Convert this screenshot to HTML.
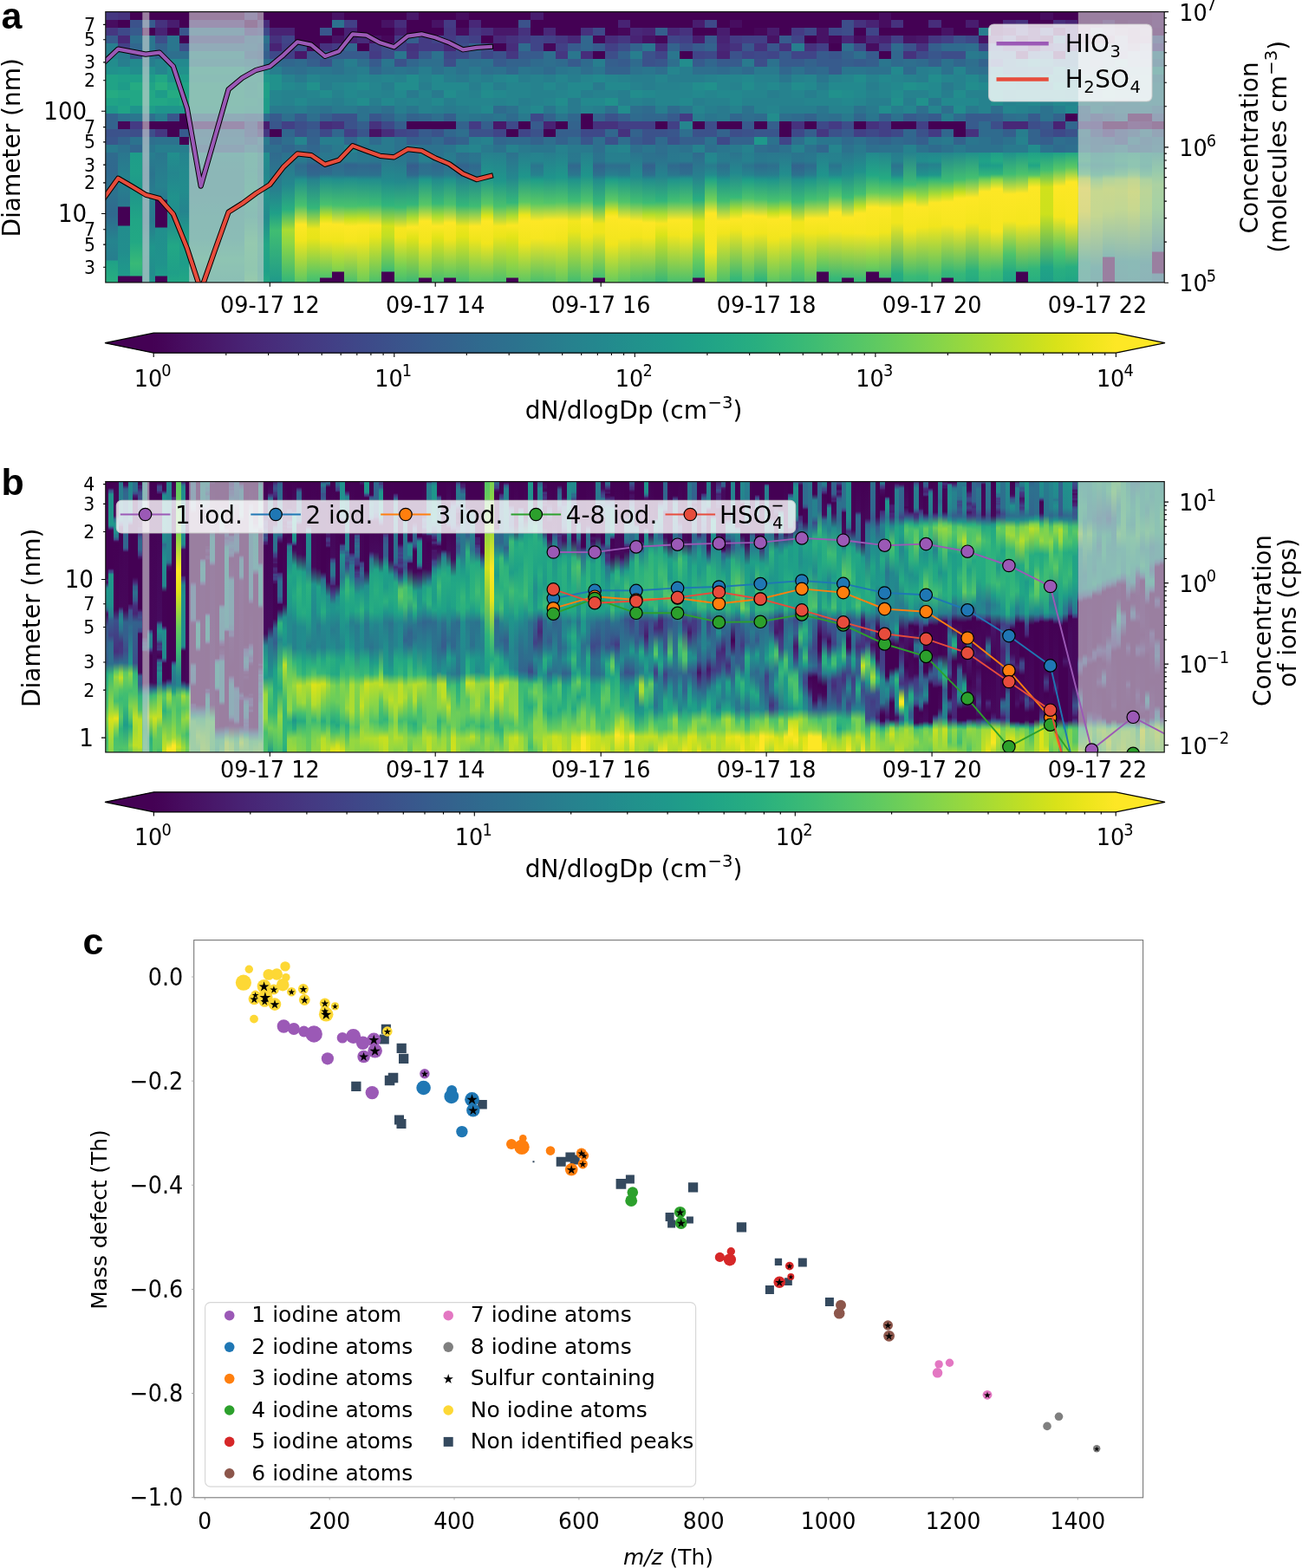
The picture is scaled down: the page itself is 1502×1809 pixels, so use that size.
<!DOCTYPE html><html><head><meta charset="utf-8"><title>figure</title>
<style>html,body{margin:0;padding:0;background:#fff}#fig{position:relative;width:1502px;height:1809px;overflow:hidden;background:#fff}svg{display:block;position:absolute;left:0;top:0}text{font-family:'DejaVu Sans','Liberation Sans',sans-serif;fill:#000}.hm{position:absolute;overflow:hidden}.hm i{position:absolute;top:0;display:block}</style></head><body><div id="fig">
<div class="hm" style="left:121.8px;top:13.6px;width:1221.4px;height:312.3px">
<i style="left:0.0px;width:14.9px;height:313px;background:linear-gradient(#453781 0.1px 9.1px,#470d60 9.1px 18.1px,#453781 18.1px 27.1px,#375b8d 27.1px 36.1px,#277e8e 36.1px 45.0px,#26828e 45.1px 54.0px,#228d8d 54.0px 63.0px,#21918c 63.0px 72.0px,#20a386 72.0px 81.0px,#20a386 81.0px 90.0px,#25ab82 90.0px 99.0px,#20a386 99.0px 108.0px,#1f988b 108.0px 117.0px,#33638d 117.0px 126.0px,#33638d 126.0px 135.0px,#3b528b 134.9px 143.9px,#39568c 143.9px 152.9px,#297a8e 152.9px 161.9px,#2f6b8e 162px,#30698e 184px,#2c728e 208px,#30698e 233px,#25848e 264px,#277e8e 286px,#1fa187 287px,#29af7f 313px)"></i>
<i style="left:14.3px;width:14.4px;height:313px;background:linear-gradient(#46327e 0.1px 9.1px,#440154 9.1px 18.1px,#3e4989 18.1px 27.1px,#482878 27.1px 36.1px,#424086 36.1px 45.0px,#297a8e 45.1px 54.0px,#277e8e 54.0px 63.0px,#1f948c 63.0px 72.0px,#1fa088 72.0px 81.0px,#1e9c89 81.0px 90.0px,#22a785 90.0px 99.0px,#1fa088 99.0px 108.0px,#20a386 108.0px 117.0px,#2c728e 117.0px 126.0px,#46075a 126.0px 135.0px,#3b528b 134.9px 143.9px,#33638d 143.9px 152.9px,#2c728e 152.9px 161.9px,#2a768e 162px,#26828e 190px,#2a768e 219px,#297a8e 224px,#440154 225px,#440154 246px,#228c8d 247px,#218e8d 277px,#1f9a8a 303px,#1f9a8a 304px,#440154 305px,#440154 313px)"></i>
<i style="left:28.1px;width:14.8px;height:313px;background:linear-gradient(#440154 0.1px 9.1px,#3b528b 9.1px 18.1px,#375b8d 18.1px 27.1px,#2e6f8e 27.1px 36.1px,#31678e 36.1px 45.0px,#3b528b 45.1px 54.0px,#23898e 54.0px 63.0px,#228d8d 63.0px 72.0px,#1fa088 72.0px 81.0px,#25ab82 81.0px 90.0px,#22a785 90.0px 99.0px,#22a785 99.0px 108.0px,#1f948c 108.0px 117.0px,#2a768e 117.0px 126.0px,#443b84 126.0px 135.0px,#3d4e8a 134.9px 143.9px,#2c728e 143.9px 152.9px,#31678e 152.9px 161.9px,#1e9d89 162px,#1f9f88 184px,#1f968b 209px,#21a585 240px,#22a884 265px,#38b977 290px,#2cb17e 304px,#440154 305px,#440154 313px)"></i>
<i style="left:42.3px;width:15.6px;height:313px;background:linear-gradient(#440154 0.1px 9.1px,#375b8d 9.1px 18.1px,#440154 18.1px 27.1px,#2a768e 27.1px 36.1px,#2a768e 36.1px 45.0px,#2a768e 45.1px 54.0px,#277e8e 54.0px 63.0px,#21918c 63.0px 72.0px,#1e9c89 72.0px 81.0px,#20a386 81.0px 90.0px,#22a785 90.0px 99.0px,#22a785 99.0px 108.0px,#1e9c89 108.0px 117.0px,#2e6f8e 117.0px 126.0px,#440154 126.0px 135.0px,#3d4e8a 134.9px 143.9px,#2e6f8e 143.9px 152.9px,#2a768e 152.9px 161.9px,#277e8e 162px,#2b748e 187px,#27808e 215px,#297a8e 241px,#1f958b 271px,#228d8d 302px,#1f958b 313px)"></i>
<i style="left:57.3px;width:15.0px;height:313px;background:linear-gradient(#440154 0.1px 9.1px,#46327e 9.1px 18.1px,#482374 18.1px 27.1px,#3d4e8a 27.1px 36.1px,#33638d 36.1px 45.0px,#31678e 45.1px 54.0px,#25858e 54.0px 63.0px,#25858e 63.0px 72.0px,#22a785 72.0px 81.0px,#28ae80 81.0px 90.0px,#1e9c89 90.0px 99.0px,#22a785 99.0px 108.0px,#1f948c 108.0px 117.0px,#277e8e 117.0px 126.0px,#440154 126.0px 135.0px,#453781 134.9px 143.9px,#2c728e 143.9px 152.9px,#277e8e 152.9px 161.9px,#2a778e 162px,#26828e 201px,#2a788e 216px,#440154 217px,#440154 248px,#218f8d 249px,#20938c 291px,#1e9c89 304px,#440154 305px,#440154 313px)"></i>
<i style="left:71.7px;width:14.5px;height:313px;background:linear-gradient(#440154 0.1px 9.1px,#481d6f 9.1px 18.1px,#440154 18.1px 27.1px,#2a768e 27.1px 36.1px,#2a768e 36.1px 45.0px,#2e6f8e 45.1px 54.0px,#23898e 54.0px 63.0px,#1f948c 63.0px 72.0px,#1f948c 72.0px 81.0px,#20a386 81.0px 90.0px,#25ab82 90.0px 99.0px,#20a386 99.0px 108.0px,#1f948c 108.0px 117.0px,#39568c 117.0px 126.0px,#440154 126.0px 135.0px,#440154 134.9px 143.9px,#2c728e 143.9px 152.9px,#277e8e 152.9px 161.9px,#218f8d 162px,#24868e 186px,#20928c 214px,#228b8d 239px,#22a785 270px,#1f9f88 301px,#22a884 313px)"></i>
<i style="left:85.6px;width:11.4px;height:313px;background:linear-gradient(#440154 0.1px 9.1px,#440154 9.1px 18.1px,#39568c 18.1px 27.1px,#440154 27.1px 36.1px,#3d4e8a 36.1px 45.0px,#2e6f8e 45.1px 54.0px,#23898e 54.0px 63.0px,#21918c 63.0px 72.0px,#1e9c89 72.0px 81.0px,#20a386 81.0px 90.0px,#20a386 90.0px 99.0px,#25ab82 99.0px 108.0px,#1f988b 108.0px 117.0px,#440154 117.0px 126.0px,#440154 126.0px 135.0px,#375b8d 134.9px 143.9px,#440154 143.9px 152.9px,#277e8e 152.9px 161.9px,#25838e 162px,#238a8d 185px,#228c8d 207px,#25848e 230px,#1f9f88 260px,#1e9d89 292px,#22a884 313px)"></i>
<i style="left:96.4px;width:64.8px;height:313px;background:linear-gradient(#440154 0.1px 9.1px,#472d7b 9.1px 18.1px,#2c728e 18.1px 27.1px,#3d4e8a 27.1px 36.1px,#2e6f8e 36.1px 45.0px,#228d8d 45.1px 54.0px,#25858e 54.0px 63.0px,#1fa088 63.0px 72.0px,#1e9c89 72.0px 81.0px,#20a386 81.0px 90.0px,#20a386 90.0px 99.0px,#20a386 99.0px 108.0px,#1fa088 108.0px 117.0px,#2c728e 117.0px 126.0px,#482374 126.0px 135.0px,#2c728e 134.9px 143.9px,#2a768e 143.9px 152.9px,#31678e 152.9px 161.9px,#1f948c 162px,#228c8d 186px,#228c8d 208px,#1f968b 235px,#1f988b 259px,#27ad81 285px,#1fa088 313px)"></i>
<i style="left:160.6px;width:15.0px;height:313px;background:linear-gradient(#46327e 0.1px 9.1px,#440154 9.1px 18.1px,#424086 18.1px 27.1px,#2f6b8e 27.1px 36.1px,#2c728e 36.1px 45.0px,#31678e 45.1px 54.0px,#277e8e 54.0px 63.0px,#21918c 63.0px 72.0px,#1e9c89 72.0px 81.0px,#1f988b 81.0px 90.0px,#1e9c89 90.0px 99.0px,#1fa088 99.0px 108.0px,#1e9c89 108.0px 117.0px,#31678e 117.0px 126.0px,#3b528b 126.0px 135.0px,#39568c 134.9px 143.9px,#31678e 143.9px 152.9px,#277e8e 152.9px 161.9px,#1fa088 162px,#1e9c89 184px,#21a685 210px,#1f9e89 235px,#37b878 266px,#2fb47c 297px,#40bd72 313px)"></i>
<i style="left:175.0px;width:15.0px;height:313px;background:linear-gradient(#440154 0.1px 9.1px,#472d7b 9.1px 18.1px,#3e4989 18.1px 27.1px,#2c728e 27.1px 36.1px,#31678e 36.1px 45.0px,#355f8d 45.1px 54.0px,#2c728e 54.0px 63.0px,#228d8d 63.0px 72.0px,#1f988b 72.0px 81.0px,#1fa088 81.0px 90.0px,#1fa088 90.0px 99.0px,#1e9c89 99.0px 108.0px,#1e9c89 108.0px 117.0px,#2f6b8e 117.0px 126.0px,#481d6f 126.0px 135.0px,#453781 134.9px 143.9px,#297a8e 143.9px 152.9px,#2c728e 152.9px 161.9px,#218f8d 162px,#24878e 185px,#20928c 212px,#228b8d 237px,#22a785 268px,#1fa088 299px,#24aa83 313px)"></i>
<i style="left:189.4px;width:14.9px;height:313px;background:linear-gradient(#440154 0.1px 9.1px,#440154 9.1px 18.1px,#482374 18.1px 27.1px,#46327e 27.1px 36.1px,#482374 36.1px 45.0px,#3e4989 45.1px 54.0px,#2f6b8e 54.0px 63.0px,#277e8e 63.0px 72.0px,#21918c 72.0px 81.0px,#21918c 81.0px 90.0px,#25858e 90.0px 99.0px,#25858e 99.0px 108.0px,#297a8e 108.0px 117.0px,#375b8d 117.0px 126.0px,#39568c 126.0px 135.0px,#440154 134.9px 143.9px,#33638d 143.9px 152.9px,#2e6f8e 152.9px 161.9px,#306a8e 162px,#27808e 205px,#1f9f88 232px,#40bd72 252px,#1f998a 313px)"></i>
<i style="left:203.7px;width:14.9px;height:313px;background:linear-gradient(#440154 0.1px 9.1px,#440154 9.1px 18.1px,#482374 18.1px 27.1px,#404588 27.1px 36.1px,#424086 36.1px 45.0px,#424086 45.1px 54.0px,#31678e 54.0px 63.0px,#2c728e 63.0px 72.0px,#26828e 72.0px 81.0px,#23898e 81.0px 90.0px,#26828e 90.0px 99.0px,#26828e 99.0px 108.0px,#297a8e 108.0px 117.0px,#2e6f8e 117.0px 126.0px,#424086 126.0px 135.0px,#31678e 134.9px 143.9px,#2e6f8e 143.9px 152.9px,#31678e 152.9px 161.9px,#2c718e 162px,#24878e 199px,#2ab07f 228px,#aadc32 251px,#90d743 266px,#2fb47c 313px)"></i>
<i style="left:218.1px;width:14.9px;height:313px;background:linear-gradient(#440154 0.1px 9.1px,#440154 9.1px 18.1px,#440154 18.1px 27.1px,#440154 27.1px 36.1px,#3b528b 36.1px 45.0px,#48186a 45.1px 54.0px,#2f6b8e 54.0px 63.0px,#2e6f8e 63.0px 72.0px,#297a8e 72.0px 81.0px,#25858e 81.0px 90.0px,#26828e 90.0px 99.0px,#23898e 99.0px 108.0px,#277e8e 108.0px 117.0px,#375b8d 117.0px 126.0px,#3d4e8a 126.0px 135.0px,#3b528b 134.9px 143.9px,#25858e 143.9px 152.9px,#2e6f8e 152.9px 161.9px,#2a788e 162px,#297a8e 172px,#2f6b8e 177px,#2a768e 188px,#21908d 193px,#48c16e 223px,#fde725 245px,#f1e51d 263px,#58c765 313px)"></i>
<i style="left:232.4px;width:14.9px;height:313px;background:linear-gradient(#440154 0.1px 9.1px,#440154 9.1px 18.1px,#440154 18.1px 27.1px,#440154 27.1px 36.1px,#46075a 36.1px 45.0px,#39568c 45.1px 54.0px,#355f8d 54.0px 63.0px,#2a768e 63.0px 72.0px,#25858e 72.0px 81.0px,#21918c 81.0px 90.0px,#25858e 90.0px 99.0px,#26828e 99.0px 108.0px,#2a768e 108.0px 117.0px,#2e6f8e 117.0px 126.0px,#39568c 126.0px 135.0px,#355f8d 134.9px 143.9px,#33638d 143.9px 152.9px,#31678e 152.9px 161.9px,#2e6f8e 162px,#2d708e 172px,#355e8d 177px,#30698e 188px,#26828e 193px,#34b679 226px,#ece51b 250px,#e7e419 261px,#56c667 304px,#3fbc73 313px)"></i>
<i style="left:246.8px;width:14.9px;height:313px;background:linear-gradient(#440154 0.1px 9.1px,#440154 9.1px 18.1px,#39568c 18.1px 27.1px,#440154 27.1px 36.1px,#46327e 36.1px 45.0px,#355f8d 45.1px 54.0px,#3b528b 54.0px 63.0px,#2a768e 63.0px 72.0px,#277e8e 72.0px 81.0px,#277e8e 81.0px 90.0px,#228d8d 90.0px 99.0px,#26828e 99.0px 108.0px,#2c728e 108.0px 117.0px,#355f8d 117.0px 126.0px,#472d7b 126.0px 135.0px,#3e4989 134.9px 143.9px,#277e8e 143.9px 152.9px,#2c728e 152.9px 161.9px,#2a778e 162px,#29798e 172px,#33638d 176px,#2f6c8e 187px,#218e8d 192px,#48c16e 222px,#d2e21b 237px,#fde725 244px,#f1e51d 263px,#50c46a 306px,#440154 307px,#440154 313px)"></i>
<i style="left:261.1px;width:14.9px;height:313px;background:linear-gradient(#471365 0.1px 9.1px,#2c728e 9.1px 18.1px,#440154 18.1px 27.1px,#471365 27.1px 36.1px,#443b84 36.1px 45.0px,#375b8d 45.1px 54.0px,#2c728e 54.0px 63.0px,#2c728e 63.0px 72.0px,#277e8e 72.0px 81.0px,#25858e 81.0px 90.0px,#26828e 90.0px 99.0px,#277e8e 99.0px 108.0px,#297a8e 108.0px 117.0px,#3b528b 117.0px 126.0px,#46327e 126.0px 135.0px,#31678e 134.9px 143.9px,#277e8e 143.9px 152.9px,#297a8e 152.9px 161.9px,#2a768e 162px,#29798e 172px,#306a8e 177px,#2b758e 188px,#218e8d 193px,#46c06f 223px,#fde725 245px,#efe51c 264px,#7cd250 299px,#440154 300px,#440154 313px)"></i>
<i style="left:275.4px;width:14.9px;height:313px;background:linear-gradient(#440154 0.1px 9.1px,#424086 9.1px 18.1px,#482374 18.1px 27.1px,#482374 27.1px 36.1px,#31678e 36.1px 45.0px,#375b8d 45.1px 54.0px,#277e8e 54.0px 63.0px,#297a8e 63.0px 72.0px,#277e8e 72.0px 81.0px,#23898e 81.0px 90.0px,#23898e 90.0px 99.0px,#25858e 99.0px 108.0px,#297a8e 108.0px 117.0px,#3b528b 117.0px 126.0px,#3b528b 126.0px 135.0px,#424086 134.9px 143.9px,#31678e 143.9px 152.9px,#25858e 152.9px 161.9px,#297a8e 162px,#297b8e 172px,#32648e 176px,#2d708e 188px,#218e8d 192px,#48c16e 224px,#cae11f 239px,#fde725 247px,#f4e61e 264px,#44bf70 313px)"></i>
<i style="left:289.8px;width:14.9px;height:313px;background:linear-gradient(#440154 0.1px 9.1px,#440154 9.1px 18.1px,#440154 18.1px 27.1px,#472d7b 27.1px 36.1px,#440154 36.1px 45.0px,#375b8d 45.1px 54.0px,#2e6f8e 54.0px 63.0px,#277e8e 63.0px 72.0px,#25858e 72.0px 81.0px,#228d8d 81.0px 90.0px,#25858e 90.0px 99.0px,#228d8d 99.0px 108.0px,#2c728e 108.0px 117.0px,#2c728e 117.0px 126.0px,#355f8d 126.0px 135.0px,#39568c 134.9px 143.9px,#297a8e 143.9px 152.9px,#2a768e 152.9px 161.9px,#2a768e 162px,#2a788e 172px,#31678e 177px,#2c728e 188px,#218e8d 193px,#44bf70 223px,#c5e021 238px,#fde725 246px,#f1e51d 264px,#67cc5c 313px)"></i>
<i style="left:304.1px;width:14.9px;height:313px;background:linear-gradient(#440154 0.1px 9.1px,#440154 9.1px 18.1px,#440154 18.1px 27.1px,#471365 27.1px 36.1px,#424086 36.1px 45.0px,#443b84 45.1px 54.0px,#375b8d 54.0px 63.0px,#31678e 63.0px 72.0px,#26828e 72.0px 81.0px,#25858e 81.0px 90.0px,#25858e 90.0px 99.0px,#277e8e 99.0px 108.0px,#2a768e 108.0px 117.0px,#39568c 117.0px 126.0px,#46327e 126.0px 135.0px,#471365 134.9px 143.9px,#2f6b8e 143.9px 152.9px,#297a8e 152.9px 161.9px,#2b748e 162px,#2a768e 172px,#32658e 177px,#2c718e 188px,#228d8d 193px,#3dbc74 222px,#fbe723 246px,#eae51a 259px,#46c06f 313px)"></i>
<i style="left:318.5px;width:14.9px;height:313px;background:linear-gradient(#440154 0.1px 9.1px,#471365 9.1px 18.1px,#440154 18.1px 27.1px,#46075a 27.1px 36.1px,#3d4e8a 36.1px 45.0px,#3d4e8a 45.1px 54.0px,#2a768e 54.0px 63.0px,#2c728e 63.0px 72.0px,#25858e 72.0px 81.0px,#277e8e 81.0px 90.0px,#26828e 90.0px 99.0px,#23898e 99.0px 108.0px,#2e6f8e 108.0px 117.0px,#33638d 117.0px 126.0px,#3e4989 126.0px 135.0px,#472d7b 134.9px 143.9px,#297a8e 143.9px 152.9px,#297a8e 152.9px 161.9px,#2c738e 162px,#228b8d 195px,#31b57b 223px,#d2e21b 247px,#c0df25 259px,#3dbc74 299px,#440154 300px,#440154 313px)"></i>
<i style="left:332.8px;width:14.9px;height:313px;background:linear-gradient(#440154 0.1px 9.1px,#472d7b 9.1px 18.1px,#481d6f 18.1px 27.1px,#443b84 27.1px 36.1px,#424086 36.1px 45.0px,#2a768e 45.1px 54.0px,#3b528b 54.0px 63.0px,#2a768e 63.0px 72.0px,#26828e 72.0px 81.0px,#228d8d 81.0px 90.0px,#23898e 90.0px 99.0px,#26828e 99.0px 108.0px,#277e8e 108.0px 117.0px,#2c728e 117.0px 126.0px,#355f8d 126.0px 135.0px,#404588 134.9px 143.9px,#2c728e 143.9px 152.9px,#2c728e 152.9px 161.9px,#2c718e 162px,#238a8d 196px,#38b977 225px,#f6e620 249px,#f1e51d 260px,#70cf57 295px,#3fbc73 313px)"></i>
<i style="left:347.1px;width:14.9px;height:313px;background:linear-gradient(#48186a 0.1px 9.1px,#440154 9.1px 18.1px,#440154 18.1px 27.1px,#355f8d 27.1px 36.1px,#46327e 36.1px 45.0px,#453781 45.1px 54.0px,#31678e 54.0px 63.0px,#2c728e 63.0px 72.0px,#228d8d 72.0px 81.0px,#228d8d 81.0px 90.0px,#297a8e 90.0px 99.0px,#25858e 99.0px 108.0px,#2a768e 108.0px 117.0px,#33638d 117.0px 126.0px,#440154 126.0px 135.0px,#3e4989 134.9px 143.9px,#355f8d 143.9px 152.9px,#2a768e 152.9px 161.9px,#2e6e8e 162px,#2d708e 172px,#365d8d 177px,#306a8e 188px,#24868e 193px,#34b679 222px,#addc30 237px,#fde725 248px,#dfe318 261px,#37b878 313px)"></i>
<i style="left:361.5px;width:14.9px;height:313px;background:linear-gradient(#440154 0.1px 9.1px,#440154 9.1px 18.1px,#440154 18.1px 27.1px,#443b84 27.1px 36.1px,#443b84 36.1px 45.0px,#375b8d 45.1px 54.0px,#2e6f8e 54.0px 63.0px,#277e8e 63.0px 72.0px,#26828e 72.0px 81.0px,#277e8e 81.0px 90.0px,#25858e 90.0px 99.0px,#26828e 99.0px 108.0px,#26828e 108.0px 117.0px,#31678e 117.0px 126.0px,#440154 126.0px 135.0px,#375b8d 134.9px 143.9px,#33638d 143.9px 152.9px,#2c728e 152.9px 161.9px,#277f8e 162px,#27808e 172px,#2f6c8e 176px,#2c738e 187px,#1f978b 193px,#56c667 222px,#fde725 241px,#f1e51d 265px,#6ccd5a 306px,#440154 307px,#440154 313px)"></i>
<i style="left:375.8px;width:14.9px;height:313px;background:linear-gradient(#440154 0.1px 9.1px,#471365 9.1px 18.1px,#440154 18.1px 27.1px,#404588 27.1px 36.1px,#443b84 36.1px 45.0px,#2c728e 45.1px 54.0px,#2e6f8e 54.0px 63.0px,#2c728e 63.0px 72.0px,#23898e 72.0px 81.0px,#23898e 81.0px 90.0px,#297a8e 90.0px 99.0px,#23898e 99.0px 108.0px,#277e8e 108.0px 117.0px,#2e6f8e 117.0px 126.0px,#440154 126.0px 135.0px,#3b528b 134.9px 143.9px,#2f6b8e 143.9px 152.9px,#2c728e 152.9px 161.9px,#2c728e 162px,#2b758e 172px,#31678e 177px,#2c738e 188px,#228b8d 193px,#38b977 221px,#b0dd2f 236px,#fde725 247px,#e2e418 260px,#3dbc74 313px)"></i>
<i style="left:390.2px;width:14.9px;height:313px;background:linear-gradient(#440154 0.1px 9.1px,#443b84 9.1px 18.1px,#453781 18.1px 27.1px,#443b84 27.1px 36.1px,#482878 36.1px 45.0px,#404588 45.1px 54.0px,#3d4e8a 54.0px 63.0px,#297a8e 63.0px 72.0px,#277e8e 72.0px 81.0px,#23898e 81.0px 90.0px,#228d8d 90.0px 99.0px,#277e8e 99.0px 108.0px,#297a8e 108.0px 117.0px,#355f8d 117.0px 126.0px,#440154 126.0px 135.0px,#31678e 134.9px 143.9px,#375b8d 143.9px 152.9px,#2a768e 152.9px 161.9px,#297a8e 162px,#287d8e 172px,#2e6f8e 177px,#297b8e 188px,#20928c 193px,#4cc26c 222px,#fde725 243px,#f1e51d 262px,#56c667 306px,#440154 307px,#440154 313px)"></i>
<i style="left:404.5px;width:14.9px;height:313px;background:linear-gradient(#470d60 0.1px 9.1px,#440154 9.1px 18.1px,#470d60 18.1px 27.1px,#3e4989 27.1px 36.1px,#3d4e8a 36.1px 45.0px,#3e4989 45.1px 54.0px,#2c728e 54.0px 63.0px,#2c728e 63.0px 72.0px,#297a8e 72.0px 81.0px,#23898e 81.0px 90.0px,#25858e 90.0px 99.0px,#25858e 99.0px 108.0px,#277e8e 108.0px 117.0px,#297a8e 117.0px 126.0px,#33638d 126.0px 135.0px,#2e6f8e 134.9px 143.9px,#33638d 143.9px 152.9px,#26828e 152.9px 161.9px,#2e6e8e 162px,#2d718e 172px,#33638d 177px,#2e6f8e 188px,#25858e 193px,#34b679 223px,#efe51c 247px,#e2e418 259px,#3fbc73 313px)"></i>
<i style="left:418.8px;width:14.9px;height:313px;background:linear-gradient(#440154 0.1px 9.1px,#482878 9.1px 18.1px,#453781 18.1px 27.1px,#424086 27.1px 36.1px,#33638d 36.1px 45.0px,#375b8d 45.1px 54.0px,#2e6f8e 54.0px 63.0px,#297a8e 63.0px 72.0px,#26828e 72.0px 81.0px,#277e8e 81.0px 90.0px,#26828e 90.0px 99.0px,#25858e 99.0px 108.0px,#26828e 108.0px 117.0px,#2a768e 117.0px 126.0px,#443b84 126.0px 135.0px,#3b528b 134.9px 143.9px,#277e8e 143.9px 152.9px,#25858e 152.9px 161.9px,#2c738e 162px,#2a768e 172px,#30698e 177px,#2c728e 188px,#238a8d 193px,#3fbc73 224px,#fde725 247px,#efe51c 262px,#52c569 313px)"></i>
<i style="left:433.2px;width:14.9px;height:313px;background:linear-gradient(#440154 0.1px 9.1px,#440154 9.1px 18.1px,#472d7b 18.1px 27.1px,#440154 27.1px 36.1px,#3d4e8a 36.1px 45.0px,#3e4989 45.1px 54.0px,#2c728e 54.0px 63.0px,#2e6f8e 63.0px 72.0px,#277e8e 72.0px 81.0px,#23898e 81.0px 90.0px,#228d8d 90.0px 99.0px,#25858e 99.0px 108.0px,#23898e 108.0px 117.0px,#2c728e 117.0px 126.0px,#355f8d 126.0px 135.0px,#3b528b 134.9px 143.9px,#26828e 143.9px 152.9px,#297a8e 152.9px 161.9px,#27808e 162px,#1f978b 192px,#58c765 221px,#dae319 235px,#fde725 241px,#f1e51d 267px,#4ec36b 313px)"></i>
<i style="left:447.5px;width:14.9px;height:313px;background:linear-gradient(#440154 0.1px 9.1px,#440154 9.1px 18.1px,#48186a 18.1px 27.1px,#482878 27.1px 36.1px,#440154 36.1px 45.0px,#3b528b 45.1px 54.0px,#375b8d 54.0px 63.0px,#2c728e 63.0px 72.0px,#25858e 72.0px 81.0px,#277e8e 81.0px 90.0px,#23898e 90.0px 99.0px,#26828e 99.0px 108.0px,#2f6b8e 108.0px 117.0px,#2a768e 117.0px 126.0px,#48186a 126.0px 135.0px,#404588 134.9px 143.9px,#31678e 143.9px 152.9px,#2c728e 152.9px 161.9px,#277f8e 162px,#1f968b 195px,#4ac16d 224px,#f6e620 247px,#eae51a 259px,#44bf70 313px)"></i>
<i style="left:461.9px;width:14.9px;height:313px;background:linear-gradient(#440154 0.1px 9.1px,#440154 9.1px 18.1px,#48186a 18.1px 27.1px,#46327e 27.1px 36.1px,#472d7b 36.1px 45.0px,#453781 45.1px 54.0px,#33638d 54.0px 63.0px,#31678e 63.0px 72.0px,#23898e 72.0px 81.0px,#25858e 81.0px 90.0px,#25858e 90.0px 99.0px,#25858e 99.0px 108.0px,#2c728e 108.0px 117.0px,#2f6b8e 117.0px 126.0px,#3e4989 126.0px 135.0px,#440154 134.9px 143.9px,#2f6b8e 143.9px 152.9px,#26828e 152.9px 161.9px,#2d718e 162px,#24878e 191px,#35b779 220px,#addc30 235px,#fbe723 246px,#e2e418 260px,#69cd5b 306px,#440154 307px,#440154 313px)"></i>
<i style="left:476.2px;width:14.9px;height:313px;background:linear-gradient(#440154 0.1px 9.1px,#3b528b 9.1px 18.1px,#46327e 18.1px 27.1px,#443b84 27.1px 36.1px,#2f6b8e 36.1px 45.0px,#375b8d 45.1px 54.0px,#33638d 54.0px 63.0px,#2a768e 63.0px 72.0px,#277e8e 72.0px 81.0px,#25858e 81.0px 90.0px,#25858e 90.0px 99.0px,#277e8e 99.0px 108.0px,#26828e 108.0px 117.0px,#297a8e 117.0px 126.0px,#440154 126.0px 135.0px,#404588 134.9px 143.9px,#2f6b8e 143.9px 152.9px,#297a8e 152.9px 161.9px,#277e8e 162px,#1f968b 190px,#5ac864 219px,#ece51b 234px,#fde725 240px,#f1e51d 266px,#56c667 313px)"></i>
<i style="left:490.5px;width:14.9px;height:313px;background:linear-gradient(#481d6f 0.1px 9.1px,#440154 9.1px 18.1px,#440154 18.1px 27.1px,#404588 27.1px 36.1px,#404588 36.1px 45.0px,#375b8d 45.1px 54.0px,#2f6b8e 54.0px 63.0px,#2c728e 63.0px 72.0px,#26828e 72.0px 81.0px,#26828e 81.0px 90.0px,#26828e 90.0px 99.0px,#26828e 99.0px 108.0px,#23898e 108.0px 117.0px,#3e4989 117.0px 126.0px,#375b8d 126.0px 135.0px,#3b528b 134.9px 143.9px,#33638d 143.9px 152.9px,#2a768e 152.9px 161.9px,#26828e 162px,#25858e 172px,#2b758e 177px,#26828e 188px,#1e9c89 193px,#5ac864 221px,#fde725 241px,#f6e620 261px,#44bf70 313px)"></i>
<i style="left:504.9px;width:14.9px;height:313px;background:linear-gradient(#440154 0.1px 9.1px,#440154 9.1px 18.1px,#482878 18.1px 27.1px,#424086 27.1px 36.1px,#46075a 36.1px 45.0px,#2e6f8e 45.1px 54.0px,#2e6f8e 54.0px 63.0px,#2f6b8e 63.0px 72.0px,#277e8e 72.0px 81.0px,#23898e 81.0px 90.0px,#26828e 90.0px 99.0px,#25858e 99.0px 108.0px,#2a768e 108.0px 117.0px,#33638d 117.0px 126.0px,#482374 126.0px 135.0px,#440154 134.9px 143.9px,#2e6f8e 143.9px 152.9px,#2a768e 152.9px 161.9px,#287d8e 162px,#1f948c 191px,#52c569 220px,#fde725 240px,#f4e61e 262px,#4ac16d 313px)"></i>
<i style="left:519.2px;width:14.9px;height:313px;background:linear-gradient(#440154 0.1px 9.1px,#440154 9.1px 18.1px,#440154 18.1px 27.1px,#453781 27.1px 36.1px,#424086 36.1px 45.0px,#453781 45.1px 54.0px,#2f6b8e 54.0px 63.0px,#2a768e 63.0px 72.0px,#25858e 72.0px 81.0px,#26828e 81.0px 90.0px,#25858e 90.0px 99.0px,#228d8d 99.0px 108.0px,#25858e 108.0px 117.0px,#2a768e 117.0px 126.0px,#440154 126.0px 135.0px,#355f8d 134.9px 143.9px,#33638d 143.9px 152.9px,#26828e 152.9px 161.9px,#26818e 162px,#1f988b 191px,#52c569 219px,#fde725 240px,#f1e51d 262px,#5cc863 313px)"></i>
<i style="left:533.6px;width:14.9px;height:313px;background:linear-gradient(#440154 0.1px 9.1px,#440154 9.1px 18.1px,#440154 18.1px 27.1px,#482878 27.1px 36.1px,#375b8d 36.1px 45.0px,#2a768e 45.1px 54.0px,#375b8d 54.0px 63.0px,#297a8e 63.0px 72.0px,#277e8e 72.0px 81.0px,#23898e 81.0px 90.0px,#23898e 90.0px 99.0px,#297a8e 99.0px 108.0px,#297a8e 108.0px 117.0px,#31678e 117.0px 126.0px,#33638d 126.0px 135.0px,#355f8d 134.9px 143.9px,#2e6f8e 143.9px 152.9px,#297a8e 152.9px 161.9px,#2a778e 162px,#29798e 172px,#31688e 177px,#2a788e 188px,#20928c 193px,#3fbc73 218px,#f4e61e 241px,#eae51a 253px,#40bd72 312px,#40bd72 313px)"></i>
<i style="left:547.9px;width:14.9px;height:313px;background:linear-gradient(#440154 0.1px 9.1px,#440154 9.1px 18.1px,#46327e 18.1px 27.1px,#31678e 27.1px 36.1px,#31678e 36.1px 45.0px,#472d7b 45.1px 54.0px,#2f6b8e 54.0px 63.0px,#2e6f8e 63.0px 72.0px,#25858e 72.0px 81.0px,#23898e 81.0px 90.0px,#277e8e 90.0px 99.0px,#23898e 99.0px 108.0px,#26828e 108.0px 117.0px,#440154 117.0px 126.0px,#440154 126.0px 135.0px,#3e4989 134.9px 143.9px,#39568c 143.9px 152.9px,#297a8e 152.9px 161.9px,#27808e 162px,#1f958b 189px,#50c46a 218px,#fde725 239px,#efe51c 259px,#50c46a 313px)"></i>
<i style="left:562.2px;width:14.9px;height:313px;background:linear-gradient(#440154 0.1px 9.1px,#440154 9.1px 18.1px,#3e4989 18.1px 27.1px,#46075a 27.1px 36.1px,#375b8d 36.1px 45.0px,#440154 45.1px 54.0px,#277e8e 54.0px 63.0px,#2a768e 63.0px 72.0px,#23898e 72.0px 81.0px,#297a8e 81.0px 90.0px,#26828e 90.0px 99.0px,#23898e 99.0px 108.0px,#277e8e 108.0px 117.0px,#33638d 117.0px 126.0px,#46327e 126.0px 135.0px,#3e4989 134.9px 143.9px,#2e6f8e 143.9px 152.9px,#2e6f8e 152.9px 161.9px,#2c728e 162px,#2b748e 172px,#33638d 177px,#2d718e 188px,#228b8d 193px,#38b977 221px,#efe51c 244px,#efe51c 254px,#42be71 306px,#440154 307px,#440154 313px)"></i>
<i style="left:576.6px;width:14.9px;height:313px;background:linear-gradient(#440154 0.1px 9.1px,#440154 9.1px 18.1px,#440154 18.1px 27.1px,#472d7b 27.1px 36.1px,#424086 36.1px 45.0px,#3d4e8a 45.1px 54.0px,#355f8d 54.0px 63.0px,#33638d 63.0px 72.0px,#25858e 72.0px 81.0px,#23898e 81.0px 90.0px,#26828e 90.0px 99.0px,#21918c 99.0px 108.0px,#2e6f8e 108.0px 117.0px,#3b528b 117.0px 126.0px,#46327e 126.0px 135.0px,#31678e 134.9px 143.9px,#3b528b 143.9px 152.9px,#26828e 152.9px 161.9px,#277e8e 162px,#27808e 172px,#2e6e8e 177px,#27808e 188px,#1e9d89 193px,#5cc863 217px,#e7e419 231px,#fde725 236px,#f1e51d 268px,#63cb5f 313px)"></i>
<i style="left:590.9px;width:14.9px;height:313px;background:linear-gradient(#440154 0.1px 9.1px,#482374 9.1px 18.1px,#46075a 18.1px 27.1px,#453781 27.1px 36.1px,#3d4e8a 36.1px 45.0px,#33638d 45.1px 54.0px,#375b8d 54.0px 63.0px,#33638d 63.0px 72.0px,#26828e 72.0px 81.0px,#23898e 81.0px 90.0px,#277e8e 90.0px 99.0px,#277e8e 99.0px 108.0px,#228d8d 108.0px 117.0px,#355f8d 117.0px 126.0px,#424086 126.0px 135.0px,#46327e 134.9px 143.9px,#2e6f8e 143.9px 152.9px,#25858e 152.9px 161.9px,#277e8e 162px,#27808e 172px,#2e6e8e 177px,#287c8e 188px,#1f988b 193px,#50c46a 219px,#fde725 239px,#f4e61e 261px,#54c568 313px)"></i>
<i style="left:605.3px;width:14.9px;height:313px;background:linear-gradient(#440154 0.1px 9.1px,#440154 9.1px 18.1px,#482878 18.1px 27.1px,#482374 27.1px 36.1px,#33638d 36.1px 45.0px,#277e8e 45.1px 54.0px,#2f6b8e 54.0px 63.0px,#2c728e 63.0px 72.0px,#277e8e 72.0px 81.0px,#26828e 81.0px 90.0px,#228d8d 90.0px 99.0px,#26828e 99.0px 108.0px,#2e6f8e 108.0px 117.0px,#2f6b8e 117.0px 126.0px,#424086 126.0px 135.0px,#33638d 134.9px 143.9px,#375b8d 143.9px 152.9px,#2e6f8e 152.9px 161.9px,#2b748e 162px,#228c8d 190px,#42be71 219px,#fde725 241px,#f1e51d 259px,#46c06f 313px)"></i>
<i style="left:619.6px;width:14.9px;height:313px;background:linear-gradient(#440154 0.1px 9.1px,#440154 9.1px 18.1px,#482374 18.1px 27.1px,#471365 27.1px 36.1px,#2a768e 36.1px 45.0px,#3b528b 45.1px 54.0px,#3b528b 54.0px 63.0px,#2a768e 63.0px 72.0px,#277e8e 72.0px 81.0px,#277e8e 81.0px 90.0px,#23898e 90.0px 99.0px,#277e8e 99.0px 108.0px,#2f6b8e 108.0px 117.0px,#31678e 117.0px 126.0px,#424086 126.0px 135.0px,#3b528b 134.9px 143.9px,#3b528b 143.9px 152.9px,#2a768e 152.9px 161.9px,#2c718e 162px,#2c738e 172px,#34618d 177px,#2d708e 188px,#228c8d 193px,#3dbc74 220px,#b8de29 234px,#fde725 243px,#f4e61e 260px,#40bd72 313px)"></i>
<i style="left:633.9px;width:14.9px;height:313px;background:linear-gradient(#440154 0.1px 9.1px,#440154 9.1px 18.1px,#355f8d 18.1px 27.1px,#46075a 27.1px 36.1px,#472d7b 36.1px 45.0px,#404588 45.1px 54.0px,#39568c 54.0px 63.0px,#2e6f8e 63.0px 72.0px,#25858e 72.0px 81.0px,#26828e 81.0px 90.0px,#25858e 90.0px 99.0px,#25858e 99.0px 108.0px,#277e8e 108.0px 117.0px,#31678e 117.0px 126.0px,#440154 126.0px 135.0px,#3b528b 134.9px 143.9px,#2f6b8e 143.9px 152.9px,#2e6f8e 152.9px 161.9px,#2e6d8e 162px,#25838e 189px,#31b57b 218px,#aadc32 233px,#f8e621 244px,#dae319 257px,#31b57b 313px)"></i>
<i style="left:648.3px;width:14.9px;height:313px;background:linear-gradient(#440154 0.1px 9.1px,#440154 9.1px 18.1px,#482878 18.1px 27.1px,#404588 27.1px 36.1px,#33638d 36.1px 45.0px,#2a768e 45.1px 54.0px,#2e6f8e 54.0px 63.0px,#25858e 63.0px 72.0px,#277e8e 72.0px 81.0px,#26828e 81.0px 90.0px,#25858e 90.0px 99.0px,#25858e 99.0px 108.0px,#2f6b8e 108.0px 117.0px,#375b8d 117.0px 126.0px,#424086 126.0px 135.0px,#39568c 134.9px 143.9px,#3b528b 143.9px 152.9px,#2a768e 152.9px 161.9px,#2a778e 162px,#29798e 172px,#30698e 177px,#2a788e 188px,#20938c 193px,#42be71 218px,#fde725 240px,#f1e51d 257px,#44bf70 313px)"></i>
<i style="left:662.6px;width:14.9px;height:313px;background:linear-gradient(#440154 0.1px 9.1px,#440154 9.1px 18.1px,#46327e 18.1px 27.1px,#424086 27.1px 36.1px,#3d4e8a 36.1px 45.0px,#440154 45.1px 54.0px,#228d8d 54.0px 63.0px,#277e8e 63.0px 72.0px,#277e8e 72.0px 81.0px,#25858e 81.0px 90.0px,#25858e 90.0px 99.0px,#23898e 99.0px 108.0px,#2a768e 108.0px 117.0px,#443b84 117.0px 126.0px,#25858e 126.0px 135.0px,#2e6f8e 134.9px 143.9px,#355f8d 143.9px 152.9px,#2c728e 152.9px 161.9px,#29798e 162px,#297b8e 172px,#32648e 176px,#2e6f8e 187px,#20938c 192px,#4cc26c 219px,#fde725 240px,#f4e61e 259px,#44bf70 313px)"></i>
<i style="left:677.0px;width:14.9px;height:313px;background:linear-gradient(#440154 0.1px 9.1px,#481d6f 9.1px 18.1px,#440154 18.1px 27.1px,#481d6f 27.1px 36.1px,#375b8d 36.1px 45.0px,#404588 45.1px 54.0px,#375b8d 54.0px 63.0px,#2e6f8e 63.0px 72.0px,#277e8e 72.0px 81.0px,#228d8d 81.0px 90.0px,#23898e 90.0px 99.0px,#277e8e 99.0px 108.0px,#25858e 108.0px 117.0px,#277e8e 117.0px 126.0px,#440154 126.0px 135.0px,#3b528b 134.9px 143.9px,#355f8d 143.9px 152.9px,#26828e 152.9px 161.9px,#306a8e 162px,#27808e 189px,#29af7f 217px,#dae319 241px,#dae319 252px,#65cb5e 287px,#38b977 306px,#440154 307px,#440154 313px)"></i>
<i style="left:691.3px;width:14.9px;height:313px;background:linear-gradient(#440154 0.1px 9.1px,#3e4989 9.1px 18.1px,#440154 18.1px 27.1px,#375b8d 27.1px 36.1px,#33638d 36.1px 45.0px,#3e4989 45.1px 54.0px,#31678e 54.0px 63.0px,#2e6f8e 63.0px 72.0px,#26828e 72.0px 81.0px,#21918c 81.0px 90.0px,#25858e 90.0px 99.0px,#26828e 99.0px 108.0px,#277e8e 108.0px 117.0px,#2a768e 117.0px 126.0px,#3d4e8a 126.0px 135.0px,#3b528b 134.9px 143.9px,#2c728e 143.9px 152.9px,#2e6f8e 152.9px 161.9px,#25858e 162px,#23898e 172px,#297b8e 177px,#228d8d 188px,#21a585 193px,#73d056 217px,#fde725 232px,#f4e61e 277px,#77d153 313px)"></i>
<i style="left:705.6px;width:14.9px;height:313px;background:linear-gradient(#440154 0.1px 9.1px,#440154 9.1px 18.1px,#481d6f 18.1px 27.1px,#482374 27.1px 36.1px,#482878 36.1px 45.0px,#482374 45.1px 54.0px,#375b8d 54.0px 63.0px,#2f6b8e 63.0px 72.0px,#25858e 72.0px 81.0px,#25858e 81.0px 90.0px,#23898e 90.0px 99.0px,#26828e 99.0px 108.0px,#297a8e 108.0px 117.0px,#297a8e 117.0px 126.0px,#440154 126.0px 135.0px,#33638d 134.9px 143.9px,#3e4989 143.9px 152.9px,#2a768e 152.9px 161.9px,#297a8e 162px,#287c8e 172px,#2e6f8e 177px,#277e8e 188px,#1f948c 193px,#42be71 218px,#fde725 241px,#f1e51d 255px,#46c06f 313px)"></i>
<i style="left:720.0px;width:14.9px;height:313px;background:linear-gradient(#440154 0.1px 9.1px,#470d60 9.1px 18.1px,#440154 18.1px 27.1px,#443b84 27.1px 36.1px,#46327e 36.1px 45.0px,#3b528b 45.1px 54.0px,#375b8d 54.0px 63.0px,#2c728e 63.0px 72.0px,#25858e 72.0px 81.0px,#26828e 81.0px 90.0px,#23898e 90.0px 99.0px,#23898e 99.0px 108.0px,#26828e 108.0px 117.0px,#31678e 117.0px 126.0px,#440154 126.0px 135.0px,#3d4e8a 134.9px 143.9px,#33638d 143.9px 152.9px,#297a8e 152.9px 161.9px,#2c738e 162px,#23898e 186px,#38b977 214px,#b8de29 229px,#fde725 239px,#f1e51d 251px,#37b878 307px,#31b57b 313px)"></i>
<i style="left:734.3px;width:14.9px;height:313px;background:linear-gradient(#440154 0.1px 9.1px,#440154 9.1px 18.1px,#440154 18.1px 27.1px,#424086 27.1px 36.1px,#39568c 36.1px 45.0px,#404588 45.1px 54.0px,#297a8e 54.0px 63.0px,#2f6b8e 63.0px 72.0px,#23898e 72.0px 81.0px,#228d8d 81.0px 90.0px,#25858e 90.0px 99.0px,#26828e 99.0px 108.0px,#2c728e 108.0px 117.0px,#2e6f8e 117.0px 126.0px,#375b8d 126.0px 135.0px,#3b528b 134.9px 143.9px,#33638d 143.9px 152.9px,#26828e 152.9px 161.9px,#277e8e 162px,#26818e 172px,#2b748e 177px,#25858e 188px,#1e9d89 193px,#4ec36b 215px,#fde725 235px,#f4e61e 256px,#4ac16d 310px,#46c06f 313px)"></i>
<i style="left:748.7px;width:14.9px;height:313px;background:linear-gradient(#440154 0.1px 9.1px,#440154 9.1px 18.1px,#46075a 18.1px 27.1px,#424086 27.1px 36.1px,#46327e 36.1px 45.0px,#3e4989 45.1px 54.0px,#3d4e8a 54.0px 63.0px,#297a8e 63.0px 72.0px,#26828e 72.0px 81.0px,#25858e 81.0px 90.0px,#25858e 90.0px 99.0px,#26828e 99.0px 108.0px,#26828e 108.0px 117.0px,#2f6b8e 117.0px 126.0px,#440154 126.0px 135.0px,#39568c 134.9px 143.9px,#1f988b 143.9px 152.9px,#2e6f8e 152.9px 161.9px,#2a768e 162px,#29798e 172px,#2f6b8e 177px,#287d8e 188px,#1f968b 193px,#4ac16d 216px,#fde725 236px,#f1e51d 255px,#32b67a 308px,#2db27d 313px)"></i>
<i style="left:763.0px;width:14.9px;height:313px;background:linear-gradient(#440154 0.1px 9.1px,#440154 9.1px 18.1px,#481d6f 18.1px 27.1px,#471365 27.1px 36.1px,#39568c 36.1px 45.0px,#404588 45.1px 54.0px,#2c728e 54.0px 63.0px,#297a8e 63.0px 72.0px,#26828e 72.0px 81.0px,#23898e 81.0px 90.0px,#277e8e 90.0px 99.0px,#26828e 99.0px 108.0px,#25858e 108.0px 117.0px,#228d8d 117.0px 126.0px,#355f8d 126.0px 135.0px,#39568c 134.9px 143.9px,#2c728e 143.9px 152.9px,#2f6b8e 152.9px 161.9px,#2a788e 162px,#297b8e 172px,#2e6f8e 177px,#277e8e 188px,#1f948c 193px,#48c16e 218px,#c8e020 232px,#fde725 239px,#f1e51d 262px,#56c667 313px)"></i>
<i style="left:777.3px;width:14.9px;height:313px;background:linear-gradient(#440154 0.1px 9.1px,#440154 9.1px 18.1px,#440154 18.1px 27.1px,#375b8d 27.1px 36.1px,#46327e 36.1px 45.0px,#375b8d 45.1px 54.0px,#375b8d 54.0px 63.0px,#31678e 63.0px 72.0px,#2a768e 72.0px 81.0px,#26828e 81.0px 90.0px,#26828e 90.0px 99.0px,#26828e 99.0px 108.0px,#277e8e 108.0px 117.0px,#2e6f8e 117.0px 126.0px,#440154 126.0px 135.0px,#440154 134.9px 143.9px,#404588 143.9px 152.9px,#2c728e 152.9px 161.9px,#2a778e 162px,#228d8d 187px,#46c06f 216px,#c5e021 230px,#fde725 237px,#f4e61e 258px,#4ac16d 313px)"></i>
<i style="left:791.7px;width:14.9px;height:313px;background:linear-gradient(#440154 0.1px 9.1px,#440154 9.1px 18.1px,#443b84 18.1px 27.1px,#404588 27.1px 36.1px,#277e8e 36.1px 45.0px,#404588 45.1px 54.0px,#375b8d 54.0px 63.0px,#2c728e 63.0px 72.0px,#26828e 72.0px 81.0px,#228d8d 81.0px 90.0px,#25858e 90.0px 99.0px,#26828e 99.0px 108.0px,#277e8e 108.0px 117.0px,#2f6b8e 117.0px 126.0px,#46327e 126.0px 135.0px,#3e4989 134.9px 143.9px,#2e6f8e 143.9px 152.9px,#26828e 152.9px 161.9px,#2b748e 162px,#2a768e 172px,#33638d 177px,#2c728e 188px,#218f8d 193px,#3bbb75 219px,#f1e51d 242px,#efe51c 253px,#67cc5c 291px,#37b878 313px)"></i>
<i style="left:806.0px;width:14.9px;height:313px;background:linear-gradient(#440154 0.1px 9.1px,#440154 9.1px 18.1px,#3e4989 18.1px 27.1px,#440154 27.1px 36.1px,#46327e 36.1px 45.0px,#404588 45.1px 54.0px,#33638d 54.0px 63.0px,#31678e 63.0px 72.0px,#25858e 72.0px 81.0px,#23898e 81.0px 90.0px,#277e8e 90.0px 99.0px,#25858e 99.0px 108.0px,#277e8e 108.0px 117.0px,#33638d 117.0px 126.0px,#440154 126.0px 135.0px,#355f8d 134.9px 143.9px,#26828e 143.9px 152.9px,#2c728e 152.9px 161.9px,#2a768e 162px,#29798e 172px,#2f6b8e 177px,#287d8e 188px,#1f958b 193px,#44bf70 216px,#fde725 238px,#f1e51d 255px,#4cc26c 313px)"></i>
<i style="left:820.4px;width:14.9px;height:313px;background:linear-gradient(#440154 0.1px 9.1px,#440154 9.1px 18.1px,#471365 18.1px 27.1px,#471365 27.1px 36.1px,#424086 36.1px 45.0px,#375b8d 45.1px 54.0px,#375b8d 54.0px 63.0px,#2f6b8e 63.0px 72.0px,#2a768e 72.0px 81.0px,#277e8e 81.0px 90.0px,#25858e 90.0px 99.0px,#25858e 99.0px 108.0px,#2a768e 108.0px 117.0px,#2c728e 117.0px 126.0px,#3e4989 126.0px 135.0px,#453781 134.9px 143.9px,#2a768e 143.9px 152.9px,#31678e 152.9px 161.9px,#277f8e 162px,#1f948c 188px,#4ac16d 216px,#fde725 238px,#efe51c 255px,#48c16e 299px,#440154 300px,#440154 313px)"></i>
<i style="left:834.7px;width:14.9px;height:313px;background:linear-gradient(#440154 0.1px 9.1px,#440154 9.1px 18.1px,#3e4989 18.1px 27.1px,#46075a 27.1px 36.1px,#440154 36.1px 45.0px,#39568c 45.1px 54.0px,#375b8d 54.0px 63.0px,#375b8d 63.0px 72.0px,#26828e 72.0px 81.0px,#23898e 81.0px 90.0px,#21918c 90.0px 99.0px,#25858e 99.0px 108.0px,#26828e 108.0px 117.0px,#2e6f8e 117.0px 126.0px,#443b84 126.0px 135.0px,#3b528b 134.9px 143.9px,#2a768e 143.9px 152.9px,#25858e 152.9px 161.9px,#27808e 162px,#26828e 172px,#2b748e 177px,#23888e 188px,#1fa287 193px,#54c568 212px,#fde725 231px,#f6e620 253px,#37b878 307px,#31b57b 313px)"></i>
<i style="left:849.0px;width:14.9px;height:313px;background:linear-gradient(#440154 0.1px 9.1px,#3d4e8a 9.1px 18.1px,#3d4e8a 18.1px 27.1px,#482878 27.1px 36.1px,#2e6f8e 36.1px 45.0px,#33638d 45.1px 54.0px,#355f8d 54.0px 63.0px,#2a768e 63.0px 72.0px,#25858e 72.0px 81.0px,#23898e 81.0px 90.0px,#228d8d 90.0px 99.0px,#23898e 99.0px 108.0px,#26828e 108.0px 117.0px,#297a8e 117.0px 126.0px,#3d4e8a 126.0px 135.0px,#375b8d 134.9px 143.9px,#2f6b8e 143.9px 152.9px,#2c728e 152.9px 161.9px,#2a778e 162px,#218e8d 187px,#3dbc74 214px,#fde725 237px,#f4e61e 255px,#3fbc73 306px,#440154 307px,#440154 313px)"></i>
<i style="left:863.4px;width:14.9px;height:313px;background:linear-gradient(#440154 0.1px 9.1px,#46327e 9.1px 18.1px,#440154 18.1px 27.1px,#470d60 27.1px 36.1px,#3d4e8a 36.1px 45.0px,#2e6f8e 45.1px 54.0px,#375b8d 54.0px 63.0px,#2a768e 63.0px 72.0px,#228d8d 72.0px 81.0px,#23898e 81.0px 90.0px,#23898e 90.0px 99.0px,#25858e 99.0px 108.0px,#2c728e 108.0px 117.0px,#31678e 117.0px 126.0px,#440154 126.0px 135.0px,#424086 134.9px 143.9px,#2c728e 143.9px 152.9px,#297a8e 152.9px 161.9px,#287c8e 162px,#20928c 184px,#44bf70 210px,#c0df25 224px,#fde725 232px,#f6e620 255px,#3aba76 309px,#35b779 313px)"></i>
<i style="left:877.7px;width:14.9px;height:313px;background:linear-gradient(#440154 0.1px 9.1px,#482374 9.1px 18.1px,#404588 18.1px 27.1px,#482878 27.1px 36.1px,#470d60 36.1px 45.0px,#375b8d 45.1px 54.0px,#355f8d 54.0px 63.0px,#2c728e 63.0px 72.0px,#26828e 72.0px 81.0px,#277e8e 81.0px 90.0px,#26828e 90.0px 99.0px,#277e8e 99.0px 108.0px,#297a8e 108.0px 117.0px,#2a768e 117.0px 126.0px,#46327e 126.0px 135.0px,#3e4989 134.9px 143.9px,#31678e 143.9px 152.9px,#2e6f8e 152.9px 161.9px,#23898e 162px,#22a785 188px,#63cb5f 208px,#fde725 225px,#f4e61e 256px,#5ac864 299px,#440154 300px,#440154 313px)"></i>
<i style="left:892.1px;width:14.9px;height:313px;background:linear-gradient(#470d60 0.1px 9.1px,#470d60 9.1px 18.1px,#440154 18.1px 27.1px,#482374 27.1px 36.1px,#443b84 36.1px 45.0px,#440154 45.1px 54.0px,#2a768e 54.0px 63.0px,#2c728e 63.0px 72.0px,#23898e 72.0px 81.0px,#25858e 81.0px 90.0px,#25858e 90.0px 99.0px,#277e8e 99.0px 108.0px,#228d8d 108.0px 117.0px,#355f8d 117.0px 126.0px,#424086 126.0px 135.0px,#424086 134.9px 143.9px,#33638d 143.9px 152.9px,#2c728e 152.9px 161.9px,#25858e 162px,#25ab82 192px,#63cb5f 209px,#fde725 226px,#f1e51d 254px,#3fbc73 306px,#440154 307px,#440154 313px)"></i>
<i style="left:906.4px;width:14.9px;height:313px;background:linear-gradient(#440154 0.1px 9.1px,#46327e 9.1px 18.1px,#440154 18.1px 27.1px,#424086 27.1px 36.1px,#2f6b8e 36.1px 45.0px,#31678e 45.1px 54.0px,#2f6b8e 54.0px 63.0px,#23898e 63.0px 72.0px,#25858e 72.0px 81.0px,#23898e 81.0px 90.0px,#228d8d 90.0px 99.0px,#21918c 99.0px 108.0px,#277e8e 108.0px 117.0px,#2c728e 117.0px 126.0px,#440154 126.0px 135.0px,#3e4989 134.9px 143.9px,#2f6b8e 143.9px 152.9px,#2c728e 152.9px 161.9px,#287c8e 162px,#26828e 172px,#2c738e 177px,#24878e 188px,#21a585 193px,#6ccd5a 211px,#f1e51d 226px,#f1e51d 243px,#27ad81 302px,#22a785 313px)"></i>
<i style="left:920.7px;width:14.9px;height:313px;background:linear-gradient(#440154 0.1px 9.1px,#440154 9.1px 18.1px,#440154 18.1px 27.1px,#471365 27.1px 36.1px,#3b528b 36.1px 45.0px,#46327e 45.1px 54.0px,#2e6f8e 54.0px 63.0px,#2f6b8e 63.0px 72.0px,#26828e 72.0px 81.0px,#21918c 81.0px 90.0px,#26828e 90.0px 99.0px,#277e8e 99.0px 108.0px,#25858e 108.0px 117.0px,#375b8d 117.0px 126.0px,#440154 126.0px 135.0px,#31678e 134.9px 143.9px,#31678e 143.9px 152.9px,#26828e 152.9px 161.9px,#26828e 162px,#3fbc73 199px,#c0df25 214px,#fde725 222px,#f4e61e 252px,#3aba76 305px,#31b57b 313px)"></i>
<i style="left:935.1px;width:14.9px;height:313px;background:linear-gradient(#440154 0.1px 9.1px,#440154 9.1px 18.1px,#440154 18.1px 27.1px,#48186a 27.1px 36.1px,#46327e 36.1px 45.0px,#3e4989 45.1px 54.0px,#2f6b8e 54.0px 63.0px,#277e8e 63.0px 72.0px,#277e8e 72.0px 81.0px,#228d8d 81.0px 90.0px,#26828e 90.0px 99.0px,#21918c 99.0px 108.0px,#2e6f8e 108.0px 117.0px,#33638d 117.0px 126.0px,#424086 126.0px 135.0px,#3b528b 134.9px 143.9px,#355f8d 143.9px 152.9px,#2c728e 152.9px 161.9px,#24868e 162px,#218e8d 172px,#287d8e 176px,#20928c 188px,#27ad81 192px,#8ed645 211px,#fde725 225px,#f4e61e 248px,#37b878 305px,#2fb47c 313px)"></i>
<i style="left:949.4px;width:14.9px;height:313px;background:linear-gradient(#440154 0.1px 9.1px,#472d7b 9.1px 18.1px,#440154 18.1px 27.1px,#453781 27.1px 36.1px,#355f8d 36.1px 45.0px,#39568c 45.1px 54.0px,#355f8d 54.0px 63.0px,#26828e 63.0px 72.0px,#228d8d 72.0px 81.0px,#23898e 81.0px 90.0px,#23898e 90.0px 99.0px,#2a768e 99.0px 108.0px,#25858e 108.0px 117.0px,#375b8d 117.0px 126.0px,#440154 126.0px 135.0px,#443b84 134.9px 143.9px,#2a768e 143.9px 152.9px,#2f6b8e 152.9px 161.9px,#24878e 162px,#20928c 172px,#26818e 176px,#1f978b 188px,#32b67a 193px,#a2da37 209px,#fde725 220px,#f1e51d 247px,#44bf70 305px,#3bbb75 313px)"></i>
<i style="left:963.8px;width:14.9px;height:313px;background:linear-gradient(#440154 0.1px 9.1px,#440154 9.1px 18.1px,#471365 18.1px 27.1px,#424086 27.1px 36.1px,#2f6b8e 36.1px 45.0px,#3d4e8a 45.1px 54.0px,#2c728e 54.0px 63.0px,#2c728e 63.0px 72.0px,#25858e 72.0px 81.0px,#297a8e 81.0px 90.0px,#277e8e 90.0px 99.0px,#23898e 99.0px 108.0px,#2e6f8e 108.0px 117.0px,#277e8e 117.0px 126.0px,#440154 126.0px 135.0px,#31678e 134.9px 143.9px,#297a8e 143.9px 152.9px,#2c728e 152.9px 161.9px,#24868e 162px,#3dbc74 195px,#bade28 210px,#fde725 219px,#f6e620 245px,#35b779 300px,#2fb47c 306px,#440154 307px,#440154 313px)"></i>
<i style="left:978.1px;width:14.9px;height:313px;background:linear-gradient(#440154 0.1px 9.1px,#440154 9.1px 18.1px,#440154 18.1px 27.1px,#3b528b 27.1px 36.1px,#2f6b8e 36.1px 45.0px,#3d4e8a 45.1px 54.0px,#31678e 54.0px 63.0px,#25858e 63.0px 72.0px,#26828e 72.0px 81.0px,#26828e 81.0px 90.0px,#228d8d 90.0px 99.0px,#23898e 99.0px 108.0px,#228d8d 108.0px 117.0px,#2f6b8e 117.0px 126.0px,#440154 126.0px 135.0px,#440154 134.9px 143.9px,#33638d 143.9px 152.9px,#297a8e 152.9px 161.9px,#238a8d 162px,#42be71 193px,#c8e020 208px,#fde725 215px,#f6e620 248px,#35b779 302px,#2cb17e 313px)"></i>
<i style="left:992.4px;width:14.9px;height:313px;background:linear-gradient(#440154 0.1px 9.1px,#481d6f 9.1px 18.1px,#440154 18.1px 27.1px,#3e4989 27.1px 36.1px,#2e6f8e 36.1px 45.0px,#297a8e 45.1px 54.0px,#2e6f8e 54.0px 63.0px,#2c728e 63.0px 72.0px,#23898e 72.0px 81.0px,#228d8d 81.0px 90.0px,#26828e 90.0px 99.0px,#23898e 99.0px 108.0px,#297a8e 108.0px 117.0px,#375b8d 117.0px 126.0px,#375b8d 126.0px 135.0px,#46327e 134.9px 143.9px,#2a768e 143.9px 152.9px,#2c728e 152.9px 161.9px,#21918c 162px,#44bf70 191px,#fde725 214px,#f4e61e 243px,#2db27d 298px,#23a983 313px)"></i>
<i style="left:1006.8px;width:14.9px;height:313px;background:linear-gradient(#440154 0.1px 9.1px,#440154 9.1px 18.1px,#277e8e 18.1px 27.1px,#471365 27.1px 36.1px,#404588 36.1px 45.0px,#2a768e 45.1px 54.0px,#33638d 54.0px 63.0px,#2e6f8e 63.0px 72.0px,#277e8e 72.0px 81.0px,#23898e 81.0px 90.0px,#26828e 90.0px 99.0px,#26828e 99.0px 108.0px,#26828e 108.0px 117.0px,#375b8d 117.0px 126.0px,#2f6b8e 126.0px 135.0px,#2f6b8e 134.9px 143.9px,#2c728e 143.9px 152.9px,#2c728e 152.9px 161.9px,#1f958b 162px,#1fa287 172px,#1e9b8a 177px,#31b57b 188px,#6ece58 193px,#fde725 207px,#f1e51d 249px,#42be71 300px,#34b679 313px)"></i>
<i style="left:1021.1px;width:14.9px;height:313px;background:linear-gradient(#440154 0.1px 9.1px,#440154 9.1px 18.1px,#440154 18.1px 27.1px,#481d6f 27.1px 36.1px,#3b528b 36.1px 45.0px,#355f8d 45.1px 54.0px,#3d4e8a 54.0px 63.0px,#277e8e 63.0px 72.0px,#25858e 72.0px 81.0px,#25858e 81.0px 90.0px,#228d8d 90.0px 99.0px,#228d8d 99.0px 108.0px,#2e6f8e 108.0px 117.0px,#355f8d 117.0px 126.0px,#3d4e8a 126.0px 135.0px,#2f6b8e 134.9px 143.9px,#2f6b8e 143.9px 152.9px,#2c728e 152.9px 161.9px,#1f9e89 162px,#24aa83 172px,#1e9d89 177px,#2eb37c 187px,#8ed645 193px,#fde725 204px,#f6e620 253px,#3fbc73 299px,#2fb47c 313px)"></i>
<i style="left:1035.5px;width:14.9px;height:313px;background:linear-gradient(#440154 0.1px 9.1px,#482878 9.1px 18.1px,#471365 18.1px 27.1px,#424086 27.1px 36.1px,#46327e 36.1px 45.0px,#355f8d 45.1px 54.0px,#2f6b8e 54.0px 63.0px,#2f6b8e 63.0px 72.0px,#23898e 72.0px 81.0px,#23898e 81.0px 90.0px,#26828e 90.0px 99.0px,#26828e 99.0px 108.0px,#25858e 108.0px 117.0px,#2e6f8e 117.0px 126.0px,#482878 126.0px 135.0px,#355f8d 134.9px 143.9px,#2c728e 143.9px 152.9px,#297a8e 152.9px 161.9px,#20928c 162px,#40bd72 187px,#fde725 210px,#f6e620 241px,#4ec36b 279px,#24aa83 300px,#1fa287 313px)"></i>
<i style="left:1049.8px;width:14.9px;height:313px;background:linear-gradient(#440154 0.1px 9.1px,#46327e 9.1px 18.1px,#453781 18.1px 27.1px,#440154 27.1px 36.1px,#453781 36.1px 45.0px,#440154 45.1px 54.0px,#2a768e 54.0px 63.0px,#2f6b8e 63.0px 72.0px,#277e8e 72.0px 81.0px,#26828e 81.0px 90.0px,#25858e 90.0px 99.0px,#25858e 99.0px 108.0px,#26828e 108.0px 117.0px,#2c728e 117.0px 126.0px,#482878 126.0px 135.0px,#277e8e 134.9px 143.9px,#26828e 143.9px 152.9px,#297a8e 152.9px 161.9px,#1f9a8a 162px,#4cc26c 187px,#fde725 209px,#f4e61e 244px,#2eb37c 299px,#440154 300px,#440154 313px)"></i>
<i style="left:1064.1px;width:14.9px;height:313px;background:linear-gradient(#440154 0.1px 9.1px,#440154 9.1px 18.1px,#48186a 18.1px 27.1px,#48186a 27.1px 36.1px,#470d60 36.1px 45.0px,#39568c 45.1px 54.0px,#26828e 54.0px 63.0px,#2e6f8e 63.0px 72.0px,#297a8e 72.0px 81.0px,#26828e 81.0px 90.0px,#23898e 90.0px 99.0px,#23898e 99.0px 108.0px,#277e8e 108.0px 117.0px,#375b8d 117.0px 126.0px,#3d4e8a 126.0px 135.0px,#33638d 134.9px 143.9px,#33638d 143.9px 152.9px,#228d8d 152.9px 161.9px,#1fa187 162px,#28ae80 172px,#21a585 177px,#52c569 188px,#b0dd2f 193px,#fde725 202px,#f6e620 243px,#32b67a 296px,#26ad81 313px)"></i>
<i style="left:1078.5px;width:14.9px;height:313px;background:linear-gradient(#470d60 0.1px 9.1px,#440154 9.1px 18.1px,#424086 18.1px 27.1px,#440154 27.1px 36.1px,#46327e 36.1px 45.0px,#355f8d 45.1px 54.0px,#297a8e 54.0px 63.0px,#2f6b8e 63.0px 72.0px,#23898e 72.0px 81.0px,#297a8e 81.0px 90.0px,#25858e 90.0px 99.0px,#26828e 99.0px 108.0px,#2c728e 108.0px 117.0px,#2c728e 117.0px 126.0px,#39568c 126.0px 135.0px,#3b528b 134.9px 143.9px,#355f8d 143.9px 152.9px,#2c728e 152.9px 161.9px,#1e9c89 162px,#42be71 182px,#d0e11c 202px,#cde11d 233px,#20a486 294px,#1e9d89 313px)"></i>
<i style="left:1092.8px;width:14.9px;height:313px;background:linear-gradient(#440154 0.1px 9.1px,#472d7b 9.1px 18.1px,#440154 18.1px 27.1px,#31678e 27.1px 36.1px,#424086 36.1px 45.0px,#440154 45.1px 54.0px,#31678e 54.0px 63.0px,#25858e 63.0px 72.0px,#26828e 72.0px 81.0px,#21918c 81.0px 90.0px,#25858e 90.0px 99.0px,#23898e 99.0px 108.0px,#277e8e 108.0px 117.0px,#33638d 117.0px 126.0px,#482374 126.0px 135.0px,#3e4989 134.9px 143.9px,#2e6f8e 143.9px 152.9px,#2f6b8e 152.9px 161.9px,#1fa287 162px,#56c667 181px,#fde725 201px,#f4e61e 236px,#52c569 276px,#28ae80 297px,#22a884 313px)"></i>
<i style="left:1107.2px;width:14.9px;height:313px;background:linear-gradient(#440154 0.1px 9.1px,#482374 9.1px 18.1px,#482878 18.1px 27.1px,#482878 27.1px 36.1px,#482878 36.1px 45.0px,#33638d 45.1px 54.0px,#31678e 54.0px 63.0px,#2c728e 63.0px 72.0px,#277e8e 72.0px 81.0px,#23898e 81.0px 90.0px,#26828e 90.0px 99.0px,#25858e 99.0px 108.0px,#23898e 108.0px 117.0px,#440154 117.0px 126.0px,#31678e 126.0px 135.0px,#3b528b 134.9px 143.9px,#2f6b8e 143.9px 152.9px,#2e6f8e 152.9px 161.9px,#22a884 162px,#5cc863 179px,#fde725 196px,#f6e620 242px,#28ae80 294px,#20a486 313px)"></i>
<i style="left:1121.5px;width:14.9px;height:313px;background:linear-gradient(#440154 0.1px 9.1px,#440154 9.1px 18.1px,#440154 18.1px 27.1px,#440154 27.1px 36.1px,#453781 36.1px 45.0px,#31678e 45.1px 54.0px,#2f6b8e 54.0px 63.0px,#2c728e 63.0px 72.0px,#26828e 72.0px 81.0px,#26828e 81.0px 90.0px,#25858e 90.0px 99.0px,#23898e 99.0px 108.0px,#2f6b8e 108.0px 117.0px,#31678e 117.0px 126.0px,#424086 126.0px 135.0px,#297a8e 134.9px 143.9px,#2a768e 143.9px 152.9px,#277e8e 152.9px 161.9px,#20a486 162px,#28ae80 172px,#1fa188 176px,#46c06f 187px,#b8de29 192px,#f4e61e 203px,#e5e419 230px,#20a386 289px,#1e9b8a 313px)"></i>
<i style="left:1135.8px;width:14.9px;height:313px;background:linear-gradient(#440154 0.1px 9.1px,#46075a 9.1px 18.1px,#3b528b 18.1px 27.1px,#481d6f 27.1px 36.1px,#39568c 36.1px 45.0px,#33638d 45.1px 54.0px,#355f8d 54.0px 63.0px,#2c728e 63.0px 72.0px,#26828e 72.0px 81.0px,#25858e 81.0px 90.0px,#277e8e 90.0px 99.0px,#26828e 99.0px 108.0px,#25858e 108.0px 117.0px,#3b528b 117.0px 126.0px,#443b84 126.0px 135.0px,#39568c 134.9px 143.9px,#2f6b8e 143.9px 152.9px,#2e6f8e 152.9px 161.9px,#20928c 162px,#1e9c89 172px,#20928c 177px,#28ae80 188px,#65cb5e 193px,#b5de2b 206px,#b0dd2f 234px,#20938c 295px,#228c8d 313px)"></i>
<i style="left:1150.2px;width:14.9px;height:313px;background:linear-gradient(#440154 0.1px 9.1px,#481d6f 9.1px 18.1px,#46327e 18.1px 27.1px,#440154 27.1px 36.1px,#3b528b 36.1px 45.0px,#31678e 45.1px 54.0px,#31678e 54.0px 63.0px,#26828e 63.0px 72.0px,#277e8e 72.0px 81.0px,#23898e 81.0px 90.0px,#1f948c 90.0px 99.0px,#26828e 99.0px 108.0px,#2a768e 108.0px 117.0px,#355f8d 117.0px 126.0px,#440154 126.0px 135.0px,#443b84 134.9px 143.9px,#31678e 143.9px 152.9px,#2a768e 152.9px 161.9px,#1f958b 162px,#1f9f88 172px,#1f958b 177px,#2cb17e 187px,#7fd34e 192px,#bade28 204px,#aadc32 230px,#1f978b 282px,#440154 283px,#440154 313px)"></i>
<i style="left:1164.5px;width:14.9px;height:313px;background:linear-gradient(#440154 0.1px 9.1px,#440154 9.1px 18.1px,#471365 18.1px 27.1px,#404588 27.1px 36.1px,#404588 36.1px 45.0px,#443b84 45.1px 54.0px,#26828e 54.0px 63.0px,#2e6f8e 63.0px 72.0px,#25858e 72.0px 81.0px,#25858e 81.0px 90.0px,#25858e 90.0px 99.0px,#297a8e 99.0px 108.0px,#297a8e 108.0px 117.0px,#2c728e 117.0px 126.0px,#440154 126.0px 135.0px,#39568c 134.9px 143.9px,#39568c 143.9px 152.9px,#26828e 152.9px 161.9px,#1f9f88 162px,#23a983 172px,#1fa088 177px,#46c06f 188px,#95d840 193px,#b5de2b 206px,#a5db36 228px,#20928c 287px,#238a8d 313px)"></i>
<i style="left:1178.9px;width:14.9px;height:313px;background:linear-gradient(#440154 0.1px 9.1px,#46075a 9.1px 18.1px,#440154 18.1px 27.1px,#440154 27.1px 36.1px,#481d6f 36.1px 45.0px,#355f8d 45.1px 54.0px,#355f8d 54.0px 63.0px,#277e8e 63.0px 72.0px,#297a8e 72.0px 81.0px,#23898e 81.0px 90.0px,#25858e 90.0px 99.0px,#277e8e 99.0px 108.0px,#297a8e 108.0px 117.0px,#440154 117.0px 126.0px,#48186a 126.0px 135.0px,#33638d 134.9px 143.9px,#277e8e 143.9px 152.9px,#2f6b8e 152.9px 161.9px,#21a585 162px,#29af7f 173px,#28ae80 178px,#63cb5f 188px,#aadc32 193px,#c8e020 207px,#b5de2b 228px,#1f958b 287px,#218f8d 313px)"></i>
<i style="left:1193.2px;width:14.9px;height:313px;background:linear-gradient(#440154 0.1px 9.1px,#440154 9.1px 18.1px,#471365 18.1px 27.1px,#46075a 27.1px 36.1px,#3e4989 36.1px 45.0px,#39568c 45.1px 54.0px,#375b8d 54.0px 63.0px,#277e8e 63.0px 72.0px,#26828e 72.0px 81.0px,#23898e 81.0px 90.0px,#277e8e 90.0px 99.0px,#25858e 99.0px 108.0px,#277e8e 108.0px 117.0px,#440154 117.0px 126.0px,#471365 126.0px 135.0px,#297a8e 134.9px 143.9px,#2f6b8e 143.9px 152.9px,#2c728e 152.9px 161.9px,#1e9d89 162px,#1fa287 173px,#1f9f88 178px,#37b878 188px,#75d054 193px,#98d83e 206px,#89d548 230px,#228c8d 289px,#25858e 313px)"></i>
<i style="left:1207.5px;width:14.9px;height:313px;background:linear-gradient(#46075a 0.1px 9.1px,#470d60 9.1px 18.1px,#46075a 18.1px 27.1px,#3b528b 27.1px 36.1px,#443b84 36.1px 45.0px,#277e8e 45.1px 54.0px,#2c728e 54.0px 63.0px,#1f948c 63.0px 72.0px,#277e8e 72.0px 81.0px,#25858e 81.0px 90.0px,#25858e 90.0px 99.0px,#25858e 99.0px 108.0px,#2c728e 108.0px 117.0px,#375b8d 117.0px 126.0px,#440154 126.0px 135.0px,#355f8d 134.9px 143.9px,#2a768e 143.9px 152.9px,#297a8e 152.9px 161.9px,#1f968b 162px,#3fbc73 184px,#70cf57 199px,#63cb5f 226px,#25858e 276px,#440154 277px,#440154 301px,#2a778e 302px,#2a778e 313px)"></i>
<i style="left:1221.9px;width:14.9px;height:313px;background:linear-gradient(#440154 0.1px 9.1px,#440154 9.1px 18.1px,#46075a 18.1px 27.1px,#440154 27.1px 36.1px,#453781 36.1px 45.0px,#375b8d 45.1px 54.0px,#2a768e 54.0px 63.0px,#297a8e 63.0px 72.0px,#25858e 72.0px 81.0px,#25858e 81.0px 90.0px,#21918c 90.0px 99.0px,#277e8e 99.0px 108.0px,#26828e 108.0px 117.0px,#297a8e 117.0px 126.0px,#482374 126.0px 135.0px,#3e4989 134.9px 143.9px,#2e6f8e 143.9px 152.9px,#297a8e 152.9px 161.9px,#1f958b 162px,#1f9f88 172px,#20928c 177px,#2cb17e 188px,#67cc5c 193px,#73d056 222px,#25848e 276px,#440154 277px,#440154 301px,#2b758e 302px,#2b758e 313px)"></i>
</div>
<div class="hm" style="left:121.8px;top:555.6px;width:1221.4px;height:312.3px">
<i style="left:-1.86px;width:6.06px;height:313px;background:linear-gradient(#440154 0px,#440154 111px,#482677 113px,#470d60 116px,#2f6c8e 121px,#23888e 122px,#1f988b 125px,#21908d 140px,#2a788e 146px,#31668e 147px,#32658e 148px,#481d6f 151px,#471063 153px,#3b528b 166px,#32658e 194px,#365d8d 209px,#24aa83 221px,#38b977 242px,#4ac16d 259px,#7fd34e 273px,#44bf70 298px,#56c667 313px)"></i>
<i style="left:3.70px;width:6.06px;height:313px;background:linear-gradient(#440154 0px,#440154 7px,#3b528b 10px,#34608d 12px,#20928c 14px,#1f9a8a 49px,#228c8d 51px,#3e4989 53px,#440154 56px,#440154 100px,#46327e 102px,#3e4989 103px,#404688 104px,#365c8d 105px,#228c8d 106px,#1f9a8a 107px,#20928c 141px,#297a8e 155px,#355f8d 159px,#414487 177px,#2f6b8e 186px,#2e6f8e 203px,#2d708e 210px,#3dbc74 223px,#a0da39 264px,#d8e219 274px,#9dd93b 298px,#8bd646 310px,#7fd34e 313px)"></i>
<i style="left:9.26px;width:6.06px;height:313px;background:linear-gradient(#440154 0px,#460a5d 39px,#30698e 43px,#287d8e 46px,#1f948c 48px,#20928c 57px,#23888e 60px,#297b8e 61px,#287d8e 63px,#3f4788 67px,#471365 68px,#440154 70px,#450457 147px,#3c508b 160px,#472f7d 196px,#31678e 209px,#5cc863 219px,#95d840 225px,#63cb5f 240px,#42be71 253px,#9dd93b 265px,#e5e419 273px,#7cd250 286px,#46c06f 296px,#50c46a 310px,#48c16e 313px)"></i>
<i style="left:14.82px;width:6.06px;height:313px;background:linear-gradient(#306a8e 0px,#27808e 2px,#297b8e 44px,#39558c 47px,#3d4d8a 48px,#472e7c 49px,#453882 50px,#471063 51px,#440154 54px,#46075a 144px,#3a548c 149px,#39558c 150px,#2a778e 152px,#23888e 160px,#2c718e 171px,#46337f 186px,#453882 197px,#2d708e 209px,#90d743 220px,#c2df23 226px,#50c46a 240px,#3aba76 250px,#5ec962 271px,#2eb37c 285px,#50c46a 307px,#3bbb75 313px)"></i>
<i style="left:20.38px;width:6.06px;height:313px;background:linear-gradient(#440154 0px,#470e61 4px,#365d8d 8px,#31678e 13px,#31668e 76px,#3f4889 78px,#450457 81px,#46075a 148px,#33628d 162px,#355e8d 179px,#3d4d8a 194px,#2f6b8e 209px,#5ac864 220px,#69cd5b 226px,#42be71 244px,#3bbb75 258px,#1e9d89 280px,#52c569 307px,#46c06f 313px)"></i>
<i style="left:25.94px;width:6.06px;height:313px;background:linear-gradient(#238a8d 0px,#25838e 43px,#355f8d 46px,#414287 47px,#443a83 48px,#440154 50px,#440154 141px,#481769 142px,#472f7d 146px,#3d4e8a 148px,#39558c 154px,#2e6d8e 168px,#2f6b8e 172px,#238a8d 201px,#20928c 210px,#8bd646 221px,#70cf57 229px,#44bf70 241px,#7fd34e 259px,#58c765 272px,#26ad81 282px,#86d549 304px,#56c667 313px)"></i>
<i style="left:31.50px;width:6.06px;height:313px;background:linear-gradient(#2d708e 0px,#2e6d8e 10px,#404688 14px,#482576 15px,#440154 20px,#440154 110px,#482878 116px,#33628d 121px,#34608d 123px,#2e6f8e 127px,#2e6d8e 130px,#375a8c 137px,#404588 139px,#472d7b 143px,#482475 152px,#33628d 162px,#3d4e8a 209px,#34b679 221px,#3fbc73 230px,#4ec36b 245px,#c0df25 272px,#a2da37 285px,#c0df25 304px,#84d44b 313px)"></i>
<i style="left:37.06px;width:6.06px;height:313px;background:linear-gradient(#440154 0px,#440154 3px,#482173 5px,#471063 6px,#3e4989 12px,#3e4a89 15px,#3a538b 17px,#3e4989 20px,#3a548c 21px,#443a83 24px,#414487 26px,#424186 31px,#472e7c 32px,#472d7b 34px,#48186a 38px,#472a7a 40px,#440154 43px,#481467 46px,#440154 48px,#481467 50px,#440154 51px,#481d6f 53px,#481668 57px,#482677 58px,#443983 61px,#3b528b 63px,#355f8d 66px,#31688e 68px,#31678e 78px,#443a83 85px,#482071 86px,#440154 90px,#440154 146px,#481a6c 149px,#46327e 150px,#3b518b 157px,#414487 158px,#34608d 162px,#355e8d 168px,#3b518b 169px,#414287 173px,#46075a 175px,#46075a 220px,#365d8d 224px,#355f8d 234px,#2eb37c 247px,#4ac16d 263px,#bade28 274px,#c0df25 306px,#89d548 313px)"></i>
<i style="left:42.62px;width:6.06px;height:313px;background:linear-gradient(#238a8d 0px,#24878e 36px,#31678e 39px,#472a7a 40px,#440256 41px,#460a5d 179px,#46337f 182px,#472d7b 183px,#3c4f8a 186px,#414487 188px,#375a8c 190px,#404688 193px,#3b528b 194px,#48186a 195px,#440154 196px,#450457 232px,#2c738e 241px,#20a486 246px,#50c46a 272px,#35b779 286px,#48c16e 307px,#38b977 313px)"></i>
<i style="left:48.18px;width:6.06px;height:313px;background:linear-gradient(#440154 0px,#46075a 170px,#404588 172px,#3f4788 173px,#2c728e 175px,#26828e 177px,#297b8e 190px,#2a778e 191px,#38588c 192px,#3a538b 193px,#463480 194px,#463480 195px,#481467 196px,#440154 200px,#450457 231px,#32658e 239px,#38b977 247px,#b8de29 271px,#2ab07f 296px,#38b977 313px)"></i>
<i style="left:53.74px;width:6.06px;height:313px;background:linear-gradient(#440154 0px,#460a5d 232px,#297a8e 240px,#3dbc74 246px,#95d840 264px,#d0e11c 273px,#5ec962 298px,#56c667 313px)"></i>
<i style="left:59.30px;width:6.06px;height:313px;background:linear-gradient(#440154 0px,#460b5e 2px,#414487 5px,#3d4d8a 7px,#414487 8px,#3d4d8a 10px,#472e7c 11px,#481c6e 13px,#440154 14px,#460b5e 160px,#375a8c 164px,#2e6e8e 165px,#238a8d 170px,#1f958b 172px,#27808e 178px,#23888e 179px,#287d8e 180px,#297b8e 182px,#472d7b 187px,#424186 190px,#463480 191px,#414487 193px,#424086 194px,#471063 195px,#440154 202px,#471164 204px,#433d84 205px,#3d4d8a 207px,#2c718e 208px,#277e8e 209px,#2d708e 211px,#23888e 215px,#2b748e 218px,#21918c 220px,#29798e 233px,#7cd250 247px,#c0df25 271px,#65cb5e 284px,#56c667 307px,#3bbb75 313px)"></i>
<i style="left:64.86px;width:6.06px;height:313px;background:linear-gradient(#440154 0px,#450457 10px,#375b8d 13px,#297b8e 14px,#218e8d 16px,#23888e 68px,#26828e 70px,#2f6c8e 72px,#25838e 79px,#218e8d 89px,#24878e 120px,#440154 127px,#440256 166px,#482677 168px,#277f8e 171px,#228d8d 172px,#238a8d 203px,#46327e 207px,#440154 209px,#440256 229px,#2c718e 237px,#44bf70 244px,#58c765 249px,#2db27d 264px,#9dd93b 293px,#c8e020 310px,#b8de29 313px)"></i>
<i style="left:70.42px;width:6.06px;height:313px;background:linear-gradient(#25858e 0px,#26828e 90px,#2c728e 92px,#2b758e 93px,#471063 98px,#440154 104px,#440154 227px,#3e4c8a 232px,#26828e 235px,#93d741 245px,#98d83e 250px,#3fbc73 265px,#93d741 297px,#fbe723 308px,#f6e620 313px)"></i>
<i style="left:75.98px;width:6.06px;height:313px;background:linear-gradient(#440154 0px,#460b5e 17px,#472c7a 18px,#482374 21px,#46307e 22px,#482071 26px,#481c6e 30px,#440154 32px,#440154 206px,#472f7d 208px,#3c4f8a 209px,#38588c 210px,#2c738e 211px,#24878e 214px,#297a8e 225px,#2b758e 233px,#1f9f88 242px,#50c46a 248px,#73d056 276px,#a5db36 295px,#fde725 304px,#fde725 313px)"></i>
<i style="left:81.54px;width:6.06px;height:313px;background:linear-gradient(#5ec962 0px,#81d34d 60px,#fde725 102px,#e2e418 126px,#67cc5c 168px,#3fbc73 194px,#25858e 226px,#24878e 235px,#5ec962 246px,#46c06f 264px,#56c667 275px,#69cd5b 290px,#cde11d 306px,#9bd93c 313px)"></i>
<i style="left:87.10px;width:6.06px;height:313px;background:linear-gradient(#472f7d 0px,#453781 1px,#2e6e8e 3px,#2c718e 4px,#25838e 5px,#218f8d 11px,#228c8d 71px,#26828e 73px,#3d4e8a 76px,#460b5e 78px,#46085c 108px,#46327e 110px,#453781 112px,#365d8d 115px,#2c728e 117px,#238a8d 120px,#25838e 121px,#218f8d 130px,#218e8d 189px,#2b748e 191px,#440154 195px,#450559 229px,#2e6f8e 236px,#65cb5e 243px,#a2da37 247px,#58c765 261px,#90d743 274px,#54c568 293px,#a2da37 307px,#84d44b 313px)"></i>
<i style="left:92.66px;width:6.06px;height:313px;background:linear-gradient(#440154 0px,#46075a 231px,#2a768e 238px,#50c46a 244px,#7ad151 248px,#60ca60 261px,#9bd93c 272px,#40bd72 291px,#73d056 307px,#63cb5f 313px)"></i>
<i style="left:98.22px;width:6.06px;height:313px;background:linear-gradient(#31678e 0px,#33638d 28px,#433d84 33px,#440154 36px,#440154 115px,#453581 118px,#34608d 121px,#33638d 157px,#404688 160px,#471063 162px,#440154 165px,#440154 208px,#38598c 212px,#31678e 216px,#34618d 228px,#3a538b 231px,#440154 236px,#440154 255px,#482878 257px,#472a7a 259px,#1e9c89 270px,#56c667 276px,#52c569 313px)"></i>
<i style="left:103.78px;width:6.06px;height:313px;background:linear-gradient(#440154 0px,#440154 158px,#33628d 162px,#1f968b 164px,#1f948c 188px,#297a8e 191px,#481668 195px,#440154 196px,#440256 257px,#2c728e 266px,#35b779 273px,#7fd34e 293px,#50c46a 310px,#44bf70 313px)"></i>
<i style="left:109.34px;width:6.06px;height:313px;background:linear-gradient(#238a8d 0px,#24878e 27px,#297a8e 28px,#440154 32px,#440154 88px,#470e61 89px,#414487 90px,#287d8e 93px,#238a8d 100px,#25838e 113px,#2e6d8e 115px,#3e4a89 116px,#46327e 118px,#450457 120px,#440154 257px,#2e6e8e 266px,#37b878 274px,#77d153 294px,#8bd646 313px)"></i>
<i style="left:114.90px;width:6.06px;height:313px;background:linear-gradient(#20928c 0px,#277e8e 6px,#2e6d8e 7px,#287c8e 9px,#32648e 12px,#31668e 13px,#3c508b 14px,#2a768e 16px,#2c738e 21px,#297b8e 22px,#3e4989 25px,#3e4c8a 29px,#482878 31px,#3e4989 33px,#472f7d 35px,#46075a 36px,#440154 74px,#481467 75px,#450457 76px,#481a6c 79px,#440256 84px,#481c6e 86px,#481668 89px,#440154 90px,#440154 151px,#463480 153px,#306a8e 154px,#24868e 156px,#20928c 165px,#21918c 182px,#3a538b 185px,#482677 186px,#440154 188px,#440154 238px,#46307e 240px,#481c6e 242px,#306a8e 245px,#238a8d 251px,#23888e 260px,#56c667 275px,#81d34d 313px)"></i>
<i style="left:120.46px;width:6.06px;height:313px;background:linear-gradient(#482475 0px,#440154 3px,#460a5d 55px,#3a538b 58px,#25858e 64px,#26828e 90px,#2d708e 92px,#38588c 93px,#3c4f8a 94px,#450559 97px,#460a5d 257px,#3dbc74 272px,#58c765 277px,#48c16e 309px,#40bd72 313px)"></i>
<i style="left:126.02px;width:6.06px;height:313px;background:linear-gradient(#440154 0px,#440154 204px,#423f85 205px,#404688 206px,#2e6e8e 207px,#20928c 211px,#21908d 236px,#29798e 237px,#29798e 238px,#472a7a 240px,#440154 242px,#46085c 283px,#297a8e 292px,#2db27d 298px,#2fb47c 304px,#24aa83 313px)"></i>
<i style="left:131.58px;width:6.06px;height:313px;background:linear-gradient(#440154 0px,#440256 30px,#39568c 33px,#287c8e 39px,#29798e 53px,#33628d 56px,#440154 61px,#440154 141px,#365d8d 144px,#277f8e 147px,#29798e 181px,#453581 185px,#463480 186px,#481b6d 187px,#481769 189px,#440154 190px,#471365 197px,#470e61 198px,#482576 200px,#443983 204px,#297a8e 207px,#297a8e 253px,#440154 258px,#440154 282px,#2c728e 291px,#32b67a 298px,#56c667 312px,#58c765 313px)"></i>
<i style="left:137.14px;width:6.06px;height:313px;background:linear-gradient(#440154 0px,#440154 53px,#463480 55px,#443a83 57px,#3b528b 58px,#3e4a89 60px,#38598c 62px,#404588 63px,#404588 64px,#472e7c 65px,#3e4a89 67px,#3d4e8a 70px,#38588c 72px,#26818e 75px,#218f8d 80px,#24878e 168px,#2e6e8e 169px,#2e6f8e 170px,#38598c 171px,#481769 172px,#440154 173px,#440154 281px,#31688e 288px,#65cb5e 296px,#a0da39 301px,#a2da37 313px)"></i>
<i style="left:142.70px;width:6.06px;height:313px;background:linear-gradient(#3e4c8a 0px,#46307e 2px,#433d84 6px,#3e4a89 7px,#453581 8px,#443983 9px,#3d4e8a 10px,#3f4889 13px,#38588c 17px,#30698e 20px,#2c718e 25px,#2c738e 32px,#2f6c8e 35px,#3c4f8a 38px,#472c7a 40px,#453781 41px,#481769 42px,#481f70 46px,#440154 48px,#481467 51px,#440154 55px,#450559 61px,#433e85 63px,#3e4a89 65px,#424086 67px,#365d8d 70px,#365d8d 72px,#31688e 73px,#365c8d 77px,#3d4d8a 78px,#375b8d 80px,#3b528b 81px,#33628d 82px,#404688 84px,#3e4c8a 85px,#440154 88px,#460a5d 108px,#2e6e8e 113px,#2a788e 116px,#2c738e 164px,#33638d 168px,#30698e 170px,#443a83 173px,#3f4788 175px,#433d84 176px,#404588 177px,#460b5e 180px,#440154 214px,#450457 223px,#46327e 226px,#39568c 228px,#2a788e 234px,#2a768e 268px,#39558c 272px,#482878 274px,#440154 278px,#460b5e 282px,#52c569 297px,#7cd250 302px,#8bd646 313px)"></i>
<i style="left:148.26px;width:6.06px;height:313px;background:linear-gradient(#306a8e 0px,#34618d 20px,#3d4d8a 25px,#482878 27px,#481b6d 31px,#46075a 32px,#471063 33px,#440154 36px,#440256 48px,#48186a 50px,#470d60 53px,#404688 59px,#375b8d 62px,#306a8e 68px,#31678e 79px,#450457 84px,#440154 235px,#470e61 236px,#3e4c8a 238px,#306a8e 242px,#33638d 274px,#3b528b 276px,#460b5e 280px,#460b5e 282px,#2db27d 296px,#46c06f 301px,#48c16e 310px,#5cc863 313px)"></i>
<i style="left:153.82px;width:6.06px;height:313px;background:linear-gradient(#440154 0px,#482878 3px,#3f4788 4px,#375a8c 7px,#2a768e 9px,#2a778e 39px,#482173 44px,#440154 45px,#440154 84px,#460b5e 85px,#3c508b 87px,#2d718e 90px,#2a778e 108px,#33638d 110px,#460a5d 114px,#450559 242px,#3f4788 247px,#472e7c 248px,#482677 251px,#46085c 252px,#440256 281px,#33638d 288px,#7cd250 297px,#a5db36 301px,#52c569 313px)"></i>
<i style="left:159.38px;width:6.06px;height:313px;background:linear-gradient(#440154 0px,#440154 189px,#470e61 190px,#450457 191px,#443983 193px,#39558c 198px,#3a548c 200px,#2c728e 203px,#2e6f8e 205px,#2a778e 208px,#31678e 213px,#2e6d8e 214px,#39558c 215px,#453581 218px,#460a5d 219px,#481467 220px,#440154 223px,#471063 225px,#440154 229px,#440154 246px,#443983 251px,#33638d 253px,#297b8e 259px,#2f6b8e 272px,#404588 275px,#3d4d8a 277px,#443a83 279px,#3e4c8a 280px,#433d84 283px,#3f4889 286px,#1f9f88 292px,#5ac864 297px,#6ccd5a 303px,#60ca60 313px)"></i>
<i style="left:164.94px;width:6.06px;height:313px;background:linear-gradient(#440154 0px,#46075a 24px,#453882 27px,#3b518b 29px,#3f4788 30px,#31688e 34px,#306a8e 39px,#2a768e 48px,#2b748e 133px,#39558c 136px,#463480 137px,#453882 138px,#440154 141px,#46075a 186px,#472a7a 188px,#482878 189px,#424186 190px,#3c4f8a 193px,#31688e 195px,#31678e 198px,#46307e 204px,#424086 205px,#424086 207px,#481769 209px,#440154 213px,#440154 244px,#481668 245px,#46075a 248px,#46327e 250px,#472c7a 256px,#424086 257px,#46085c 261px,#482576 264px,#482071 265px,#440154 266px,#450457 283px,#30698e 291px,#40bd72 299px,#5ec962 313px)"></i>
<i style="left:170.50px;width:6.06px;height:313px;background:linear-gradient(#440154 0px,#46075a 47px,#482374 50px,#277e8e 56px,#228c8d 64px,#23888e 100px,#481d6f 106px,#440154 107px,#440154 283px,#306a8e 291px,#44bf70 299px,#75d054 313px)"></i>
<i style="left:176.06px;width:6.06px;height:313px;background:linear-gradient(#404688 0px,#25848e 4px,#20928c 8px,#20928c 49px,#29798e 51px,#2a778e 52px,#440154 56px,#460a5d 93px,#2f6c8e 96px,#20928c 100px,#218f8d 139px,#2c738e 142px,#440154 146px,#46085c 209px,#472a7a 211px,#450457 213px,#3f4788 219px,#453781 221px,#2e6f8e 223px,#3e4c8a 225px,#355f8d 226px,#3d4e8a 229px,#2e6d8e 233px,#365c8d 236px,#2e6f8e 238px,#31688e 241px,#30698e 243px,#38598c 245px,#306a8e 247px,#33628d 248px,#2f6c8e 251px,#2f6c8e 252px,#228c8d 256px,#218f8d 267px,#25858e 270px,#238a8d 275px,#26818e 285px,#29af7f 295px,#65cb5e 302px,#75d054 313px)"></i>
<i style="left:181.62px;width:6.06px;height:313px;background:linear-gradient(#440154 0px,#46075a 37px,#481a6c 38px,#440256 40px,#481769 41px,#481d6f 44px,#453781 45px,#472e7c 46px,#443a83 47px,#46327e 49px,#443a83 50px,#472e7c 51px,#472f7d 53px,#423f85 54px,#443983 55px,#365d8d 56px,#33638d 59px,#3e4a89 60px,#3e4c8a 63px,#365c8d 65px,#414487 66px,#3b528b 67px,#481d6f 70px,#481b6d 72px,#440256 73px,#460a5d 175px,#25858e 189px,#22a884 212px,#1f998a 226px,#98d83e 245px,#95d840 273px,#46c06f 289px,#4ec36b 310px,#4ac16d 313px)"></i>
<i style="left:187.18px;width:6.06px;height:313px;background:linear-gradient(#440154 0px,#470d60 13px,#453581 15px,#443983 16px,#2e6d8e 19px,#2e6f8e 38px,#31668e 40px,#482475 42px,#440154 44px,#460a5d 167px,#2e6d8e 181px,#24868e 212px,#20938c 224px,#52c569 239px,#32b67a 265px,#73d056 284px,#1e9d89 313px)"></i>
<i style="left:192.74px;width:6.06px;height:313px;background:linear-gradient(#481d6f 0px,#3f4788 4px,#3d4e8a 6px,#3a538b 8px,#414487 11px,#472e7c 13px,#443983 14px,#482979 15px,#472c7a 16px,#440154 21px,#450559 49px,#39558c 53px,#2a768e 61px,#2d708e 79px,#355f8d 81px,#424086 84px,#443b84 86px,#481a6c 89px,#48186a 92px,#482475 93px,#46075a 95px,#481467 96px,#46075a 97px,#472d7b 100px,#481f70 105px,#3d4d8a 107px,#443983 109px,#404588 111px,#443b84 113px,#471164 115px,#48186a 116px,#440154 118px,#450457 158px,#306a8e 169px,#306a8e 175px,#355e8d 186px,#1fa188 217px,#21a685 234px,#31b57b 266px,#6ccd5a 286px,#3bbb75 313px)"></i>
<i style="left:198.30px;width:6.06px;height:313px;background:linear-gradient(#414287 0px,#3e4a89 1px,#33628d 2px,#2e6d8e 11px,#31678e 62px,#3f4889 63px,#3f4788 64px,#463480 65px,#440154 71px,#440154 104px,#463480 106px,#38588c 111px,#2e6d8e 115px,#30698e 131px,#32658e 133px,#3a548c 134px,#365c8d 135px,#404688 138px,#472d7b 140px,#440154 141px,#450559 147px,#277e8e 157px,#2fb47c 163px,#2ab07f 169px,#24878e 182px,#46c06f 216px,#25ac82 238px,#95d840 270px,#69cd5b 294px,#42be71 313px)"></i>
<i style="left:203.86px;width:6.06px;height:313px;background:linear-gradient(#440154 0px,#46075a 43px,#481668 44px,#440154 46px,#440154 50px,#471063 51px,#440154 53px,#470d60 55px,#440154 65px,#450559 141px,#20928c 156px,#1e9d89 171px,#20938c 188px,#56c667 201px,#bade28 211px,#3dbc74 252px,#2fb47c 268px,#31b57b 300px,#25ac82 313px)"></i>
<i style="left:209.42px;width:6.06px;height:313px;background:linear-gradient(#440154 0px,#440154 30px,#463480 34px,#460a5d 38px,#471063 40px,#440154 42px,#471365 44px,#404688 47px,#472f7d 48px,#472e7c 49px,#48186a 50px,#463480 52px,#471164 54px,#481c6e 57px,#440154 60px,#46085c 70px,#472c7a 71px,#46337f 72px,#365d8d 73px,#277f8e 75px,#297b8e 78px,#27808e 80px,#23888e 82px,#21918c 95px,#21a585 109px,#1f9a8a 142px,#238a8d 157px,#238a8d 185px,#50c46a 207px,#84d44b 236px,#90d743 263px,#2ab07f 277px,#3bbb75 286px,#8ed645 297px,#9bd93c 313px)"></i>
<i style="left:214.98px;width:6.06px;height:313px;background:linear-gradient(#440154 0px,#460b5e 34px,#46307e 35px,#31678e 36px,#25848e 37px,#1f9a8a 39px,#1f948c 67px,#21918c 68px,#38588c 71px,#440256 74px,#460a5d 79px,#1fa088 96px,#21a685 103px,#1fa088 116px,#24aa83 132px,#1f958b 153px,#25838e 166px,#26818e 192px,#37b878 209px,#9bd93c 235px,#58c765 263px,#1f988b 275px,#25ac82 285px,#81d34d 295px,#a2da37 313px)"></i>
<i style="left:220.54px;width:6.06px;height:313px;background:linear-gradient(#440154 0px,#440154 6px,#443a83 9px,#31678e 12px,#31668e 45px,#472c7a 48px,#440154 49px,#46085c 83px,#20a486 103px,#2fb47c 124px,#23a983 152px,#228b8d 167px,#238a8d 192px,#28ae80 206px,#3dbc74 222px,#c0df25 235px,#93d741 255px,#42be71 267px,#25ab82 276px,#77d153 295px,#84d44b 313px)"></i>
<i style="left:226.10px;width:6.06px;height:313px;background:linear-gradient(#440154 0px,#450559 84px,#1f9e89 104px,#22a884 120px,#23a983 141px,#27ad81 151px,#228b8d 168px,#218e8d 194px,#21a685 208px,#2eb37c 222px,#a8db34 235px,#a0da39 255px,#46c06f 267px,#25ab82 276px,#50c46a 288px,#73d056 297px,#81d34d 313px)"></i>
<i style="left:231.66px;width:6.06px;height:313px;background:linear-gradient(#440154 0px,#440154 50px,#481b6d 51px,#481f70 52px,#33638d 55px,#218e8d 59px,#238a8d 87px,#297b8e 101px,#2cb17e 119px,#25ac82 142px,#22a884 154px,#287d8e 190px,#25ab82 207px,#3fbc73 222px,#b2dd2d 233px,#58c765 268px,#4ac16d 281px,#60ca60 296px,#65cb5e 311px,#6ece58 313px)"></i>
<i style="left:237.22px;width:6.06px;height:313px;background:linear-gradient(#440154 0px,#46075a 98px,#1f948c 118px,#23888e 153px,#24878e 169px,#27808e 186px,#25848e 195px,#2cb17e 212px,#58c765 223px,#dde318 234px,#b2dd2d 257px,#37b878 275px,#70cf57 289px,#84d44b 299px,#93d741 313px)"></i>
<i style="left:242.78px;width:6.06px;height:313px;background:linear-gradient(#440154 0px,#450457 100px,#20a386 121px,#1f998a 151px,#297b8e 166px,#24868e 191px,#2cb17e 205px,#35b779 221px,#d2e21b 234px,#addc30 254px,#4ac16d 278px,#69cd5b 288px,#93d741 298px,#8bd646 313px)"></i>
<i style="left:248.34px;width:6.06px;height:313px;background:linear-gradient(#414287 0px,#2c728e 2px,#297b8e 4px,#34618d 7px,#34618d 12px,#3d4e8a 14px,#375a8c 15px,#3c508b 16px,#38598c 17px,#38598c 19px,#34618d 20px,#440154 24px,#440154 104px,#39568c 111px,#2c718e 113px,#1f968b 126px,#27ad81 150px,#23898e 166px,#287d8e 191px,#22a785 206px,#35b779 221px,#cde11d 233px,#5cc863 264px,#27ad81 276px,#4cc26c 286px,#b5de2b 296px,#c5e021 313px)"></i>
<i style="left:253.90px;width:6.06px;height:313px;background:linear-gradient(#32658e 0px,#32658e 2px,#440154 6px,#450457 58px,#481c6e 59px,#481467 63px,#46327e 65px,#433e85 68px,#482374 70px,#482475 72px,#463480 73px,#440154 76px,#450559 115px,#218f8d 132px,#1f998a 148px,#23888e 164px,#238a8d 191px,#2db27d 204px,#2cb17e 221px,#a2da37 234px,#48c16e 268px,#40bd72 279px,#84d44b 290px,#b0dd2f 305px,#b0dd2f 313px)"></i>
<i style="left:259.46px;width:6.06px;height:313px;background:linear-gradient(#440154 0px,#460a5d 87px,#414487 90px,#3d4e8a 92px,#2e6d8e 94px,#297a8e 102px,#2c728e 108px,#3a538b 111px,#46337f 118px,#481467 120px,#443b84 128px,#21918c 141px,#20938c 149px,#287c8e 171px,#228d8d 192px,#28ae80 205px,#24aa83 222px,#7fd34e 235px,#69cd5b 252px,#24aa83 277px,#40bd72 288px,#dde318 309px,#dfe318 313px)"></i>
<i style="left:265.02px;width:6.06px;height:313px;background:linear-gradient(#2f6c8e 0px,#32658e 4px,#414287 8px,#433e85 10px,#440154 12px,#46075a 118px,#23898e 133px,#1f998a 145px,#277f8e 165px,#26828e 191px,#22a785 205px,#22a884 222px,#69cd5b 235px,#6ccd5a 254px,#38b977 269px,#23a983 281px,#48c16e 289px,#d0e11c 304px,#ece51b 313px)"></i>
<i style="left:270.58px;width:6.06px;height:313px;background:linear-gradient(#20938c 0px,#21908d 33px,#26828e 35px,#2e6f8e 36px,#297a8e 39px,#34608d 42px,#48186a 45px,#440154 52px,#440154 58px,#471365 59px,#440154 61px,#440154 71px,#3c508b 74px,#3e4a89 76px,#38598c 77px,#3c508b 78px,#2d708e 80px,#2e6f8e 82px,#21908d 84px,#24878e 97px,#297a8e 110px,#22a785 127px,#1f9f88 144px,#20938c 170px,#24868e 190px,#22a884 207px,#44bf70 224px,#84d44b 234px,#67cc5c 265px,#38b977 278px,#5cc863 288px,#d2e21b 310px,#d8e219 313px)"></i>
<i style="left:276.14px;width:6.06px;height:313px;background:linear-gradient(#440154 0px,#440154 10px,#443b84 14px,#26828e 17px,#26828e 78px,#39558c 82px,#32658e 83px,#3d4d8a 89px,#375a8c 90px,#433d84 94px,#3a548c 100px,#2db27d 113px,#38b977 125px,#22a884 141px,#22a884 152px,#218f8d 166px,#1e9d89 191px,#2eb37c 203px,#34b679 222px,#6ece58 235px,#9bd93c 261px,#2cb17e 281px,#3dbc74 289px,#8ed645 308px,#93d741 313px)"></i>
<i style="left:281.70px;width:6.06px;height:313px;background:linear-gradient(#440154 0px,#46085c 82px,#472d7b 83px,#482979 84px,#3f4889 85px,#423f85 86px,#38598c 87px,#38598c 90px,#30698e 92px,#33638d 94px,#2a778e 96px,#25838e 110px,#27ad81 124px,#20a386 149px,#277f8e 162px,#20928c 191px,#28ae80 204px,#40bd72 222px,#aadc32 234px,#addc30 265px,#5ac864 283px,#95d840 298px,#95d840 313px)"></i>
<i style="left:287.26px;width:6.06px;height:313px;background:linear-gradient(#440154 0px,#440154 57px,#470d60 60px,#38598c 62px,#39558c 65px,#31688e 66px,#365d8d 69px,#2c718e 71px,#33628d 72px,#2c728e 73px,#32658e 78px,#2e6f8e 81px,#31668e 82px,#31668e 85px,#375a8c 87px,#424086 89px,#453781 95px,#471164 99px,#472d7b 103px,#424086 105px,#46327e 106px,#424186 108px,#443b84 109px,#3a538b 111px,#1f9e89 130px,#24aa83 149px,#297b8e 166px,#25838e 194px,#3dbc74 224px,#84d44b 234px,#70cf57 266px,#46c06f 283px,#93d741 298px,#89d548 313px)"></i>
<i style="left:292.82px;width:6.06px;height:313px;background:linear-gradient(#482677 0px,#440154 4px,#450559 91px,#3f4788 94px,#3d4d8a 98px,#355f8d 99px,#34618d 103px,#306a8e 105px,#355e8d 110px,#355f8d 113px,#1f988b 126px,#31b57b 148px,#228d8d 166px,#23898e 191px,#26ad81 207px,#34b679 223px,#a0da39 235px,#c5e021 259px,#7ad151 277px,#a2da37 289px,#a8db34 299px,#84d44b 313px)"></i>
<i style="left:298.38px;width:6.06px;height:313px;background:linear-gradient(#1e9b8a 0px,#1f968b 12px,#31688e 14px,#433d84 15px,#443a83 16px,#440154 18px,#440256 102px,#218f8d 120px,#1fa187 145px,#2a778e 164px,#29798e 190px,#23a983 204px,#38b977 221px,#cde11d 233px,#7fd34e 271px,#89d548 287px,#b0dd2f 296px,#7fd34e 313px)"></i>
<i style="left:303.94px;width:6.06px;height:313px;background:linear-gradient(#440154 0px,#440154 15px,#481467 16px,#404688 17px,#306a8e 20px,#287d8e 25px,#2a788e 38px,#31668e 41px,#3c4f8a 43px,#481d6f 44px,#440154 46px,#460a5d 80px,#404588 85px,#2a788e 89px,#21a585 107px,#27ad81 149px,#228b8d 163px,#2c738e 191px,#1f968b 207px,#2ab07f 222px,#bade28 233px,#8bd646 256px,#50c46a 276px,#86d549 288px,#b2dd2d 296px,#8bd646 313px)"></i>
<i style="left:309.50px;width:6.06px;height:313px;background:linear-gradient(#31678e 0px,#34618d 34px,#443b84 41px,#481d6f 42px,#440154 46px,#460b5e 81px,#20a386 101px,#29af7f 126px,#21a585 151px,#25838e 165px,#297b8e 191px,#1f9f88 209px,#3aba76 222px,#bade28 232px,#90d743 252px,#7ad151 265px,#4ec36b 277px,#73d056 287px,#b5de2b 296px,#93d741 313px)"></i>
<i style="left:315.06px;width:6.06px;height:313px;background:linear-gradient(#414287 0px,#443983 3px,#375a8c 4px,#39568c 6px,#24878e 9px,#1f988b 12px,#1f958b 38px,#218e8d 41px,#3e4989 46px,#404688 47px,#440154 51px,#460b5e 87px,#1fa187 105px,#23a983 117px,#25ac82 141px,#20a486 151px,#238a8d 164px,#26828e 191px,#54c568 216px,#a2da37 227px,#c8e020 234px,#5cc863 253px,#3dbc74 268px,#37b878 278px,#70cf57 287px,#c5e021 295px,#a8db34 313px)"></i>
<i style="left:320.62px;width:6.06px;height:313px;background:linear-gradient(#440154 0px,#440256 59px,#443b84 61px,#424186 63px,#3a538b 64px,#355f8d 73px,#355f8d 85px,#1fa188 98px,#1e9c89 121px,#2cb17e 138px,#1f948c 151px,#297a8e 162px,#20928c 196px,#1fa287 221px,#addc30 234px,#a2da37 249px,#31b57b 274px,#60ca60 286px,#c8e020 295px,#bddf26 312px,#bade28 313px)"></i>
<i style="left:326.18px;width:6.06px;height:313px;background:linear-gradient(#440154 0px,#450559 90px,#1f9a8a 107px,#25ab82 133px,#1e9d89 149px,#2c738e 163px,#277f8e 194px,#20928c 212px,#1fa188 222px,#9bd93c 234px,#bddf26 252px,#5ec962 276px,#90d743 289px,#a0da39 299px,#90d743 313px)"></i>
<i style="left:331.74px;width:6.06px;height:313px;background:linear-gradient(#440154 0px,#440154 13px,#472a7a 15px,#3c508b 18px,#2d708e 20px,#29798e 28px,#2c718e 86px,#32648e 93px,#433e85 97px,#482576 98px,#31678e 106px,#24aa83 116px,#27ad81 134px,#20a486 150px,#25838e 164px,#25838e 189px,#24aa83 204px,#28ae80 222px,#9dd93b 234px,#b0dd2f 260px,#89d548 278px,#b5de2b 295px,#7fd34e 313px)"></i>
<i style="left:337.30px;width:6.06px;height:313px;background:linear-gradient(#440154 0px,#440256 71px,#481a6c 74px,#472f7d 75px,#472d7b 76px,#414287 77px,#443a83 78px,#414287 80px,#433d84 81px,#3e4a89 82px,#443b84 85px,#3e4a89 87px,#463480 90px,#443a83 91px,#472d7b 93px,#433e85 96px,#443a83 98px,#482374 100px,#481b6d 104px,#2b748e 114px,#56c667 124px,#60ca60 132px,#22a785 151px,#23888e 162px,#228d8d 190px,#25ab82 208px,#34b679 222px,#c0df25 234px,#bddf26 254px,#3fbc73 276px,#69cd5b 287px,#addc30 295px,#84d44b 313px)"></i>
<i style="left:342.86px;width:6.06px;height:313px;background:linear-gradient(#440154 0px,#440154 29px,#3a548c 32px,#2a778e 39px,#2a778e 88px,#3a548c 93px,#365c8d 95px,#3c4f8a 99px,#1e9b8a 113px,#4ac16d 122px,#42be71 144px,#287c8e 164px,#32648e 183px,#26818e 194px,#21a585 206px,#25ac82 223px,#98d83e 235px,#addc30 249px,#46c06f 274px,#7ad151 288px,#98d83e 296px,#9bd93c 313px)"></i>
<i style="left:348.42px;width:6.06px;height:313px;background:linear-gradient(#440154 0px,#440154 68px,#2c738e 71px,#228d8d 73px,#228d8d 84px,#2d718e 87px,#2b748e 88px,#3f4788 92px,#440256 94px,#460a5d 100px,#2fb47c 122px,#40bd72 134px,#23898e 154px,#33638d 174px,#2f6b8e 188px,#2ab07f 206px,#48c16e 223px,#a8db34 234px,#56c667 265px,#32b67a 278px,#4cc26c 287px,#7cd250 295px,#67cc5c 312px,#69cd5b 313px)"></i>
<i style="left:353.98px;width:6.06px;height:313px;background:linear-gradient(#440154 0px,#440154 46px,#481c6e 49px,#472e7c 51px,#3c508b 53px,#32658e 60px,#33628d 71px,#424086 75px,#48186a 77px,#440154 80px,#450559 104px,#20a386 126px,#3aba76 143px,#22a884 152px,#2a768e 165px,#2e6f8e 180px,#20938c 196px,#21a585 214px,#2fb47c 223px,#b8de29 234px,#b2dd2d 253px,#63cb5f 267px,#29af7f 279px,#3dbc74 287px,#7fd34e 296px,#a0da39 313px)"></i>
<i style="left:359.54px;width:6.06px;height:313px;background:linear-gradient(#440154 0px,#440154 63px,#472a7a 65px,#277f8e 68px,#20938c 71px,#228d8d 93px,#2e6d8e 97px,#463480 99px,#440256 102px,#481668 107px,#1f958b 125px,#1f988b 146px,#2f6c8e 163px,#26818e 191px,#38b977 222px,#b2dd2d 233px,#46c06f 264px,#46c06f 285px,#84d44b 295px,#98d83e 312px,#9dd93b 313px)"></i>
<i style="left:365.10px;width:6.06px;height:313px;background:linear-gradient(#440154 0px,#450559 35px,#482979 41px,#365c8d 43px,#424186 49px,#3a548c 52px,#481c6e 56px,#472f7d 59px,#450559 62px,#450559 100px,#1fa088 121px,#24aa83 136px,#25858e 151px,#32658e 162px,#277f8e 190px,#1f998a 208px,#34b679 222px,#a8db34 232px,#50c46a 276px,#9bd93c 289px,#addc30 296px,#8ed645 311px,#98d83e 313px)"></i>
<i style="left:370.66px;width:6.06px;height:313px;background:linear-gradient(#482677 0px,#355f8d 1px,#277e8e 3px,#277f8e 57px,#2a788e 59px,#32648e 60px,#460b5e 62px,#440154 71px,#46075a 101px,#26818e 115px,#27ad81 123px,#2fb47c 141px,#21918c 151px,#30698e 161px,#25858e 190px,#1f998a 204px,#21a685 222px,#86d549 234px,#67cc5c 284px,#bade28 295px,#c2df23 313px)"></i>
<i style="left:376.22px;width:6.06px;height:313px;background:linear-gradient(#2c738e 0px,#1f958b 5px,#1f978b 45px,#277f8e 47px,#26828e 49px,#38598c 53px,#34608d 55px,#414487 56px,#443a83 58px,#3a538b 60px,#3a538b 61px,#453882 62px,#453882 63px,#482173 64px,#482979 65px,#470d60 67px,#46327e 70px,#472d7b 71px,#471164 72px,#450559 75px,#46085c 78px,#481b6d 79px,#481467 81px,#481c6e 88px,#3e4989 92px,#3c508b 95px,#27808e 100px,#1fa287 109px,#1e9d89 136px,#21a585 148px,#2f6c8e 162px,#2b748e 193px,#23888e 209px,#21918c 222px,#70cf57 234px,#7ad151 255px,#63cb5f 284px,#a2da37 295px,#95d840 313px)"></i>
<i style="left:381.78px;width:6.06px;height:313px;background:linear-gradient(#440154 0px,#440154 15px,#481467 16px,#3b518b 18px,#375a8c 20px,#2d708e 21px,#2e6d8e 22px,#29798e 25px,#2a788e 67px,#46307e 72px,#440256 74px,#470d60 81px,#1fa188 102px,#3dbc74 120px,#23a983 143px,#1e9b8a 152px,#297b8e 163px,#2f6c8e 193px,#238a8d 219px,#b8de29 233px,#89d548 261px,#31b57b 276px,#44bf70 287px,#84d44b 297px,#a8db34 313px)"></i>
<i style="left:387.34px;width:6.06px;height:313px;background:linear-gradient(#440154 0px,#440154 78px,#34618d 83px,#25838e 87px,#28ae80 106px,#1fa187 149px,#2e6f8e 163px,#375b8d 190px,#25848e 206px,#1f968b 221px,#bddf26 233px,#bddf26 248px,#4ac16d 276px,#77d153 288px,#9bd93c 296px,#a8db34 313px)"></i>
<i style="left:392.90px;width:6.06px;height:313px;background:linear-gradient(#440154 0px,#460a5d 29px,#365d8d 32px,#31678e 39px,#365d8d 47px,#481c6e 52px,#440154 53px,#460a5d 79px,#1fa287 99px,#27ad81 111px,#1e9c89 145px,#2e6d8e 183px,#25858e 193px,#1fa188 203px,#25838e 221px,#3aba76 235px,#bddf26 260px,#50c46a 283px,#7cd250 296px,#77d153 313px)"></i>
<i style="left:398.46px;width:6.06px;height:313px;background:linear-gradient(#440154 0px,#440154 21px,#46307e 24px,#443983 26px,#33628d 28px,#31668e 49px,#424086 54px,#440154 57px,#460b5e 89px,#20a486 109px,#22a785 119px,#20a386 144px,#218f8d 153px,#2d708e 163px,#31668e 190px,#20928c 204px,#297b8e 222px,#46c06f 235px,#63cb5f 250px,#70cf57 282px,#c8e020 295px,#d0e11c 313px)"></i>
<i style="left:404.02px;width:6.06px;height:313px;background:linear-gradient(#443983 0px,#46337f 1px,#3b528b 2px,#2f6c8e 5px,#287d8e 10px,#2a778e 24px,#38598c 28px,#481b6d 32px,#482071 35px,#440256 36px,#440154 43px,#471365 45px,#440154 47px,#424086 53px,#433d84 55px,#31668e 57px,#2c718e 62px,#33638d 65px,#306a8e 68px,#3b528b 74px,#365d8d 81px,#1f9f88 91px,#20a386 106px,#27ad81 130px,#28ae80 147px,#2f6b8e 162px,#297b8e 197px,#2d718e 221px,#27ad81 234px,#3aba76 253px,#6ece58 266px,#5ec962 286px,#9bd93c 296px,#9dd93b 313px)"></i>
<i style="left:409.58px;width:6.06px;height:313px;background:linear-gradient(#440154 0px,#482071 4px,#481b6d 5px,#365d8d 10px,#355e8d 12px,#2a778e 14px,#2e6d8e 20px,#297b8e 23px,#2b748e 71px,#2a788e 84px,#1f9a8a 101px,#23a983 116px,#34b679 133px,#29af7f 150px,#218f8d 162px,#23898e 196px,#238a8d 221px,#50c46a 233px,#65cb5e 258px,#65cb5e 270px,#46c06f 285px,#9bd93c 296px,#7fd34e 313px)"></i>
<i style="left:415.14px;width:6.06px;height:313px;background:linear-gradient(#440154 0px,#440154 30px,#33638d 34px,#34618d 62px,#2db27d 81px,#1fa187 109px,#26ad81 145px,#297a8e 161px,#26828e 181px,#26828e 192px,#24aa83 206px,#2eb37c 221px,#cde11d 232px,#54c568 251px,#65cb5e 266px,#3aba76 281px,#70cf57 289px,#a5db36 296px,#73d056 313px)"></i>
<i style="left:420.70px;width:6.06px;height:313px;background:linear-gradient(#440154 0px,#440154 32px,#481c6e 33px,#3f4788 34px,#2a778e 36px,#25838e 42px,#297a8e 66px,#2c738e 78px,#26ad81 96px,#2eb37c 134px,#1f9a8a 150px,#2b758e 162px,#2d708e 189px,#1e9c89 205px,#1e9d89 220px,#c0df25 232px,#81d34d 252px,#89d548 264px,#3fbc73 277px,#60ca60 286px,#bddf26 294px,#54c568 313px)"></i>
<i style="left:426.26px;width:6.06px;height:313px;background:linear-gradient(#440154 0px,#440154 58px,#470d60 60px,#440154 63px,#481b6d 64px,#482374 70px,#481a6c 71px,#443a83 74px,#46307e 75px,#404588 76px,#3b528b 81px,#22a884 93px,#40bd72 127px,#21a685 149px,#2c728e 162px,#277f8e 191px,#1f968b 203px,#238a8d 219px,#40bd72 227px,#93d741 233px,#a2da37 258px,#73d056 269px,#42be71 282px,#90d743 295px,#63cb5f 313px)"></i>
<i style="left:431.82px;width:6.06px;height:313px;background:linear-gradient(#440154 0px,#450457 81px,#2d708e 93px,#25ac82 102px,#2fb47c 125px,#35b779 149px,#238a8d 162px,#277f8e 191px,#21908d 205px,#20938c 220px,#95d840 233px,#6ccd5a 264px,#2eb37c 282px,#5ec962 291px,#7ad151 307px,#69cd5b 313px)"></i>
<i style="left:437.38px;width:6.06px;height:313px;background:linear-gradient(#56c667 0px,#8ed645 56px,#d2e21b 99px,#2eb37c 177px,#1fa188 213px,#20a486 222px,#8ed645 232px,#56c667 250px,#67cc5c 266px,#46c06f 283px,#98d83e 296px,#7fd34e 313px)"></i>
<i style="left:442.94px;width:6.06px;height:313px;background:linear-gradient(#7ad151 0px,#aadc32 61px,#fde725 100px,#e7e419 136px,#54c568 178px,#23a983 205px,#69cd5b 223px,#dde318 232px,#b8de29 262px,#52c569 278px,#5cc863 287px,#84d44b 295px,#6ece58 313px)"></i>
<i style="left:448.50px;width:6.06px;height:313px;background:linear-gradient(#2f6c8e 0px,#414487 6px,#404688 7px,#481b6d 9px,#440154 12px,#440154 54px,#3c508b 56px,#2e6d8e 58px,#2f6b8e 71px,#25ac82 89px,#1e9d89 108px,#38b977 133px,#2db27d 147px,#2f6b8e 160px,#2c728e 189px,#2cb17e 204px,#25ab82 222px,#9bd93c 234px,#b0dd2f 249px,#2fb47c 276px,#32b67a 286px,#6ccd5a 296px,#8ed645 313px)"></i>
<i style="left:454.06px;width:6.06px;height:313px;background:linear-gradient(#440154 0px,#450457 13px,#472f7d 15px,#424186 18px,#34608d 20px,#30698e 32px,#31668e 70px,#24878e 80px,#3bbb75 88px,#29af7f 122px,#46c06f 146px,#27808e 163px,#31678e 183px,#27808e 194px,#22a884 206px,#21a585 221px,#cae11f 234px,#cae11f 250px,#2fb47c 286px,#50c46a 298px,#84d44b 313px)"></i>
<i style="left:459.62px;width:6.06px;height:313px;background:linear-gradient(#440154 0px,#482071 2px,#375b8d 4px,#26828e 8px,#277e8e 64px,#2c738e 73px,#34618d 76px,#1f988b 89px,#2db27d 98px,#32b67a 119px,#1fa088 151px,#355e8d 183px,#31678e 193px,#1f968b 208px,#26ad81 221px,#b2dd2d 232px,#84d44b 250px,#77d153 264px,#4cc26c 278px,#69cd5b 287px,#9bd93c 295px,#89d548 313px)"></i>
<i style="left:465.18px;width:6.06px;height:313px;background:linear-gradient(#440154 0px,#440154 27px,#472e7c 29px,#375b8d 33px,#375a8c 38px,#3a538b 45px,#3c508b 50px,#26828e 60px,#3bbb75 69px,#1f9e89 105px,#42be71 126px,#1f968b 156px,#25858e 199px,#24878e 215px,#1fa188 222px,#86d549 231px,#93d741 251px,#90d743 264px,#46c06f 279px,#5ac864 286px,#bade28 295px,#c0df25 313px)"></i>
<i style="left:470.74px;width:6.06px;height:313px;background:linear-gradient(#440154 0px,#46075a 50px,#20a486 69px,#25ac82 78px,#1fa187 101px,#32b67a 125px,#25ab82 151px,#218f8d 163px,#287c8e 191px,#26828e 204px,#277e8e 216px,#1f958b 222px,#8ed645 232px,#9dd93b 268px,#5ac864 284px,#cae11f 295px,#addc30 310px,#9bd93c 313px)"></i>
<i style="left:476.30px;width:6.06px;height:313px;background:linear-gradient(#440154 0px,#440154 29px,#470e61 30px,#424186 31px,#424186 32px,#228b8d 37px,#23888e 43px,#2a768e 47px,#2c728e 51px,#287d8e 53px,#228b8d 62px,#2ab07f 71px,#20a486 96px,#31b57b 132px,#1e9d89 152px,#23888e 163px,#2a778e 179px,#2e6e8e 193px,#32658e 218px,#23898e 225px,#3aba76 233px,#52c569 277px,#58c765 286px,#a2da37 295px,#aadc32 313px)"></i>
<i style="left:481.86px;width:6.06px;height:313px;background:linear-gradient(#440154 0px,#450559 40px,#20a386 61px,#25ab82 81px,#3fbc73 131px,#20938c 152px,#26828e 162px,#297a8e 186px,#33638d 218px,#27808e 224px,#3fbc73 233px,#2ab07f 258px,#42be71 280px,#5ec962 288px,#81d34d 296px,#84d44b 313px)"></i>
<i style="left:487.42px;width:6.06px;height:313px;background:linear-gradient(#26818e 0px,#1f978b 2px,#21908d 32px,#24878e 44px,#1f9e89 57px,#25ac82 68px,#2ab07f 112px,#25ab82 132px,#27ad81 148px,#2c728e 162px,#2e6e8e 194px,#2e6e8e 205px,#3f4788 219px,#2e6f8e 225px,#35b779 233px,#56c667 242px,#25ac82 260px,#5ac864 281px,#58c765 295px,#40bd72 306px,#5ec962 313px)"></i>
<i style="left:492.98px;width:6.06px;height:313px;background:linear-gradient(#440154 0px,#440256 31px,#26ad81 51px,#2ab07f 62px,#1fa287 105px,#218e8d 122px,#1f9a8a 148px,#34608d 163px,#424086 186px,#2e6e8e 197px,#25858e 205px,#31678e 221px,#1e9c89 228px,#5ec962 234px,#75d054 243px,#3bbb75 257px,#89d548 277px,#89d548 287px,#9dd93b 295px,#58c765 312px,#5ac864 313px)"></i>
<i style="left:498.54px;width:6.06px;height:313px;background:linear-gradient(#3d4e8a 0px,#2e6d8e 3px,#2c728e 5px,#24868e 7px,#25838e 38px,#287c8e 51px,#25ac82 70px,#21a585 93px,#28ae80 108px,#1fa187 126px,#26ad81 145px,#25848e 152px,#443983 161px,#482878 173px,#277f8e 205px,#1f968b 223px,#58c765 234px,#90d743 288px,#9bd93c 296px,#7fd34e 310px,#8bd646 313px)"></i>
<i style="left:504.10px;width:6.06px;height:313px;background:linear-gradient(#440154 0px,#470e61 6px,#440154 10px,#433d84 13px,#482677 14px,#443983 19px,#482475 20px,#482677 23px,#470e61 24px,#460a5d 25px,#482878 26px,#440154 29px,#450457 53px,#27808e 66px,#22a884 77px,#1f998a 118px,#3aba76 143px,#20a386 150px,#31688e 160px,#30698e 186px,#277e8e 194px,#2ab07f 205px,#24aa83 214px,#228d8d 223px,#48c16e 247px,#2fb47c 263px,#73d056 280px,#8ed645 288px,#b5de2b 296px,#c8e020 313px)"></i>
<i style="left:509.66px;width:6.06px;height:313px;background:linear-gradient(#440154 0px,#450457 24px,#481c6e 29px,#463480 31px,#472a7a 32px,#3e4989 35px,#443b84 40px,#481d6f 41px,#481467 44px,#440154 46px,#460a5d 66px,#21a585 86px,#26ad81 95px,#23a983 122px,#2cb17e 145px,#1fa088 153px,#2b758e 164px,#365c8d 184px,#2b748e 193px,#1f9f88 203px,#228b8d 212px,#31678e 221px,#25838e 228px,#25ab82 236px,#38b977 249px,#23a983 267px,#63cb5f 286px,#b5de2b 294px,#a2da37 313px)"></i>
<i style="left:515.22px;width:6.06px;height:313px;background:linear-gradient(#440154 0px,#450559 55px,#443983 59px,#33628d 63px,#21918c 75px,#20a386 119px,#21908d 148px,#33628d 161px,#24878e 198px,#2e6f8e 219px,#1fa088 228px,#3aba76 235px,#34b679 269px,#65cb5e 285px,#cde11d 294px,#c0df25 313px)"></i>
<i style="left:520.78px;width:6.06px;height:313px;background:linear-gradient(#440154 0px,#440154 4px,#375a8c 9px,#2e6d8e 16px,#32658e 27px,#3f4788 29px,#463480 32px,#471164 35px,#440154 41px,#440154 58px,#453781 62px,#482979 64px,#404688 76px,#1fa187 88px,#25ab82 101px,#21a685 129px,#22a785 146px,#30698e 161px,#32658e 192px,#29798e 206px,#2b758e 221px,#54c568 234px,#48c16e 246px,#25ab82 263px,#6ece58 286px,#c2df23 294px,#d2e21b 313px)"></i>
<i style="left:526.34px;width:6.06px;height:313px;background:linear-gradient(#440154 0px,#440154 18px,#46327e 22px,#472f7d 24px,#414287 25px,#453781 26px,#433e85 27px,#38588c 28px,#32658e 37px,#375b8d 51px,#453581 57px,#46337f 59px,#471365 62px,#471164 68px,#20a486 85px,#2cb17e 98px,#25ab82 142px,#1fa187 150px,#27808e 161px,#23898e 178px,#2c718e 191px,#228c8d 205px,#34618d 221px,#1fa187 235px,#2ab07f 261px,#70cf57 277px,#81d34d 287px,#addc30 295px,#b8de29 313px)"></i>
<i style="left:531.90px;width:6.06px;height:313px;background:linear-gradient(#277f8e 0px,#287c8e 1px,#228d8d 2px,#21908d 55px,#2b748e 71px,#1fa187 89px,#1f9f88 109px,#22a884 128px,#24aa83 149px,#2a788e 161px,#1f9f88 178px,#23898e 192px,#1fa188 204px,#31668e 221px,#228c8d 229px,#27ad81 237px,#46c06f 266px,#69cd5b 281px,#9dd93b 295px,#a2da37 308px,#bddf26 313px)"></i>
<i style="left:537.46px;width:6.06px;height:313px;background:linear-gradient(#228c8d 0px,#23888e 11px,#277e8e 13px,#306a8e 14px,#2c728e 16px,#375a8c 19px,#443b84 21px,#39558c 26px,#472a7a 28px,#482173 31px,#472f7d 32px,#471063 33px,#481467 35px,#481b6d 36px,#440256 38px,#46085c 67px,#2cb17e 87px,#3fbc73 100px,#26ad81 121px,#23a983 149px,#228b8d 161px,#28ae80 178px,#1fa088 192px,#3bbb75 205px,#1e9b8a 221px,#4ec36b 234px,#24aa83 262px,#89d548 287px,#cde11d 294px,#e2e418 310px,#ece51b 313px)"></i>
<i style="left:543.02px;width:6.06px;height:313px;background:linear-gradient(#440154 0px,#440154 45px,#482878 47px,#375b8d 48px,#2d718e 49px,#27808e 54px,#2b748e 65px,#3c4f8a 69px,#453781 74px,#453882 77px,#3aba76 92px,#50c46a 98px,#20928c 141px,#21908d 151px,#2c718e 162px,#1f958b 186px,#218e8d 212px,#2cb17e 223px,#69cd5b 231px,#20a486 248px,#4ec36b 264px,#7ad151 276px,#75d054 286px,#d0e11c 295px,#dfe318 313px)"></i>
<i style="left:548.58px;width:6.06px;height:313px;background:linear-gradient(#440154 0px,#440154 75px,#3c508b 80px,#31668e 81px,#23a983 111px,#24aa83 139px,#29af7f 149px,#1f988b 161px,#1f9a8a 172px,#2e6f8e 189px,#26818e 206px,#218f8d 221px,#31b57b 232px,#25ac82 246px,#77d153 266px,#86d549 285px,#fde725 295px,#fde725 313px)"></i>
<i style="left:554.14px;width:6.06px;height:313px;background:linear-gradient(#440154 0px,#46075a 50px,#414287 54px,#2a768e 58px,#2d718e 60px,#2c728e 64px,#2f6c8e 66px,#2a788e 68px,#2c728e 77px,#23898e 84px,#28ae80 92px,#32b67a 119px,#1fa088 141px,#1f998a 150px,#277e8e 161px,#277e8e 173px,#2d718e 186px,#25ab82 203px,#1fa088 222px,#40bd72 233px,#3dbc74 252px,#63cb5f 279px,#7cd250 286px,#e2e418 294px,#ece51b 313px)"></i>
<i style="left:559.70px;width:6.06px;height:313px;background:linear-gradient(#440154 0px,#440154 62px,#481668 65px,#460a5d 68px,#404588 78px,#25858e 87px,#20a386 95px,#20a486 124px,#1f978b 139px,#1f9f88 149px,#2b758e 162px,#365c8d 178px,#3f4889 190px,#2e6e8e 205px,#31688e 221px,#1fa188 234px,#2db27d 255px,#84d44b 276px,#8bd646 286px,#d2e21b 295px,#cae11f 313px)"></i>
<i style="left:565.26px;width:6.06px;height:313px;background:linear-gradient(#287c8e 0px,#2a788e 22px,#2f6b8e 24px,#2d718e 25px,#3f4889 27px,#46307e 29px,#424086 30px,#481d6f 32px,#482677 34px,#440154 36px,#460b5e 63px,#1fa188 82px,#25ab82 92px,#29af7f 114px,#1fa287 132px,#1fa188 149px,#2f6b8e 162px,#3d4d8a 187px,#2c728e 207px,#2f6c8e 222px,#22a785 234px,#2fb47c 264px,#5ec962 285px,#c8e020 294px,#c5e021 312px,#c8e020 313px)"></i>
<i style="left:570.82px;width:6.06px;height:313px;background:linear-gradient(#440154 0px,#460a5d 8px,#46307e 12px,#3d4e8a 16px,#3e4989 17px,#2e6f8e 19px,#2b758e 24px,#375a8c 28px,#2b748e 31px,#32648e 32px,#365d8d 35px,#404688 36px,#375a8c 38px,#3f4889 40px,#440154 43px,#440154 70px,#443983 75px,#33638d 79px,#23888e 89px,#1f9f88 103px,#22a785 133px,#1fa088 149px,#2e6e8e 162px,#33628d 187px,#20928c 205px,#2a768e 222px,#3fbc73 236px,#60ca60 250px,#42be71 269px,#44bf70 285px,#b2dd2d 295px,#e7e419 313px)"></i>
<i style="left:576.38px;width:6.06px;height:313px;background:linear-gradient(#2d708e 0px,#33638d 3px,#482475 8px,#460a5d 10px,#481b6d 13px,#440154 14px,#481769 18px,#414287 21px,#34618d 26px,#277e8e 30px,#287d8e 71px,#453882 79px,#482071 80px,#481a6c 82px,#472e7c 84px,#472e7c 90px,#3f4889 94px,#2d718e 98px,#1f978b 117px,#22a785 143px,#21918c 151px,#31668e 161px,#365d8d 180px,#3a538b 191px,#24878e 201px,#2ab07f 210px,#1fa188 224px,#58c765 238px,#5ac864 251px,#31b57b 265px,#63cb5f 286px,#bade28 294px,#c8e020 313px)"></i>
<i style="left:581.94px;width:6.06px;height:313px;background:linear-gradient(#440154 0px,#440154 16px,#481d6f 18px,#482979 21px,#32658e 24px,#365d8d 28px,#25838e 30px,#1e9b8a 33px,#1f968b 60px,#29798e 62px,#46337f 65px,#440256 66px,#46075a 87px,#1fa188 107px,#3dbc74 148px,#2c728e 163px,#3e4989 187px,#306a8e 194px,#54c568 206px,#69cd5b 213px,#21a685 225px,#2eb37c 243px,#40bd72 258px,#50c46a 275px,#75d054 286px,#bade28 294px,#9dd93b 308px,#b8de29 313px)"></i>
<i style="left:587.50px;width:6.06px;height:313px;background:linear-gradient(#440154 0px,#460a5d 83px,#28ae80 103px,#31b57b 111px,#1f988b 131px,#21a685 148px,#2d708e 162px,#355e8d 176px,#443983 188px,#2f6b8e 199px,#1f948c 213px,#2ab07f 229px,#4ec36b 264px,#aadc32 281px,#fde725 292px,#c2df23 312px,#c5e021 313px)"></i>
<i style="left:593.06px;width:6.06px;height:313px;background:linear-gradient(#440154 0px,#46085c 87px,#463480 92px,#277e8e 101px,#22a884 111px,#2eb37c 144px,#218e8d 152px,#31678e 160px,#2b758e 192px,#228d8d 205px,#31688e 222px,#1f978b 235px,#25ac82 258px,#b0dd2f 276px,#cae11f 287px,#f1e51d 294px,#cae11f 308px,#dae319 313px)"></i>
<i style="left:598.62px;width:6.06px;height:313px;background:linear-gradient(#440154 0px,#440154 37px,#48186a 39px,#471365 41px,#472f7d 42px,#414487 44px,#33638d 46px,#2b758e 50px,#2a788e 66px,#355e8d 71px,#423f85 72px,#46337f 74px,#46085c 75px,#450559 80px,#1f9f88 103px,#40bd72 121px,#1fa188 146px,#3a548c 159px,#26818e 200px,#3c4f8a 220px,#287d8e 230px,#1f948c 240px,#3aba76 265px,#84d44b 277px,#9dd93b 287px,#cde11d 294px,#a5db36 308px,#b8de29 313px)"></i>
<i style="left:604.18px;width:6.06px;height:313px;background:linear-gradient(#355e8d 0px,#414487 4px,#472f7d 7px,#453581 8px,#460b5e 11px,#450559 13px,#471063 15px,#470e61 17px,#481668 18px,#450559 19px,#481668 20px,#453781 21px,#3b518b 24px,#3b518b 27px,#2b748e 31px,#2f6c8e 66px,#33638d 72px,#414287 76px,#34608d 82px,#1fa287 93px,#26ad81 114px,#1f968b 147px,#404588 160px,#38588c 174px,#1e9b8a 195px,#2b748e 207px,#3a538b 221px,#287d8e 229px,#1fa188 237px,#2cb17e 263px,#65cb5e 278px,#90d743 286px,#fde725 293px,#cde11d 313px)"></i>
<i style="left:609.74px;width:6.06px;height:313px;background:linear-gradient(#440154 0px,#440154 48px,#482475 50px,#2e6d8e 52px,#26828e 56px,#277f8e 69px,#35b779 91px,#2eb37c 125px,#50c46a 145px,#1fa088 152px,#32648e 161px,#375b8d 185px,#228b8d 200px,#2e6f8e 220px,#28ae80 233px,#25838e 253px,#1f948c 265px,#2eb37c 278px,#4ec36b 286px,#bade28 294px,#9bd93c 313px)"></i>
<i style="left:615.30px;width:6.06px;height:313px;background:linear-gradient(#440154 0px,#440154 69px,#482576 71px,#463480 74px,#365c8d 79px,#26818e 82px,#27ad81 99px,#3dbc74 134px,#20a386 148px,#404688 161px,#3f4889 175px,#2a768e 186px,#25ab82 196px,#1e9d89 204px,#297a8e 215px,#25838e 221px,#a8db34 234px,#aadc32 242px,#21918c 260px,#1f998a 268px,#58c765 286px,#bade28 294px,#aadc32 313px)"></i>
<i style="left:620.86px;width:6.06px;height:313px;background:linear-gradient(#1f978b 0px,#20928c 12px,#2b748e 15px,#3f4788 17px,#481d6f 18px,#440154 21px,#440154 53px,#404588 55px,#3e4c8a 56px,#2d718e 57px,#21918c 60px,#228d8d 74px,#37b878 106px,#38b977 135px,#1f978b 149px,#433e85 162px,#481b6d 178px,#414487 188px,#1f958b 203px,#1f9f88 214px,#21908d 223px,#52c569 239px,#42be71 250px,#21a585 263px,#4ac16d 279px,#69cd5b 286px,#c5e021 294px,#98d83e 311px,#a2da37 313px)"></i>
<i style="left:626.42px;width:6.06px;height:313px;background:linear-gradient(#440154 0px,#46085c 60px,#22a785 77px,#2eb37c 84px,#40bd72 126px,#34b679 142px,#1f9e89 149px,#3c508b 160px,#39558c 174px,#20938c 201px,#27808e 218px,#20a486 225px,#65cb5e 233px,#1f9e89 260px,#69cd5b 278px,#90d743 287px,#c8e020 294px,#7ad151 311px,#7fd34e 313px)"></i>
<i style="left:631.98px;width:6.06px;height:313px;background:linear-gradient(#440154 0px,#440154 42px,#424086 44px,#2b748e 45px,#24868e 48px,#297a8e 66px,#28ae80 87px,#29af7f 132px,#3bbb75 147px,#228c8d 154px,#423f85 162px,#482878 169px,#3e4c8a 176px,#44bf70 192px,#5ac864 199px,#1fa188 206px,#3e4c8a 216px,#423f85 221px,#23898e 234px,#2c718e 258px,#238a8d 266px,#40bd72 277px,#69cd5b 286px,#c2df23 294px,#a0da39 313px)"></i>
<i style="left:637.54px;width:6.06px;height:313px;background:linear-gradient(#440154 0px,#440154 21px,#443b84 26px,#3a548c 27px,#26828e 32px,#27808e 45px,#33628d 59px,#38588c 61px,#32648e 62px,#31678e 65px,#22a785 76px,#3fbc73 106px,#22a884 140px,#218f8d 148px,#482475 160px,#482374 168px,#287c8e 186px,#1f988b 201px,#22a785 211px,#29798e 225px,#228c8d 263px,#44bf70 276px,#50c46a 286px,#a2da37 295px,#efe51c 313px)"></i>
<i style="left:643.10px;width:6.06px;height:313px;background:linear-gradient(#31678e 0px,#32658e 31px,#3f4788 33px,#470d60 34px,#440154 39px,#460b5e 64px,#20a386 84px,#35b779 101px,#52c569 131px,#1e9c89 147px,#3e4989 159px,#3a548c 191px,#25838e 204px,#2e6d8e 213px,#423f85 222px,#38598c 232px,#24aa83 252px,#25ac82 266px,#46c06f 277px,#4cc26c 285px,#b8de29 295px,#f6e620 313px)"></i>
<i style="left:648.66px;width:6.06px;height:313px;background:linear-gradient(#440154 0px,#450457 69px,#1fa187 89px,#1f9f88 99px,#1e9b8a 112px,#5ac864 132px,#32b67a 145px,#3a548c 159px,#375b8d 167px,#50c46a 197px,#2eb37c 204px,#32658e 217px,#34618d 223px,#218e8d 236px,#23a983 263px,#60ca60 275px,#5cc863 285px,#bddf26 294px,#b2dd2d 313px)"></i>
<i style="left:654.22px;width:6.06px;height:313px;background:linear-gradient(#440154 0px,#440154 16px,#404688 20px,#2c738e 25px,#2e6f8e 74px,#28ae80 94px,#21a685 118px,#46c06f 146px,#20938c 154px,#34618d 162px,#2e6f8e 192px,#287c8e 205px,#33638d 224px,#29798e 247px,#2db27d 264px,#93d741 274px,#81d34d 286px,#cae11f 295px,#a8db34 313px)"></i>
<i style="left:659.78px;width:6.06px;height:313px;background:linear-gradient(#440154 0px,#460a5d 44px,#481769 47px,#46327e 50px,#3f4889 51px,#423f85 57px,#375b8d 63px,#306a8e 66px,#218e8d 77px,#46c06f 89px,#34b679 108px,#21a585 125px,#42be71 147px,#2e6d8e 162px,#277e8e 173px,#3fbc73 188px,#35b779 200px,#31688e 221px,#21908d 236px,#25858e 263px,#44bf70 276px,#63cb5f 287px,#a2da37 295px,#cae11f 313px)"></i>
<i style="left:665.34px;width:6.06px;height:313px;background:linear-gradient(#440154 0px,#46075a 67px,#23a983 86px,#2cb17e 93px,#1fa287 131px,#1e9d89 146px,#463480 161px,#404688 171px,#56c667 198px,#50c46a 206px,#32648e 223px,#32648e 241px,#228d8d 259px,#2db27d 270px,#4ac16d 278px,#5cc863 286px,#b2dd2d 295px,#f1e51d 313px)"></i>
<i style="left:670.90px;width:6.06px;height:313px;background:linear-gradient(#31688e 0px,#29798e 3px,#2a768e 24px,#355f8d 27px,#31688e 31px,#404688 34px,#46307e 35px,#453581 38px,#482878 39px,#440154 40px,#450457 68px,#20938c 87px,#1fa287 116px,#1fa088 147px,#443b84 163px,#48186a 174px,#424086 183px,#218e8d 197px,#218e8d 205px,#38588c 219px,#2c718e 227px,#1f9a8a 238px,#21a685 253px,#1f9a8a 264px,#5ac864 279px,#90d743 287px,#dae319 294px,#d8e219 313px)"></i>
<i style="left:676.46px;width:6.06px;height:313px;background:linear-gradient(#31678e 0px,#34618d 20px,#424086 23px,#482677 24px,#482576 25px,#450457 26px,#46337f 30px,#472c7a 33px,#3e4c8a 38px,#31678e 43px,#2f6b8e 73px,#22a884 97px,#31b57b 135px,#1f988b 148px,#443983 160px,#453882 172px,#21918c 203px,#2f6c8e 213px,#3c4f8a 221px,#26818e 245px,#1e9c89 256px,#1fa287 264px,#84d44b 276px,#a2da37 287px,#d8e219 294px,#b8de29 310px,#c2df23 313px)"></i>
<i style="left:682.02px;width:6.06px;height:313px;background:linear-gradient(#440154 0px,#440154 58px,#3a538b 65px,#277e8e 70px,#1e9d89 82px,#1f988b 105px,#46c06f 139px,#2fb47c 147px,#3e4c8a 160px,#3d4e8a 169px,#2e6f8e 184px,#375b8d 206px,#471063 220px,#472e7c 228px,#2b748e 243px,#1f968b 263px,#73d056 275px,#6ccd5a 286px,#aadc32 295px,#e7e419 311px,#f1e51d 313px)"></i>
<i style="left:687.58px;width:6.06px;height:313px;background:linear-gradient(#440154 0px,#440256 13px,#482878 14px,#32648e 19px,#2e6e8e 33px,#2f6b8e 43px,#38588c 46px,#375a8c 49px,#3d4d8a 54px,#355e8d 58px,#3a538b 60px,#34618d 64px,#2b758e 76px,#1f988b 91px,#2ab07f 125px,#3fbc73 144px,#1f9a8a 153px,#277e8e 161px,#25848e 192px,#31678e 207px,#433d84 221px,#2d708e 244px,#1fa287 259px,#84d44b 275px,#5ec962 285px,#a8db34 295px,#bddf26 313px)"></i>
<i style="left:693.14px;width:6.06px;height:313px;background:linear-gradient(#25848e 0px,#277f8e 28px,#2e6d8e 29px,#46307e 31px,#440154 33px,#46085c 77px,#277f8e 90px,#2fb47c 98px,#32b67a 116px,#21a685 146px,#414487 161px,#3a538b 173px,#287c8e 186px,#375a8c 203px,#48186a 216px,#482677 223px,#228d8d 242px,#25ab82 255px,#2fb47c 265px,#6ece58 276px,#77d153 286px,#b5de2b 294px,#9bd93c 306px,#c5e021 313px)"></i>
<i style="left:698.70px;width:6.06px;height:313px;background:linear-gradient(#440154 0px,#460b5e 39px,#481c6e 40px,#3c508b 41px,#1f948c 44px,#20928c 61px,#24868e 76px,#29af7f 102px,#3bbb75 130px,#25ac82 148px,#34618d 160px,#2d718e 201px,#443a83 217px,#39558c 225px,#25858e 236px,#1e9c89 254px,#1f988b 264px,#52c569 277px,#75d054 286px,#cde11d 294px,#c0df25 313px)"></i>
<i style="left:704.26px;width:6.06px;height:313px;background:linear-gradient(#481f70 0px,#423f85 7px,#453781 8px,#39568c 9px,#424186 12px,#481f70 14px,#472a7a 17px,#481f70 18px,#472e7c 19px,#482173 20px,#453882 22px,#472a7a 27px,#481b6d 28px,#472d7b 29px,#460a5d 31px,#450559 59px,#21918c 81px,#2eb37c 127px,#25ab82 146px,#2d708e 158px,#26818e 165px,#21908d 174px,#365c8d 186px,#472e7c 197px,#414287 218px,#24868e 229px,#1fa188 236px,#297a8e 260px,#1fa287 268px,#5ec962 276px,#7fd34e 287px,#b0dd2f 295px,#addc30 313px)"></i>
<i style="left:709.82px;width:6.06px;height:313px;background:linear-gradient(#34618d 0px,#31688e 2px,#38598c 3px,#33638d 5px,#481b6d 7px,#460a5d 10px,#450457 78px,#463480 81px,#3d4e8a 82px,#33638d 84px,#32648e 86px,#25838e 92px,#20a386 106px,#4ec36b 132px,#25ac82 147px,#355e8d 159px,#30698e 175px,#482475 193px,#423f85 207px,#26818e 227px,#277e8e 249px,#20a486 263px,#8bd646 274px,#73d056 286px,#b2dd2d 295px,#c2df23 313px)"></i>
<i style="left:715.38px;width:6.06px;height:313px;background:linear-gradient(#440154 0px,#440154 43px,#414287 45px,#3d4e8a 46px,#2b758e 48px,#2e6e8e 49px,#25858e 51px,#277f8e 54px,#26818e 55px,#2e6f8e 56px,#24878e 59px,#2a768e 60px,#29798e 61px,#34608d 62px,#2f6c8e 64px,#33638d 66px,#481668 69px,#481769 74px,#20938c 90px,#1f988b 102px,#20a386 128px,#38b977 146px,#2c738e 161px,#39568c 186px,#33638d 199px,#472d7b 212px,#414487 219px,#1fa187 231px,#1fa287 238px,#238a8d 250px,#22a785 263px,#a8db34 274px,#a0da39 286px,#e7e419 295px,#bade28 313px)"></i>
<i style="left:720.94px;width:6.06px;height:313px;background:linear-gradient(#24878e 0px,#27808e 60px,#2e6d8e 66px,#33628d 68px,#3d4d8a 73px,#365c8d 74px,#365d8d 77px,#29af7f 90px,#48c16e 121px,#28ae80 142px,#22a785 149px,#365d8d 162px,#440154 183px,#481668 190px,#2f6c8e 202px,#34618d 224px,#277e8e 238px,#23888e 258px,#20a386 265px,#7ad151 274px,#89d548 286px,#e2e418 294px,#b8de29 313px)"></i>
<i style="left:726.50px;width:6.06px;height:313px;background:linear-gradient(#440154 0px,#46075a 52px,#414287 53px,#30698e 55px,#26818e 56px,#228c8d 59px,#2a778e 76px,#2eb37c 99px,#6ece58 126px,#1f988b 149px,#3a538b 161px,#39558c 176px,#3a538b 190px,#355e8d 209px,#27ad81 226px,#21a585 235px,#2a768e 254px,#2a788e 263px,#48c16e 276px,#84d44b 286px,#efe51c 294px,#c2df23 313px)"></i>
<i style="left:732.06px;width:6.06px;height:313px;background:linear-gradient(#23898e 0px,#25848e 20px,#3b528b 23px,#440154 26px,#450457 61px,#25838e 78px,#1f978b 89px,#73d056 146px,#1fa187 154px,#2e6d8e 162px,#443983 189px,#34608d 203px,#375a8c 215px,#228c8d 224px,#34b679 232px,#28ae80 242px,#26818e 261px,#28ae80 269px,#6ccd5a 276px,#81d34d 286px,#e5e419 295px,#f1e51d 313px)"></i>
<i style="left:737.62px;width:6.06px;height:313px;background:linear-gradient(#277e8e 0px,#2a778e 42px,#2e6e8e 45px,#3a538b 47px,#3d4d8a 48px,#481b6d 50px,#440154 53px,#460a5d 73px,#1e9b8a 96px,#20a486 116px,#1f9e89 132px,#46c06f 147px,#2a788e 161px,#365d8d 185px,#23888e 194px,#29af7f 202px,#1f958b 223px,#1e9c89 240px,#2a768e 256px,#2e6e8e 263px,#34b679 276px,#56c667 286px,#c8e020 294px,#d5e21a 313px)"></i>
<i style="left:743.18px;width:6.06px;height:313px;background:linear-gradient(#440154 0px,#440154 57px,#31688e 62px,#2c718e 66px,#26828e 79px,#1fa088 92px,#20928c 114px,#21a585 136px,#1f958b 148px,#31668e 159px,#297a8e 173px,#31688e 189px,#228d8d 203px,#2e6e8e 222px,#24aa83 242px,#228d8d 257px,#23898e 263px,#5ac864 275px,#7ad151 286px,#e5e419 294px,#d5e21a 313px)"></i>
<i style="left:748.74px;width:6.06px;height:313px;background:linear-gradient(#440154 0px,#440154 15px,#482374 16px,#472e7c 17px,#3e4c8a 18px,#3d4e8a 19px,#306a8e 21px,#355f8d 22px,#2f6b8e 24px,#2f6c8e 26px,#287d8e 29px,#297b8e 37px,#424086 41px,#482576 42px,#481769 45px,#440154 46px,#46075a 64px,#3f4788 72px,#26828e 78px,#20a386 94px,#4ec36b 118px,#28ae80 137px,#35b779 148px,#27808e 161px,#2f6b8e 173px,#38588c 183px,#2a788e 191px,#1f9e89 199px,#228b8d 207px,#31688e 219px,#2b758e 231px,#23a983 246px,#1f958b 256px,#24878e 262px,#34b679 270px,#75d054 276px,#86d549 286px,#dae319 295px,#f6e620 313px)"></i>
<i style="left:754.30px;width:6.06px;height:313px;background:linear-gradient(#440154 0px,#440154 60px,#481467 61px,#450457 62px,#471164 63px,#440154 67px,#481668 70px,#482979 71px,#482878 75px,#1f9e89 94px,#2eb37c 120px,#22a884 136px,#35b779 147px,#2f6b8e 161px,#297b8e 193px,#277e8e 216px,#31688e 230px,#277f8e 257px,#23898e 264px,#69cd5b 276px,#a2da37 286px,#fde725 293px,#fde725 313px)"></i>
<i style="left:759.86px;width:6.06px;height:313px;background:linear-gradient(#440154 0px,#440154 2px,#33638d 4px,#27808e 6px,#297a8e 70px,#25848e 85px,#25ab82 100px,#1f988b 120px,#37b878 147px,#2f6b8e 160px,#277e8e 185px,#20928c 196px,#1fa188 204px,#2b758e 214px,#423f85 224px,#3e4c8a 235px,#31678e 252px,#2a778e 262px,#84d44b 274px,#a2da37 286px,#f4e61e 294px,#b2dd2d 313px)"></i>
<i style="left:765.42px;width:6.06px;height:313px;background:linear-gradient(#440154 0px,#440154 41px,#482677 44px,#3e4c8a 45px,#404688 46px,#30698e 49px,#2a778e 65px,#2eb37c 81px,#1f968b 112px,#2fb47c 147px,#2f6c8e 157px,#3e4c8a 163px,#38588c 172px,#1f9f88 188px,#2db27d 201px,#2e6e8e 222px,#2b748e 240px,#46327e 258px,#3f4788 263px,#4ac16d 274px,#77d153 283px,#eae51a 294px,#a0da39 313px)"></i>
<i style="left:770.98px;width:6.06px;height:313px;background:linear-gradient(#440154 0px,#440154 28px,#471063 29px,#440256 30px,#482475 32px,#472e7c 35px,#440154 39px,#450457 59px,#1f968b 78px,#1e9b8a 87px,#1f968b 130px,#21a585 145px,#2a778e 152px,#482576 161px,#481668 174px,#3f4889 181px,#42be71 194px,#54c568 200px,#2a788e 215px,#25848e 223px,#21a585 234px,#23898e 243px,#3a538b 255px,#375b8d 262px,#48c16e 274px,#67cc5c 286px,#d8e219 295px,#e5e419 310px,#d8e219 313px)"></i>
<i style="left:776.54px;width:6.06px;height:313px;background:linear-gradient(#440154 0px,#440154 32px,#2a788e 36px,#1f988b 42px,#21918c 54px,#2a778e 58px,#31668e 60px,#2f6b8e 61px,#38598c 62px,#33638d 64px,#39558c 67px,#2a788e 72px,#24878e 77px,#1fa187 85px,#1f9e89 144px,#277f8e 150px,#481a6c 160px,#481a6c 169px,#453781 183px,#424086 192px,#23a983 209px,#35b779 220px,#2a768e 261px,#25ab82 268px,#8bd646 275px,#7cd250 286px,#cae11f 296px,#e5e419 313px)"></i>
<i style="left:782.10px;width:6.06px;height:313px;background:linear-gradient(#440154 0px,#460a5d 59px,#27808e 72px,#22a884 79px,#20a386 97px,#25ac82 115px,#22a785 132px,#31b57b 147px,#33638d 161px,#287c8e 192px,#4ec36b 205px,#42be71 213px,#1e9b8a 226px,#1f958b 250px,#26828e 262px,#5cc863 275px,#75d054 285px,#f6e620 294px,#d2e21b 313px)"></i>
<i style="left:787.66px;width:6.06px;height:313px;background:linear-gradient(#440154 0px,#440154 13px,#3b528b 15px,#33628d 17px,#24868e 19px,#27808e 47px,#2e6f8e 52px,#453581 54px,#482374 55px,#472c7a 60px,#1e9d89 75px,#1e9c89 85px,#1fa188 100px,#26ad81 114px,#1f998a 131px,#1fa187 147px,#365d8d 159px,#2f6c8e 167px,#27808e 179px,#2a768e 191px,#21918c 204px,#20938c 214px,#4cc26c 228px,#20a486 253px,#228d8d 262px,#3fbc73 269px,#bddf26 276px,#fde725 291px,#e2e418 301px,#b5de2b 313px)"></i>
<i style="left:793.22px;width:6.06px;height:313px;background:linear-gradient(#3d4e8a 0px,#277f8e 2px,#20938c 7px,#228c8d 39px,#2e6d8e 44px,#472f7d 47px,#423f85 48px,#453882 53px,#1f9a8a 66px,#1fa287 76px,#1f9f88 137px,#20938c 148px,#3e4989 159px,#39558c 166px,#355f8d 175px,#481668 190px,#463480 202px,#2f6c8e 212px,#3bbb75 223px,#4ec36b 233px,#48c16e 249px,#1e9b8a 262px,#67cc5c 270px,#c0df25 276px,#e7e419 287px,#fbe723 298px,#bddf26 313px)"></i>
<i style="left:798.78px;width:6.06px;height:313px;background:linear-gradient(#414487 0px,#440154 4px,#440154 38px,#482878 40px,#482878 43px,#365c8d 50px,#3a538b 51px,#1f9f88 68px,#20928c 80px,#21908d 94px,#22a884 115px,#20928c 147px,#34608d 157px,#2e6d8e 162px,#35b779 173px,#44bf70 180px,#277e8e 194px,#228c8d 209px,#2c728e 224px,#24878e 235px,#26ad81 246px,#1fa287 262px,#a8db34 274px,#93d741 286px,#cde11d 295px,#c0df25 313px)"></i>
<i style="left:804.34px;width:6.06px;height:313px;background:linear-gradient(#2f6c8e 0px,#2f6c8e 25px,#3d4e8a 29px,#450457 32px,#450559 46px,#2d718e 58px,#24aa83 67px,#1f988b 91px,#1fa287 137px,#29af7f 148px,#20938c 159px,#2cb17e 171px,#20928c 188px,#40bd72 203px,#1fa088 211px,#3c4f8a 223px,#404588 232px,#277e8e 249px,#228c8d 262px,#86d549 274px,#84d44b 286px,#dfe318 295px,#efe51c 313px)"></i>
<i style="left:809.90px;width:6.06px;height:313px;background:linear-gradient(#2b758e 0px,#2a768e 52px,#20a386 72px,#1f998a 95px,#3fbc73 134px,#4ac16d 147px,#297a8e 160px,#25848e 179px,#3b528b 196px,#2a778e 212px,#38598c 218px,#440256 226px,#470d60 237px,#38588c 250px,#2d708e 263px,#5ec962 275px,#93d741 286px,#fde725 293px,#fde725 313px)"></i>
<i style="left:815.46px;width:6.06px;height:313px;background:linear-gradient(#440154 0px,#440154 14px,#26828e 21px,#27808e 39px,#365d8d 45px,#3e4989 47px,#2d708e 54px,#2ab07f 64px,#2ab07f 73px,#228c8d 103px,#52c569 144px,#28ae80 150px,#306a8e 160px,#414487 191px,#2f6c8e 212px,#3f4788 219px,#440154 225px,#460a5d 252px,#355f8d 263px,#52c569 274px,#8bd646 286px,#fde725 294px,#fde725 313px)"></i>
<i style="left:821.02px;width:6.06px;height:313px;background:linear-gradient(#31678e 0px,#2f6c8e 33px,#38b977 56px,#23a983 71px,#1fa287 84px,#21a685 103px,#1f968b 147px,#472e7c 162px,#440154 179px,#46075a 195px,#3f4788 211px,#404688 221px,#440154 234px,#46075a 243px,#3c508b 255px,#33638d 263px,#44bf70 275px,#7fd34e 286px,#fde725 294px,#fde725 313px)"></i>
<i style="left:826.58px;width:6.06px;height:313px;background:linear-gradient(#26818e 0px,#29798e 4px,#404588 9px,#39558c 10px,#472d7b 11px,#46307e 12px,#440154 15px,#460a5d 38px,#2f6c8e 44px,#228c8d 52px,#2ab07f 67px,#27ad81 92px,#1f988b 114px,#2eb37c 145px,#23888e 152px,#3e4a89 160px,#482475 179px,#3b528b 188px,#28ae80 201px,#2cb17e 209px,#277f8e 221px,#440154 236px,#46075a 246px,#32658e 263px,#50c46a 274px,#5cc863 287px,#dae319 302px,#efe51c 313px)"></i>
<i style="left:832.14px;width:6.06px;height:313px;background:linear-gradient(#440154 0px,#440154 24px,#463480 26px,#375b8d 27px,#355f8d 28px,#24878e 30px,#25848e 56px,#3fbc73 82px,#28ae80 95px,#23888e 113px,#1f948c 133px,#28ae80 147px,#32648e 162px,#424186 173px,#46075a 184px,#481d6f 190px,#20928c 205px,#21a585 214px,#277e8e 222px,#3d4d8a 230px,#34608d 256px,#2a768e 263px,#65cb5e 274px,#7ad151 287px,#b2dd2d 295px,#bade28 313px)"></i>
<i style="left:837.70px;width:6.06px;height:313px;background:linear-gradient(#32658e 0px,#355e8d 14px,#481668 20px,#482576 22px,#440154 24px,#460a5d 36px,#228b8d 53px,#3bbb75 84px,#1e9c89 109px,#2cb17e 129px,#4ac16d 145px,#1e9b8a 152px,#365c8d 160px,#414287 187px,#2c738e 194px,#3bbb75 203px,#44bf70 210px,#20938c 218px,#453882 228px,#472c7a 235px,#2d708e 262px,#52c569 273px,#52c569 280px,#5ac864 287px,#a2da37 296px,#dde318 313px)"></i>
<i style="left:843.26px;width:6.06px;height:313px;background:linear-gradient(#3f4788 0px,#423f85 2px,#481668 4px,#450559 8px,#482677 11px,#470e61 14px,#3e4989 18px,#365d8d 19px,#2d718e 24px,#30698e 44px,#1fa187 66px,#24aa83 125px,#1fa088 147px,#38588c 159px,#31688e 167px,#2d718e 177px,#306a8e 188px,#20a386 201px,#20928c 212px,#424186 227px,#423f85 253px,#33628d 262px,#2db27d 272px,#2fb47c 277px,#22a785 285px,#90d743 298px,#cde11d 313px)"></i>
<i style="left:848.82px;width:6.06px;height:313px;background:linear-gradient(#2d718e 0px,#2d708e 29px,#3e4c8a 32px,#482979 34px,#440154 35px,#46075a 60px,#1f9a8a 79px,#5ec962 106px,#22a785 127px,#29af7f 148px,#2e6f8e 162px,#2b758e 178px,#31b57b 194px,#48c16e 201px,#1f958b 210px,#443983 222px,#46327e 229px,#2b748e 252px,#287c8e 263px,#2fb47c 274px,#34b679 285px,#aadc32 295px,#c5e021 313px)"></i>
<i style="left:854.38px;width:6.06px;height:313px;background:linear-gradient(#20928c 0px,#228c8d 42px,#2c718e 53px,#482979 57px,#22a884 75px,#52c569 109px,#22a785 133px,#1fa188 147px,#414287 161px,#481c6e 174px,#440154 181px,#450559 191px,#306a8e 202px,#31668e 209px,#3f4788 220px,#2d708e 230px,#24868e 238px,#404688 256px,#3b518b 262px,#2cb17e 274px,#44bf70 285px,#c5e021 295px,#fde725 313px)"></i>
<i style="left:859.94px;width:6.06px;height:313px;background:linear-gradient(#440154 0px,#450457 55px,#2f6c8e 67px,#1fa188 76px,#25ac82 98px,#32b67a 112px,#25ab82 128px,#2cb17e 144px,#228d8d 151px,#375a8c 159px,#2b748e 177px,#32658e 190px,#20a386 204px,#1f968b 212px,#433d84 227px,#365c8d 254px,#24868e 263px,#70cf57 273px,#5ac864 281px,#63cb5f 287px,#a2da37 295px,#c0df25 313px)"></i>
<i style="left:865.50px;width:6.06px;height:313px;background:linear-gradient(#440154 0px,#46085c 34px,#365c8d 38px,#2f6b8e 42px,#31668e 68px,#38598c 72px,#22a785 84px,#1fa088 112px,#22a884 126px,#4cc26c 143px,#2cb17e 149px,#33638d 160px,#365d8d 176px,#472d7b 190px,#31688e 206px,#365d8d 221px,#1f988b 232px,#27ad81 239px,#29798e 256px,#26818e 262px,#77d153 274px,#81d34d 286px,#c5e021 294px,#89d548 313px)"></i>
<i style="left:871.06px;width:6.06px;height:313px;background:linear-gradient(#440154 0px,#46075a 69px,#1f988b 87px,#1fa088 95px,#24aa83 142px,#1f948c 148px,#481a6c 159px,#460b5e 164px,#443b84 179px,#46307e 190px,#33638d 196px,#7cd250 206px,#cae11f 212px,#89d548 218px,#31678e 232px,#3e4c8a 241px,#34618d 254px,#25848e 263px,#5ac864 273px,#5ec962 286px,#b8de29 295px,#f6e620 313px)"></i>
<i style="left:876.62px;width:6.06px;height:313px;background:linear-gradient(#440154 0px,#46075a 42px,#414487 47px,#34618d 49px,#2c728e 57px,#287c8e 85px,#2db27d 121px,#20a386 148px,#3f4788 164px,#482979 182px,#3c4f8a 189px,#46c06f 202px,#73d056 210px,#1f968b 231px,#404688 248px,#3e4989 273px,#3fbc73 285px,#73d056 297px,#a5db36 313px)"></i>
<i style="left:882.18px;width:6.06px;height:313px;background:linear-gradient(#2e6f8e 0px,#31678e 32px,#38598c 42px,#27808e 55px,#20928c 82px,#21a585 98px,#1f998a 118px,#27ad81 135px,#218f8d 150px,#39558c 161px,#31688e 173px,#470e61 188px,#482677 194px,#21a585 207px,#a2da37 225px,#7ad151 231px,#3a538b 245px,#433d84 253px,#3f4788 270px,#31678e 274px,#67cc5c 283px,#b2dd2d 290px,#bddf26 313px)"></i>
<i style="left:887.74px;width:6.06px;height:313px;background:linear-gradient(#440154 0px,#450457 40px,#375b8d 52px,#228c8d 75px,#1f988b 118px,#2a768e 139px,#297a8e 151px,#450559 168px,#460a5d 204px,#23898e 219px,#31b57b 226px,#27ad81 231px,#3d4e8a 243px,#3f4889 251px,#3e4a89 260px,#482374 272px,#3c4f8a 276px,#42be71 284px,#77d153 291px,#a5db36 310px,#b5de2b 313px)"></i>
<i style="left:893.30px;width:6.06px;height:313px;background:linear-gradient(#287d8e 0px,#2b758e 2px,#424186 5px,#482878 8px,#471063 9px,#440154 17px,#440154 32px,#482878 34px,#3a538b 43px,#277f8e 50px,#29798e 63px,#25ac82 89px,#1f998a 107px,#1e9c89 122px,#297b8e 138px,#218f8d 151px,#365d8d 167px,#31678e 180px,#433e85 193px,#424186 208px,#3f4889 216px,#228d8d 229px,#287d8e 246px,#2b748e 255px,#471164 265px,#440154 269px,#440154 276px,#472a7a 278px,#22a785 284px,#4ec36b 289px,#86d549 301px,#93d741 313px)"></i>
<i style="left:898.86px;width:6.06px;height:313px;background:linear-gradient(#440154 0px,#440154 17px,#38598c 19px,#1f968b 22px,#1f968b 30px,#29798e 41px,#20a386 54px,#27ad81 76px,#2a778e 103px,#26828e 125px,#287c8e 138px,#1f998a 151px,#2e6f8e 164px,#443983 178px,#440154 184px,#440154 224px,#2d708e 232px,#218f8d 239px,#26818e 248px,#481f70 267px,#471164 272px,#404688 276px,#52c569 284px,#98d83e 291px,#86d549 313px)"></i>
<i style="left:904.42px;width:6.06px;height:313px;background:linear-gradient(#440154 0px,#440154 25px,#481d6f 27px,#481f70 32px,#48186a 35px,#482878 36px,#482677 40px,#24868e 51px,#52c569 71px,#34b679 85px,#24868e 105px,#228c8d 138px,#297a8e 156px,#25838e 170px,#3f4889 180px,#440154 187px,#440154 215px,#297b8e 225px,#23888e 231px,#3f4788 247px,#440154 255px,#450559 274px,#26ad81 280px,#9dd93b 284px,#cde11d 291px,#81d34d 308px,#93d741 313px)"></i>
<i style="left:909.98px;width:6.06px;height:313px;background:linear-gradient(#450457 0px,#440154 1px,#472d7b 4px,#27808e 9px,#277f8e 32px,#2a778e 41px,#22a884 53px,#23a983 89px,#23888e 111px,#277f8e 144px,#27808e 154px,#26828e 161px,#1fa188 170px,#27808e 177px,#440154 189px,#440154 213px,#20938c 222px,#32b67a 228px,#1fa187 237px,#21908d 247px,#20928c 258px,#34618d 265px,#470d60 272px,#482374 275px,#52c569 284px,#86d549 289px,#c0df25 313px)"></i>
<i style="left:915.54px;width:6.06px;height:313px;background:linear-gradient(#440154 0px,#460b5e 3px,#31678e 7px,#33628d 33px,#404588 41px,#1e9b8a 51px,#1fa188 59px,#24878e 78px,#25ab82 113px,#29798e 142px,#27808e 152px,#471063 170px,#46085c 182px,#443983 206px,#31688e 218px,#414487 227px,#463480 233px,#365d8d 238px,#c0df25 249px,#fde725 253px,#efe51c 257px,#46c06f 263px,#375a8c 271px,#39568c 274px,#1f968b 279px,#77d153 284px,#9bd93c 291px,#b8de29 313px)"></i>
<i style="left:921.10px;width:6.06px;height:313px;background:linear-gradient(#440154 0px,#460b5e 28px,#440154 29px,#453882 38px,#218e8d 45px,#3dbc74 50px,#56c667 56px,#1e9c89 80px,#20928c 102px,#27ad81 128px,#26828e 145px,#277e8e 154px,#481a6c 171px,#440154 212px,#472f7d 232px,#20a386 260px,#1fa287 275px,#aadc32 286px,#a2da37 305px,#7cd250 313px)"></i>
<i style="left:926.66px;width:6.06px;height:313px;background:linear-gradient(#440154 0px,#440256 34px,#472c7a 37px,#38588c 41px,#24aa83 48px,#44bf70 54px,#34b679 78px,#2fb47c 89px,#21918c 107px,#25ac82 132px,#20938c 153px,#32658e 159px,#440154 166px,#470e61 177px,#470e61 184px,#440154 194px,#460b5e 224px,#404688 233px,#23a983 245px,#25ab82 251px,#33628d 266px,#355f8d 272px,#1f988b 278px,#84d44b 284px,#a5db36 295px,#89d548 313px)"></i>
<i style="left:932.22px;width:6.06px;height:313px;background:linear-gradient(#463480 0px,#33638d 3px,#27808e 7px,#287c8e 30px,#355e8d 33px,#482677 37px,#463480 41px,#24aa83 50px,#52c569 56px,#65cb5e 70px,#20a486 99px,#1f958b 111px,#24aa83 128px,#228c8d 146px,#277f8e 154px,#472c7a 163px,#440154 167px,#440256 176px,#2b758e 188px,#2c718e 194px,#482878 201px,#440154 204px,#46075a 221px,#453882 228px,#3e4a89 241px,#31678e 250px,#3e4a89 256px,#450457 261px,#450457 278px,#1e9d89 283px,#4ac16d 286px,#95d840 300px,#5ec962 313px)"></i>
<i style="left:937.78px;width:6.06px;height:313px;background:linear-gradient(#440154 0px,#46075a 29px,#460b5e 31px,#472f7d 33px,#3d4e8a 37px,#23888e 44px,#37b878 51px,#2ab07f 69px,#1f998a 83px,#25ac82 114px,#31b57b 127px,#23898e 142px,#23888e 154px,#433e85 165px,#482374 171px,#3f4788 179px,#25838e 191px,#24868e 200px,#3b528b 214px,#306a8e 228px,#39558c 240px,#287d8e 253px,#32648e 259px,#440154 266px,#460a5d 277px,#24aa83 283px,#5ac864 286px,#77d153 305px,#6ece58 313px)"></i>
<i style="left:943.34px;width:6.06px;height:313px;background:linear-gradient(#31668e 0px,#375b8d 5px,#482979 8px,#482878 10px,#481f70 11px,#463480 14px,#46337f 15px,#440256 17px,#450457 36px,#375b8d 42px,#28ae80 48px,#63cb5f 54px,#46c06f 68px,#21908d 81px,#1fa187 96px,#58c765 117px,#7ad151 127px,#21908d 144px,#24878e 157px,#355e8d 163px,#440154 168px,#440154 219px,#365c8d 228px,#23898e 246px,#31688e 252px,#450559 258px,#460b5e 276px,#1e9d89 281px,#60ca60 284px,#84d44b 288px,#67cc5c 313px)"></i>
<i style="left:948.90px;width:6.06px;height:313px;background:linear-gradient(#440154 0px,#440154 7px,#46307e 9px,#2e6d8e 11px,#25858e 14px,#287d8e 32px,#2c718e 40px,#3fbc73 52px,#2fb47c 70px,#1fa088 81px,#42be71 129px,#218f8d 148px,#29798e 155px,#481f70 163px,#440154 165px,#460b5e 212px,#375b8d 222px,#3c4f8a 227px,#440154 234px,#440154 277px,#1e9d89 282px,#5ec962 285px,#89d548 297px,#54c568 313px)"></i>
<i style="left:954.46px;width:6.06px;height:313px;background:linear-gradient(#440154 0px,#46085c 35px,#443b84 39px,#37b878 48px,#6ccd5a 53px,#26828e 78px,#21a685 97px,#24aa83 113px,#46c06f 129px,#20938c 149px,#2c728e 156px,#440154 166px,#450559 200px,#39558c 211px,#355e8d 222px,#472d7b 233px,#440154 238px,#440154 268px,#3b518b 273px,#69cd5b 281px,#c8e020 286px,#93d741 313px)"></i>
<i style="left:960.02px;width:6.06px;height:313px;background:linear-gradient(#277f8e 0px,#2b758e 19px,#2f6b8e 22px,#2b748e 26px,#297b8e 31px,#297a8e 39px,#7ad151 50px,#8bd646 55px,#2db27d 80px,#21a585 93px,#20938c 105px,#37b878 125px,#277e8e 152px,#440154 164px,#440154 199px,#297b8e 209px,#218f8d 216px,#2a788e 226px,#482878 234px,#440154 237px,#46075a 261px,#31668e 271px,#93d741 285px,#95d840 307px,#addc30 313px)"></i>
<i style="left:965.58px;width:6.06px;height:313px;background:linear-gradient(#471063 0px,#472f7d 2px,#471365 5px,#481769 7px,#450559 8px,#440154 34px,#3a538b 40px,#54c568 48px,#93d741 54px,#5cc863 73px,#1e9d89 106px,#26ad81 131px,#277e8e 152px,#463480 158px,#440154 161px,#450457 199px,#24aa83 218px,#2db27d 225px,#375a8c 240px,#31678e 248px,#24868e 258px,#26818e 272px,#46c06f 279px,#c8e020 285px,#98d83e 309px,#aadc32 313px)"></i>
<i style="left:971.14px;width:6.06px;height:313px;background:linear-gradient(#440154 0px,#450559 1px,#453781 2px,#2d718e 3px,#24878e 4px,#218f8d 19px,#24868e 31px,#2c728e 39px,#1f948c 44px,#70cf57 51px,#7cd250 58px,#4ec36b 70px,#1fa187 82px,#2db27d 113px,#2eb37c 126px,#28ae80 137px,#2a778e 153px,#453781 162px,#3f4788 168px,#2b758e 177px,#33638d 194px,#453581 208px,#3c4f8a 221px,#472c7a 226px,#440154 229px,#440154 249px,#39568c 255px,#365c8d 260px,#440154 271px,#481a6c 274px,#3fbc73 283px,#6ccd5a 286px,#52c569 300px,#a8db34 313px)"></i>
<i style="left:976.70px;width:6.06px;height:313px;background:linear-gradient(#440154 0px,#482475 3px,#2c728e 7px,#26828e 12px,#287d8e 30px,#365d8d 39px,#287c8e 44px,#40bd72 51px,#52c569 58px,#37b878 71px,#1f9e89 84px,#1fa188 113px,#1fa287 129px,#31678e 145px,#355f8d 152px,#440154 161px,#450559 168px,#1f978b 181px,#29af7f 188px,#1f988b 194px,#440154 207px,#460a5d 225px,#46307e 253px,#482374 272px,#375a8c 276px,#5cc863 283px,#93d741 286px,#70cf57 304px,#addc30 313px)"></i>
<i style="left:982.26px;width:6.06px;height:313px;background:linear-gradient(#29798e 0px,#2c728e 17px,#306a8e 18px,#2d708e 20px,#414487 23px,#3a548c 25px,#404588 26px,#375b8d 32px,#3b518b 35px,#33628d 40px,#1f988b 46px,#60ca60 52px,#7fd34e 68px,#20a486 84px,#20a386 96px,#35b779 111px,#22a884 131px,#287d8e 145px,#2c728e 152px,#440154 162px,#470e61 176px,#440256 208px,#365d8d 217px,#2f6b8e 228px,#20928c 246px,#2e6f8e 253px,#440154 262px,#440154 275px,#23a983 282px,#5cc863 285px,#3fbc73 301px,#95d840 313px)"></i>
<i style="left:987.82px;width:6.06px;height:313px;background:linear-gradient(#2c738e 0px,#287d8e 2px,#2d718e 4px,#25848e 6px,#25838e 31px,#2e6d8e 40px,#20928c 46px,#54c568 53px,#b5de2b 68px,#35b779 90px,#4ac16d 115px,#63cb5f 127px,#277f8e 143px,#2c738e 152px,#440154 162px,#450559 219px,#1f968b 233px,#22a785 239px,#25838e 247px,#440154 261px,#440154 275px,#3d4d8a 278px,#31b57b 283px,#69cd5b 286px,#7cd250 310px,#8ed645 313px)"></i>
<i style="left:993.38px;width:6.06px;height:313px;background:linear-gradient(#440154 0px,#46075a 10px,#472c7a 14px,#472d7b 16px,#3e4a89 19px,#3e4a89 22px,#482576 25px,#433d84 29px,#423f85 31px,#472d7b 32px,#472d7b 33px,#471365 35px,#443b84 40px,#27ad81 49px,#4ec36b 54px,#50c46a 75px,#20a386 102px,#3fbc73 128px,#25838e 148px,#2e6f8e 153px,#440154 161px,#440154 170px,#32648e 179px,#2d708e 186px,#481467 206px,#440154 231px,#460b5e 242px,#472d7b 251px,#440154 261px,#440154 273px,#3e4a89 276px,#50c46a 282px,#98d83e 285px,#54c568 308px,#60ca60 313px)"></i>
<i style="left:998.94px;width:6.06px;height:313px;background:linear-gradient(#31678e 0px,#33628d 23px,#3c4f8a 24px,#472a7a 29px,#453781 31px,#472e7c 35px,#453781 39px,#2ab07f 49px,#4ec36b 55px,#5ec962 71px,#22a785 91px,#50c46a 128px,#1f958b 139px,#39558c 152px,#440154 157px,#450457 189px,#482475 196px,#440154 207px,#460a5d 237px,#481769 245px,#440154 252px,#440154 273px,#2fb47c 281px,#8ed645 285px,#77d153 305px,#89d548 313px)"></i>
<i style="left:1004.50px;width:6.06px;height:313px;background:linear-gradient(#38588c 0px,#32648e 5px,#2b758e 8px,#2e6e8e 31px,#3d4d8a 39px,#30698e 44px,#3aba76 52px,#7ad151 66px,#26ad81 84px,#25ab82 111px,#24868e 135px,#25838e 151px,#39558c 156px,#440154 161px,#460a5d 191px,#481d6f 201px,#450457 214px,#481d6f 229px,#481668 241px,#414287 254px,#440154 272px,#433d84 276px,#42be71 283px,#7cd250 286px,#86d549 313px)"></i>
<i style="left:1010.06px;width:6.06px;height:313px;background:linear-gradient(#39568c 0px,#450457 3px,#46085c 38px,#306a8e 45px,#20a386 51px,#48c16e 68px,#26ad81 83px,#23a983 118px,#277f8e 140px,#25858e 151px,#3b528b 157px,#450559 162px,#450457 192px,#481f70 200px,#440154 213px,#450559 272px,#31678e 277px,#67cc5c 283px,#a5db36 286px,#c2df23 313px)"></i>
<i style="left:1015.62px;width:6.06px;height:313px;background:linear-gradient(#2b748e 0px,#2e6f8e 30px,#3f4889 39px,#33638d 44px,#25ab82 52px,#3dbc74 69px,#2fb47c 82px,#31b57b 115px,#2d718e 141px,#2c738e 152px,#482677 159px,#440154 162px,#46085c 177px,#2d718e 190px,#2e6d8e 196px,#440154 209px,#450559 250px,#472a7a 255px,#440154 266px,#440154 273px,#2c718e 278px,#65cb5e 283px,#a8db34 286px,#e5e419 311px,#dfe318 313px)"></i>
<i style="left:1021.18px;width:6.06px;height:313px;background:linear-gradient(#440154 0px,#46075a 39px,#1f958b 49px,#23a983 54px,#32b67a 100px,#3aba76 116px,#1e9b8a 131px,#27808e 142px,#23898e 152px,#481668 167px,#440154 206px,#46085c 266px,#482173 272px,#33638d 276px,#95d840 283px,#e7e419 287px,#f8e621 301px,#a8db34 313px)"></i>
<i style="left:1026.74px;width:6.06px;height:313px;background:linear-gradient(#238a8d 0px,#23888e 12px,#30698e 15px,#29798e 16px,#34618d 17px,#355e8d 18px,#453781 19px,#3f4788 21px,#443b84 23px,#3b518b 24px,#46337f 25px,#3c508b 27px,#404588 28px,#3b518b 29px,#482071 35px,#414287 40px,#34b679 48px,#70cf57 53px,#32b67a 75px,#1f9a8a 99px,#3fbc73 118px,#25ab82 130px,#238a8d 142px,#228c8d 152px,#460a5d 167px,#460a5d 272px,#355e8d 276px,#6ece58 282px,#d0e11c 286px,#8bd646 313px)"></i>
<i style="left:1032.30px;width:6.06px;height:313px;background:linear-gradient(#2c728e 0px,#2e6d8e 30px,#3e4a89 37px,#375b8d 41px,#52c569 51px,#60ca60 57px,#21a685 79px,#31b57b 116px,#1f988b 146px,#218f8d 153px,#433e85 164px,#3e4989 170px,#375b8d 178px,#482475 195px,#472d7b 216px,#440154 226px,#46085c 248px,#355e8d 254px,#2e6d8e 259px,#443983 268px,#481c6e 272px,#453781 275px,#63cb5f 284px,#86d549 288px,#7cd250 311px,#7ad151 313px)"></i>
<i style="left:1037.86px;width:6.06px;height:313px;background:linear-gradient(#238a8d 0px,#25848e 30px,#31688e 39px,#238a8d 44px,#8ed645 52px,#9dd93b 60px,#3dbc74 77px,#40bd72 91px,#2ab07f 110px,#2db27d 145px,#25ab82 153px,#424086 166px,#424186 175px,#38588c 195px,#2c738e 206px,#3e4989 213px,#440154 220px,#460b5e 232px,#33628d 245px,#2e6f8e 257px,#3e4c8a 272px,#2d708e 276px,#89d548 284px,#addc30 290px,#f6e620 308px,#e5e419 313px)"></i>
<i style="left:1043.42px;width:6.06px;height:313px;background:linear-gradient(#440154 0px,#46075a 14px,#481b6d 17px,#424186 18px,#414287 19px,#365d8d 20px,#34618d 23px,#2b748e 24px,#2c738e 25px,#21918c 27px,#23888e 32px,#2e6d8e 39px,#238a8d 44px,#86d549 52px,#9dd93b 62px,#38b977 79px,#3aba76 94px,#2eb37c 108px,#37b878 130px,#1e9b8a 146px,#20928c 154px,#3b528b 163px,#440154 170px,#46085c 198px,#463480 208px,#471164 217px,#440154 223px,#440154 276px,#2db27d 282px,#90d743 285px,#d8e219 296px,#7cd250 313px)"></i>
<i style="left:1048.98px;width:6.06px;height:313px;background:linear-gradient(#482071 0px,#3f4788 1px,#365d8d 3px,#355f8d 5px,#277f8e 7px,#287d8e 32px,#2d708e 40px,#1e9c89 46px,#65cb5e 53px,#8ed645 70px,#1e9d89 99px,#32b67a 126px,#26818e 145px,#2a778e 152px,#440154 163px,#460b5e 208px,#482374 214px,#440154 221px,#460a5d 250px,#481467 256px,#440154 263px,#440154 276px,#2c718e 280px,#48c16e 284px,#7fd34e 288px,#c0df25 302px,#a8db34 313px)"></i>
<i style="left:1054.54px;width:6.06px;height:313px;background:linear-gradient(#24868e 0px,#2b748e 5px,#38598c 7px,#34608d 10px,#443a83 12px,#472a7a 17px,#471063 19px,#482173 23px,#404588 28px,#46337f 29px,#423f85 32px,#3b528b 33px,#2f6c8e 39px,#23888e 44px,#7ad151 52px,#b5de2b 68px,#23a983 96px,#20a486 114px,#21a685 129px,#21908d 144px,#238a8d 152px,#3c4f8a 158px,#440154 163px,#440154 201px,#3e4989 209px,#414487 215px,#440154 223px,#46085c 242px,#481668 250px,#440154 258px,#440154 277px,#20a486 282px,#75d054 285px,#b8de29 296px,#9dd93b 313px)"></i>
<i style="left:1060.10px;width:6.06px;height:313px;background:linear-gradient(#1f978b 0px,#21918c 30px,#2c718e 39px,#21908d 44px,#8bd646 52px,#93d741 66px,#42be71 81px,#48c16e 99px,#1e9b8a 115px,#21a685 135px,#1f9f88 152px,#414287 166px,#482979 176px,#440154 181px,#46075a 241px,#3c508b 251px,#424186 258px,#440154 266px,#450457 275px,#32b67a 283px,#6ccd5a 286px,#84d44b 313px)"></i>
<i style="left:1065.66px;width:6.06px;height:313px;background:linear-gradient(#32648e 0px,#2d708e 7px,#31688e 32px,#31678e 38px,#20938c 43px,#86d549 49px,#bade28 54px,#27ad81 85px,#23a983 118px,#3bbb75 131px,#23888e 152px,#440154 165px,#46085c 248px,#472e7c 255px,#440154 265px,#440154 277px,#463480 279px,#21a685 284px,#38b977 287px,#84d44b 309px,#86d549 313px)"></i>
<i style="left:1071.22px;width:6.06px;height:313px;background:linear-gradient(#2e6f8e 0px,#2e6e8e 37px,#1fa088 43px,#86d549 49px,#aadc32 54px,#60ca60 71px,#25ac82 83px,#31b57b 96px,#6ccd5a 112px,#58c765 130px,#1f958b 146px,#25838e 153px,#46337f 160px,#440154 163px,#440154 274px,#5ac864 283px,#a0da39 286px,#b2dd2d 308px,#a8db34 313px)"></i>
<i style="left:1076.78px;width:6.06px;height:313px;background:linear-gradient(#21908d 0px,#23888e 17px,#30698e 19px,#414287 20px,#440154 23px,#46085c 36px,#33628d 42px,#2fb47c 48px,#70cf57 54px,#98d83e 68px,#24aa83 83px,#26ad81 98px,#3aba76 117px,#2cb17e 133px,#27808e 152px,#482979 159px,#440154 161px,#450559 259px,#424086 272px,#23888e 277px,#a0da39 283px,#dde318 287px,#dae319 313px)"></i>
<i style="left:1082.34px;width:6.06px;height:313px;background:linear-gradient(#287c8e 0px,#2b748e 32px,#2c738e 39px,#6ece58 50px,#81d34d 56px,#7fd34e 70px,#28ae80 84px,#3dbc74 101px,#3fbc73 118px,#1f9f88 151px,#2a788e 156px,#450457 162px,#46085c 220px,#423f85 231px,#482071 239px,#440154 244px,#460b5e 271px,#3e4989 275px,#75d054 283px,#addc30 286px,#b5de2b 304px,#ece51b 313px)"></i>
<i style="left:1087.90px;width:6.06px;height:313px;background:linear-gradient(#25858e 0px,#277e8e 31px,#31678e 39px,#228d8d 45px,#4ec36b 52px,#93d741 69px,#58c765 83px,#3bbb75 103px,#27808e 140px,#218f8d 151px,#31688e 156px,#440154 161px,#450559 272px,#31668e 277px,#60ca60 283px,#98d83e 286px,#60ca60 313px)"></i>
<i style="left:1093.46px;width:6.06px;height:313px;background:linear-gradient(#21908d 0px,#23898e 18px,#2b748e 21px,#25838e 22px,#218e8d 28px,#2c718e 39px,#1f948c 44px,#7fd34e 51px,#8bd646 57px,#46c06f 72px,#31b57b 81px,#5ac864 99px,#20928c 128px,#287d8e 140px,#218e8d 152px,#365d8d 158px,#440154 164px,#460a5d 229px,#481d6f 238px,#440154 247px,#460a5d 276px,#23a983 282px,#6ccd5a 285px,#8ed645 301px,#7ad151 313px)"></i>
<i style="left:1099.02px;width:6.06px;height:313px;background:linear-gradient(#32648e 0px,#365c8d 32px,#3a548c 38px,#277e8e 43px,#73d056 50px,#b0dd2f 55px,#98d83e 69px,#40bd72 81px,#23a983 125px,#1e9d89 147px,#1f958b 153px,#39558c 160px,#440154 166px,#440154 273px,#4ac16d 284px,#60ca60 287px,#3dbc74 312px,#3fbc73 313px)"></i>
<i style="left:1104.58px;width:6.06px;height:313px;background:linear-gradient(#21918c 0px,#238a8d 30px,#31678e 39px,#25848e 44px,#58c765 51px,#6ece58 57px,#48c16e 71px,#26ad81 82px,#37b878 116px,#1e9c89 132px,#297b8e 145px,#2b758e 152px,#440154 163px,#450457 201px,#48186a 207px,#440154 215px,#440154 276px,#472f7d 278px,#21a585 283px,#4cc26c 286px,#a8db34 313px)"></i>
<i style="left:1110.14px;width:6.06px;height:313px;background:linear-gradient(#20928c 0px,#228d8d 30px,#306a8e 39px,#277f8e 44px,#3dbc74 52px,#50c46a 69px,#25ab82 81px,#3bbb75 106px,#1f988b 130px,#3c4f8a 147px,#453882 152px,#450457 155px,#460a5d 174px,#460b5e 179px,#460a5d 230px,#46075a 275px,#42be71 283px,#7fd34e 286px,#8bd646 313px)"></i>
<i style="left:1115.70px;width:6.06px;height:313px;background:linear-gradient(#39558c 0px,#3f4788 4px,#443983 8px,#470e61 10px,#482173 12px,#46075a 14px,#481d6f 16px,#481769 18px,#472d7b 20px,#470e61 22px,#482576 26px,#481f70 27px,#414487 29px,#38588c 32px,#3a548c 37px,#34618d 42px,#40bd72 51px,#58c765 57px,#37b878 72px,#20a386 86px,#21a585 115px,#218e8d 134px,#2a768e 151px,#453581 156px,#46075a 158px,#460a5d 236px,#3a538b 258px,#472f7d 267px,#471063 272px,#433e85 276px,#4ac16d 284px,#5ec962 287px,#56c667 300px,#98d83e 313px)"></i>
<i style="left:1121.26px;width:6.06px;height:313px;background:linear-gradient(#1f998a 0px,#27ad81 30px,#26ad81 45px,#81d34d 60px,#1f978b 78px,#238a8d 120px,#25848e 126px,#404688 134px,#440154 139px,#46075a 201px,#404588 210px,#463480 217px,#440154 225px,#460a5d 237px,#34608d 251px,#3b528b 258px,#440154 266px,#440154 276px,#2ab07f 284px,#42be71 287px,#58c765 300px,#bade28 313px)"></i>
<i style="left:1126.82px;width:6.06px;height:313px;background:linear-gradient(#1e9c89 0px,#1e9d89 15px,#25ac82 29px,#1f978b 47px,#40bd72 62px,#24878e 108px,#21908d 123px,#375b8d 131px,#440256 137px,#440256 198px,#3d4d8a 204px,#3c4f8a 209px,#440256 215px,#440154 277px,#22a884 284px,#38b977 287px,#93d741 313px)"></i>
<i style="left:1132.38px;width:6.06px;height:313px;background:linear-gradient(#1e9b8a 0px,#218f8d 31px,#218f8d 43px,#5ac864 60px,#1f988b 86px,#1f998a 115px,#1f968b 122px,#33628d 130px,#440256 136px,#460b5e 200px,#482475 205px,#440154 211px,#450457 264px,#3c508b 274px,#6ccd5a 284px,#86d549 289px,#95d840 313px)"></i>
<i style="left:1137.94px;width:6.06px;height:313px;background:linear-gradient(#25ab82 0px,#1f9e89 15px,#26828e 44px,#2cb17e 61px,#1f968b 77px,#228b8d 102px,#21a585 118px,#27808e 124px,#440256 131px,#440154 191px,#443a83 197px,#463480 203px,#440154 209px,#460a5d 264px,#482475 273px,#2e6d8e 278px,#4cc26c 284px,#5ac864 288px,#3aba76 305px,#58c765 313px)"></i>
<i style="left:1143.50px;width:6.06px;height:313px;background:linear-gradient(#2cb17e 0px,#2b758e 43px,#1f988b 60px,#27808e 74px,#1e9b8a 93px,#1f9e89 116px,#33628d 124px,#440154 132px,#440256 185px,#443a83 194px,#482475 200px,#440154 204px,#460b5e 225px,#482576 231px,#440154 239px,#460a5d 267px,#472f7d 273px,#5cc863 283px,#8bd646 286px,#52c569 309px,#5ac864 313px)"></i>
<i style="left:1149.06px;width:6.06px;height:313px;background:linear-gradient(#25ab82 0px,#1f988b 16px,#2a788e 38px,#24878e 51px,#27ad81 63px,#25ac82 85px,#1f968b 102px,#1f978b 113px,#33628d 120px,#440154 127px,#460b5e 187px,#463480 195px,#471365 203px,#440154 210px,#46075a 215px,#38598c 225px,#3d4e8a 231px,#440154 239px,#440154 272px,#31688e 277px,#65cb5e 283px,#a0da39 287px,#69cd5b 308px,#5ec962 313px)"></i>
<i style="left:1154.62px;width:6.06px;height:313px;background:linear-gradient(#27ad81 0px,#32b67a 11px,#287c8e 32px,#32648e 43px,#23888e 53px,#20a486 61px,#1f948c 76px,#1e9c89 99px,#1f968b 111px,#355f8d 118px,#440256 124px,#46085c 177px,#3e4989 190px,#453882 199px,#470d60 211px,#440154 258px,#440154 277px,#1fa088 282px,#65cb5e 285px,#c0df25 300px,#90d743 313px)"></i>
<i style="left:1160.18px;width:6.06px;height:313px;background:linear-gradient(#4ac16d 0px,#5ac864 12px,#287d8e 43px,#23888e 55px,#228d8d 66px,#1f998a 96px,#1f9f88 108px,#2e6f8e 115px,#440256 123px,#46075a 155px,#3c508b 170px,#472f7d 189px,#440154 196px,#460b5e 249px,#481668 258px,#440154 265px,#440154 274px,#3aba76 282px,#84d44b 285px,#6ccd5a 308px,#7ad151 313px)"></i>
<i style="left:1165.74px;width:6.06px;height:313px;background:linear-gradient(#54c568 0px,#20938c 29px,#1f9f88 47px,#50c46a 60px,#1f9a8a 77px,#23a983 105px,#277f8e 111px,#460a5d 118px,#450559 134px,#1e9d89 154px,#1f9a8a 160px,#34608d 173px,#433d84 186px,#440154 194px,#440154 277px,#1fa187 282px,#63cb5f 285px,#98d83e 313px)"></i>
<i style="left:1171.30px;width:6.06px;height:313px;background:linear-gradient(#2fb47c 0px,#3bbb75 38px,#40bd72 54px,#3aba76 64px,#1f9e89 77px,#20928c 104px,#365d8d 111px,#440154 119px,#440256 147px,#39568c 155px,#375a8c 162px,#440154 179px,#450457 277px,#21918c 281px,#56c667 284px,#8bd646 288px,#a5db36 313px)"></i>
<i style="left:1176.86px;width:6.06px;height:313px;background:linear-gradient(#1f9a8a 0px,#2ab07f 29px,#1f9e89 50px,#2eb37c 64px,#21a585 87px,#23a983 105px,#2a778e 116px,#3e4c8a 125px,#440154 139px,#440256 184px,#472e7c 192px,#471164 198px,#440154 203px,#450457 228px,#472e7c 234px,#460b5e 239px,#440154 260px,#440154 277px,#20928c 281px,#5ac864 284px,#8ed645 288px,#7fd34e 309px,#75d054 313px)"></i>
<i style="left:1182.42px;width:6.06px;height:313px;background:linear-gradient(#26828e 0px,#20938c 17px,#1fa187 33px,#1f958b 50px,#32b67a 65px,#1fa187 96px,#25848e 116px,#440256 130px,#450559 140px,#355f8d 151px,#3b518b 156px,#440154 162px,#440154 275px,#2ab07f 282px,#73d056 285px,#8bd646 313px)"></i>
<i style="left:1187.98px;width:6.06px;height:313px;background:linear-gradient(#297b8e 0px,#25ab82 19px,#32b67a 44px,#42be71 62px,#20a386 79px,#1fa188 95px,#277f8e 101px,#482475 111px,#481668 119px,#450559 132px,#46075a 147px,#481d6f 156px,#440154 163px,#440256 186px,#453581 193px,#482475 199px,#440154 203px,#46075a 237px,#482374 246px,#460b5e 258px,#440154 277px,#471164 278px,#1e9d89 283px,#40bd72 286px,#6ece58 310px,#65cb5e 313px)"></i>
<i style="left:1193.54px;width:6.06px;height:313px;background:linear-gradient(#1f998a 0px,#1fa187 38px,#32b67a 55px,#218e8d 76px,#2ab07f 97px,#1f948c 104px,#3e4a89 110px,#440154 114px,#460a5d 137px,#470e61 162px,#440154 177px,#470e61 185px,#472d7b 193px,#440154 204px,#450559 253px,#481668 260px,#440154 270px,#450457 272px,#365d8d 276px,#73d056 282px,#d2e21b 286px,#b5de2b 301px,#8ed645 313px)"></i>
<i style="left:1199.10px;width:6.06px;height:313px;background:linear-gradient(#1fa088 0px,#21a685 17px,#21918c 33px,#40bd72 59px,#1f948c 78px,#20a386 96px,#1f9a8a 117px,#433e85 135px,#440154 142px,#460a5d 183px,#471063 192px,#440154 200px,#440154 240px,#2c738e 249px,#287d8e 254px,#3d4e8a 260px,#440154 265px,#460b5e 276px,#25ab82 282px,#6ece58 285px,#73d056 296px,#5ac864 313px)"></i>
<i style="left:1204.66px;width:6.06px;height:313px;background:linear-gradient(#1f9f88 0px,#1f968b 17px,#37b878 56px,#25838e 75px,#228d8d 91px,#33628d 101px,#2a768e 107px,#1fa088 114px,#20938c 119px,#3e4a89 125px,#440154 129px,#440154 168px,#46327e 175px,#470d60 193px,#440154 231px,#470d60 254px,#481769 272px,#2f6b8e 277px,#58c765 283px,#8bd646 286px,#5ec962 313px)"></i>
<i style="left:1210.22px;width:6.06px;height:313px;background:linear-gradient(#1fa187 0px,#21a685 41px,#25ab82 59px,#218e8d 74px,#21908d 88px,#34608d 93px,#440154 98px,#450457 131px,#433e85 137px,#472e7c 142px,#440154 147px,#440154 180px,#3d4d8a 189px,#375a8c 201px,#481769 216px,#440154 223px,#450457 258px,#365d8d 265px,#27808e 274px,#a0da39 284px,#addc30 292px,#7cd250 313px)"></i>
<i style="left:1215.78px;width:6.06px;height:313px;background:linear-gradient(#21908d 0px,#21a585 21px,#40bd72 40px,#1f998a 76px,#20928c 86px,#32648e 91px,#440256 96px,#440256 271px,#443b84 275px,#52c569 283px,#8bd646 286px,#77d153 313px)"></i>
<i style="left:1221.34px;width:6.06px;height:313px;background:linear-gradient(#20928c 0px,#28ae80 31px,#1f998a 50px,#1e9d89 67px,#1f978b 85px,#3e4989 99px,#39568c 113px,#481c6e 121px,#440154 124px,#440154 276px,#21a685 282px,#63cb5f 285px,#c0df25 313px)"></i>
</div>
<svg width="1502" height="1809" viewBox="0 0 1502 1809">
<defs>
<clipPath id="ca"><rect x="121.8" y="13.6" width="1221.4" height="312.3"/></clipPath>
<clipPath id="cb"><rect x="121.8" y="555.6" width="1221.4" height="312.3"/></clipPath>
<linearGradient id="vg" x1="0" x2="1" y1="0" y2="0"><stop offset="0.0000" stop-color="#440154"/><stop offset="0.0312" stop-color="#470d60"/><stop offset="0.0625" stop-color="#48186a"/><stop offset="0.0938" stop-color="#482374"/><stop offset="0.1250" stop-color="#472d7b"/><stop offset="0.1562" stop-color="#453781"/><stop offset="0.1875" stop-color="#424086"/><stop offset="0.2188" stop-color="#3e4989"/><stop offset="0.2500" stop-color="#3b528b"/><stop offset="0.2812" stop-color="#375b8d"/><stop offset="0.3125" stop-color="#33638d"/><stop offset="0.3438" stop-color="#2f6b8e"/><stop offset="0.3750" stop-color="#2c728e"/><stop offset="0.4062" stop-color="#297a8e"/><stop offset="0.4375" stop-color="#26828e"/><stop offset="0.4688" stop-color="#23898e"/><stop offset="0.5000" stop-color="#21918c"/><stop offset="0.5312" stop-color="#1f988b"/><stop offset="0.5625" stop-color="#1fa088"/><stop offset="0.5938" stop-color="#22a785"/><stop offset="0.6250" stop-color="#28ae80"/><stop offset="0.6562" stop-color="#32b67a"/><stop offset="0.6875" stop-color="#3fbc73"/><stop offset="0.7188" stop-color="#4ec36b"/><stop offset="0.7500" stop-color="#5ec962"/><stop offset="0.7812" stop-color="#70cf57"/><stop offset="0.8125" stop-color="#84d44b"/><stop offset="0.8438" stop-color="#98d83e"/><stop offset="0.8750" stop-color="#addc30"/><stop offset="0.9062" stop-color="#c2df23"/><stop offset="0.9375" stop-color="#d8e219"/><stop offset="0.9688" stop-color="#ece51b"/><stop offset="1.0000" stop-color="#fde725"/></linearGradient>
</defs>
<g clip-path="url(#ca)">
<rect x="164.3" y="13.6" width="8.0" height="312.3" fill="#d3d3d3" fill-opacity="0.6"/>
<rect x="218.2" y="13.6" width="85.9" height="312.3" fill="#d3d3d3" fill-opacity="0.6"/>
<rect x="1243.8" y="13.6" width="100.4" height="312.3" fill="#d3d3d3" fill-opacity="0.6"/>
</g>
<g clip-path="url(#ca)"><polyline points="120.4,228.0 136.3,205.7 152.2,215.0 168.1,224.7 184.0,229.0 199.9,247.0 215.8,286.3 231.7,335.0 247.7,289.3 263.6,244.7 279.5,234.7 295.4,223.0 311.3,213.0 327.2,192.4 343.1,177.4 359.0,179.1 374.9,189.8 390.9,184.8 406.8,168.1 422.7,174.1 438.6,179.8 454.5,181.4 470.4,172.1 486.3,173.8 502.2,182.4 518.2,189.1 534.1,200.4 550.0,207.1 565.9,203.1" fill="none" stroke="#000" stroke-width="6.2" stroke-linejoin="round" stroke-linecap="square"/><polyline points="120.4,228.0 136.3,205.7 152.2,215.0 168.1,224.7 184.0,229.0 199.9,247.0 215.8,286.3 231.7,335.0 247.7,289.3 263.6,244.7 279.5,234.7 295.4,223.0 311.3,213.0 327.2,192.4 343.1,177.4 359.0,179.1 374.9,189.8 390.9,184.8 406.8,168.1 422.7,174.1 438.6,179.8 454.5,181.4 470.4,172.1 486.3,173.8 502.2,182.4 518.2,189.1 534.1,200.4 550.0,207.1 565.9,203.1" fill="none" stroke="#e74c3c" stroke-width="4.2" stroke-linejoin="round" stroke-linecap="square"/></g>
<g clip-path="url(#ca)"><polyline points="120.4,71.6 136.3,56.6 152.2,59.6 168.1,62.6 184.0,60.6 199.9,76.6 215.8,124.8 231.7,214.7 247.7,159.0 263.6,103.2 279.5,89.9 295.4,80.9 311.3,76.6 327.2,63.3 343.1,48.3 359.0,51.6 374.9,64.9 390.9,59.3 406.8,39.3 422.7,40.6 438.6,49.3 454.5,54.3 470.4,41.6 486.3,39.3 502.2,43.3 518.2,49.3 534.1,57.3 550.0,54.9 565.9,53.9" fill="none" stroke="#000" stroke-width="6.2" stroke-linejoin="round" stroke-linecap="square"/><polyline points="120.4,71.6 136.3,56.6 152.2,59.6 168.1,62.6 184.0,60.6 199.9,76.6 215.8,124.8 231.7,214.7 247.7,159.0 263.6,103.2 279.5,89.9 295.4,80.9 311.3,76.6 327.2,63.3 343.1,48.3 359.0,51.6 374.9,64.9 390.9,59.3 406.8,39.3 422.7,40.6 438.6,49.3 454.5,54.3 470.4,41.6 486.3,39.3 502.2,43.3 518.2,49.3 534.1,57.3 550.0,54.9 565.9,53.9" fill="none" stroke="#9b59b6" stroke-width="4.2" stroke-linejoin="round" stroke-linecap="square"/></g>
<rect x="121.8" y="13.6" width="1221.4" height="312.3" fill="none" stroke="#111" stroke-width="1.2"/>
<text x="100.3" y="137.8" font-size="26.2" text-anchor="end" transform="matrix(1 0 0 1.06 0 -8.27)" >100</text>
<text x="100.3" y="256.0" font-size="26.2" text-anchor="end" transform="matrix(1 0 0 1.06 0 -15.36)" >10</text>
<text x="110.0" y="315.8" font-size="20.5" text-anchor="end" transform="matrix(1 0 0 1.06 0 -18.95)" >3</text>
<text x="110.0" y="289.6" font-size="20.5" text-anchor="end" transform="matrix(1 0 0 1.06 0 -17.37)" >5</text>
<text x="110.0" y="272.3" font-size="20.5" text-anchor="end" transform="matrix(1 0 0 1.06 0 -16.34)" >7</text>
<text x="110.0" y="218.4" font-size="20.5" text-anchor="end" transform="matrix(1 0 0 1.06 0 -13.10)" >2</text>
<text x="110.0" y="197.6" font-size="20.5" text-anchor="end" transform="matrix(1 0 0 1.06 0 -11.85)" >3</text>
<text x="110.0" y="171.4" font-size="20.5" text-anchor="end" transform="matrix(1 0 0 1.06 0 -10.28)" >5</text>
<text x="110.0" y="154.1" font-size="20.5" text-anchor="end" transform="matrix(1 0 0 1.06 0 -9.24)" >7</text>
<text x="110.0" y="100.2" font-size="20.5" text-anchor="end" transform="matrix(1 0 0 1.06 0 -6.01)" >2</text>
<text x="110.0" y="79.4" font-size="20.5" text-anchor="end" transform="matrix(1 0 0 1.06 0 -4.76)" >3</text>
<text x="110.0" y="53.2" font-size="20.5" text-anchor="end" transform="matrix(1 0 0 1.06 0 -3.19)" >5</text>
<text x="110.0" y="35.9" font-size="20.5" text-anchor="end" transform="matrix(1 0 0 1.06 0 -2.15)" >7</text>
<path d="M117.0,128.3 h4.8 M117.0,246.5 h4.8 M119.1,308.3 h2.7 M119.1,282.1 h2.7 M119.1,264.8 h2.7 M119.1,210.9 h2.7 M119.1,190.1 h2.7 M119.1,163.9 h2.7 M119.1,146.6 h2.7 M119.1,92.7 h2.7 M119.1,71.9 h2.7 M119.1,45.7 h2.7 M119.1,28.4 h2.7" stroke="#000" stroke-width="1.1" fill="none"/>
<text x="1360.2" y="336.4" font-size="25.5" transform="matrix(1 0 0 1.06 0 -20.18)">10<tspan dx="-0.8" dy="-10.7" font-size="17.8">5</tspan></text>
<text x="1360.2" y="180.1" font-size="25.5" transform="matrix(1 0 0 1.06 0 -10.81)">10<tspan dx="-0.8" dy="-10.7" font-size="17.8">6</tspan></text>
<text x="1360.2" y="23.8" font-size="25.5" transform="matrix(1 0 0 1.06 0 -1.43)">10<tspan dx="-0.8" dy="-10.7" font-size="17.8">7</tspan></text>
<path d="M1343.2,326.2 h4.8 M1343.2,279.1 h2.7 M1343.2,251.6 h2.7 M1343.2,232.1 h2.7 M1343.2,217.0 h2.7 M1343.2,204.6 h2.7 M1343.2,194.1 h2.7 M1343.2,185.0 h2.7 M1343.2,177.1 h2.7 M1343.2,169.9 h4.8 M1343.2,122.8 h2.7 M1343.2,95.3 h2.7 M1343.2,75.8 h2.7 M1343.2,60.7 h2.7 M1343.2,48.3 h2.7 M1343.2,37.8 h2.7 M1343.2,28.7 h2.7 M1343.2,20.8 h2.7 M1343.2,13.6 h4.8" stroke="#000" stroke-width="1.1" fill="none"/>
<text x="311.3" y="361.1" font-size="25.5" text-anchor="middle" transform="matrix(1 0 0 1.06 0 -21.67)" >09-17 12</text>
<text x="502.2" y="361.1" font-size="25.5" text-anchor="middle" transform="matrix(1 0 0 1.06 0 -21.67)" >09-17 14</text>
<text x="693.2" y="361.1" font-size="25.5" text-anchor="middle" transform="matrix(1 0 0 1.06 0 -21.67)" >09-17 16</text>
<text x="884.1" y="361.1" font-size="25.5" text-anchor="middle" transform="matrix(1 0 0 1.06 0 -21.67)" >09-17 18</text>
<text x="1075.1" y="361.1" font-size="25.5" text-anchor="middle" transform="matrix(1 0 0 1.06 0 -21.67)" >09-17 20</text>
<text x="1266.0" y="361.1" font-size="25.5" text-anchor="middle" transform="matrix(1 0 0 1.06 0 -21.67)" >09-17 22</text>
<path d="M311.3,325.9 v4.8 M502.2,325.9 v4.8 M693.2,325.9 v4.8 M884.1,325.9 v4.8 M1075.1,325.9 v4.8 M1266.0,325.9 v4.8" stroke="#000" stroke-width="1.1" fill="none"/>
<text x="0" y="0" font-size="28" text-anchor="middle" transform="translate(23.3,170.3) rotate(-90)">Diameter (nm)</text>
<text x="0" y="0" font-size="28" text-anchor="middle" transform="translate(1451.3,170.4) rotate(-90)">Concentration</text>
<text x="0" y="0" font-size="28" text-anchor="middle" transform="translate(1484.3,169.3) rotate(-90)">(molecules cm<tspan dx="0.5" dy="-11.8" font-size="19.6">−3</tspan><tspan dy="11.8">)</tspan></text>
<text x="1.5" y="32.6" font-size="43" font-weight="bold" style="font-family:'Liberation Sans',Arial,sans-serif">a</text>
<rect x="1140.5" y="28" width="188.5" height="89" rx="6" fill="#fff" fill-opacity="0.8" stroke="#ccc" stroke-opacity="0.8" stroke-width="1.1"/>
<path d="M1149.5,50.3 H1209.7" stroke="#9b59b6" stroke-width="4.5"/>
<path d="M1149.5,91.6 H1209.7" stroke="#e74c3c" stroke-width="4.5"/>
<text x="1228.8" y="59.6" font-size="27.8" text-anchor="start" transform="matrix(1 0 0 1.04 0 -2.38)" >HIO<tspan font-size="19.5" dx="0.6" dy="5.7">3</tspan></text>
<text x="1228.8" y="100.6" font-size="27.8" text-anchor="start" transform="matrix(1 0 0 1.04 0 -4.02)" >H<tspan font-size="19.5" dx="0.6" dy="5.7">2</tspan><tspan dx="0.6" dy="-5.7">SO</tspan><tspan font-size="19.5" dx="0.6" dy="5.7">4</tspan></text>
<path d="M177.2,384.2 L1287.4,384.2 L1344.0,395.7 L1287.4,407.2 L177.2,407.2 L121.0,395.7 Z" fill="url(#vg)"/>
<path d="M177.7,384.2 L121.0,395.7 L177.7,407.2 Z" fill="#440154"/>
<path d="M1286.9,384.2 L1344.0,395.7 L1286.9,407.2 Z" fill="#fde725"/>
<rect x="177.2" y="384.2" width="1110.2" height="23.0" fill="url(#vg)"/>
<path d="M177.2,384.2 L1287.4,384.2 L1344.0,395.7 L1287.4,407.2 L177.2,407.2 L121.0,395.7 Z" fill="none" stroke="#000" stroke-width="1.2"/>
<path d="M177.2,407.2 v4.8 M260.8,407.2 v2.7 M309.6,407.2 v2.7 M344.3,407.2 v2.7 M371.2,407.2 v2.7 M393.2,407.2 v2.7 M411.8,407.2 v2.7 M427.9,407.2 v2.7 M442.1,407.2 v2.7 M454.8,407.2 v4.8 M538.3,407.2 v2.7 M587.2,407.2 v2.7 M621.9,407.2 v2.7 M648.7,407.2 v2.7 M670.7,407.2 v2.7 M689.3,407.2 v2.7 M705.4,407.2 v2.7 M719.6,407.2 v2.7 M732.3,407.2 v4.8 M815.9,407.2 v2.7 M864.7,407.2 v2.7 M899.4,407.2 v2.7 M926.3,407.2 v2.7 M948.3,407.2 v2.7 M966.9,407.2 v2.7 M983.0,407.2 v2.7 M997.2,407.2 v2.7 M1009.9,407.2 v4.8 M1093.4,407.2 v2.7 M1142.3,407.2 v2.7 M1177.0,407.2 v2.7 M1203.8,407.2 v2.7 M1225.8,407.2 v2.7 M1244.4,407.2 v2.7 M1260.5,407.2 v2.7 M1274.7,407.2 v2.7 M1287.4,407.2 v4.8" stroke="#000" stroke-width="1.1" fill="none"/>
<text x="154.7" y="445.7" font-size="25.5" transform="matrix(1 0 0 1.06 0 -26.74)">10<tspan dx="-0.8" dy="-10.7" font-size="17.8">0</tspan></text>
<text x="432.2" y="445.7" font-size="25.5" transform="matrix(1 0 0 1.06 0 -26.74)">10<tspan dx="-0.8" dy="-10.7" font-size="17.8">1</tspan></text>
<text x="709.8" y="445.7" font-size="25.5" transform="matrix(1 0 0 1.06 0 -26.74)">10<tspan dx="-0.8" dy="-10.7" font-size="17.8">2</tspan></text>
<text x="987.3" y="445.7" font-size="25.5" transform="matrix(1 0 0 1.06 0 -26.74)">10<tspan dx="-0.8" dy="-10.7" font-size="17.8">3</tspan></text>
<text x="1264.9" y="445.7" font-size="25.5" transform="matrix(1 0 0 1.06 0 -26.74)">10<tspan dx="-0.8" dy="-10.7" font-size="17.8">4</tspan></text>
<text x="731.0" y="482.7" font-size="28" text-anchor="middle" transform="matrix(1 0 0 1.03 0 -14.48)" >dN/dlogDp (cm<tspan dx="0.5" dy="-11.8" font-size="19.6">−3</tspan><tspan dy="11.8">)</tspan></text>
<g clip-path="url(#cb)">
<rect x="164.3" y="555.6" width="8.0" height="312.3" fill="#d3d3d3" fill-opacity="0.6"/>
<rect x="218.2" y="555.6" width="85.9" height="312.3" fill="#d3d3d3" fill-opacity="0.6"/>
<rect x="1243.8" y="555.6" width="100.4" height="312.3" fill="#d3d3d3" fill-opacity="0.6"/>
</g>
<g clip-path="url(#cb)">
<polyline points="638.3,637.0 686.1,637.1 733.9,630.9 781.6,628.2 829.4,626.9 877.2,625.9 925.0,620.9 972.8,623.2 1020.5,629.2 1068.3,627.6 1116.1,636.2 1163.9,652.5 1211.7,676.5 1259.4,865.1 1307.2,827.3 1355.0,852.5" fill="none" stroke="#9b59b6" stroke-width="1.9"/>
<circle cx="638.3" cy="637.0" r="7.2" fill="#9b59b6" stroke="#000" stroke-width="1.2"/>
<circle cx="686.1" cy="637.1" r="7.2" fill="#9b59b6" stroke="#000" stroke-width="1.2"/>
<circle cx="733.9" cy="630.9" r="7.2" fill="#9b59b6" stroke="#000" stroke-width="1.2"/>
<circle cx="781.6" cy="628.2" r="7.2" fill="#9b59b6" stroke="#000" stroke-width="1.2"/>
<circle cx="829.4" cy="626.9" r="7.2" fill="#9b59b6" stroke="#000" stroke-width="1.2"/>
<circle cx="877.2" cy="625.9" r="7.2" fill="#9b59b6" stroke="#000" stroke-width="1.2"/>
<circle cx="925.0" cy="620.9" r="7.2" fill="#9b59b6" stroke="#000" stroke-width="1.2"/>
<circle cx="972.8" cy="623.2" r="7.2" fill="#9b59b6" stroke="#000" stroke-width="1.2"/>
<circle cx="1020.5" cy="629.2" r="7.2" fill="#9b59b6" stroke="#000" stroke-width="1.2"/>
<circle cx="1068.3" cy="627.6" r="7.2" fill="#9b59b6" stroke="#000" stroke-width="1.2"/>
<circle cx="1116.1" cy="636.2" r="7.2" fill="#9b59b6" stroke="#000" stroke-width="1.2"/>
<circle cx="1163.9" cy="652.5" r="7.2" fill="#9b59b6" stroke="#000" stroke-width="1.2"/>
<circle cx="1211.7" cy="676.5" r="7.2" fill="#9b59b6" stroke="#000" stroke-width="1.2"/>
<circle cx="1259.4" cy="865.1" r="7.2" fill="#9b59b6" stroke="#000" stroke-width="1.2"/>
<circle cx="1307.2" cy="827.3" r="7.2" fill="#9b59b6" stroke="#000" stroke-width="1.2"/>
<circle cx="1355.0" cy="852.5" r="7.2" fill="#9b59b6" stroke="#000" stroke-width="1.2"/>
<polyline points="638.3,690.5 686.1,681.2 733.9,681.4 781.6,678.4 829.4,677.0 877.2,673.6 925.0,670.0 972.8,673.4 1020.5,684.0 1068.3,686.3 1116.1,703.8 1163.9,733.6 1211.7,767.9 1259.4,975.0" fill="none" stroke="#1f77b4" stroke-width="1.9"/>
<circle cx="638.3" cy="690.5" r="7.2" fill="#1f77b4" stroke="#000" stroke-width="1.2"/>
<circle cx="686.1" cy="681.2" r="7.2" fill="#1f77b4" stroke="#000" stroke-width="1.2"/>
<circle cx="733.9" cy="681.4" r="7.2" fill="#1f77b4" stroke="#000" stroke-width="1.2"/>
<circle cx="781.6" cy="678.4" r="7.2" fill="#1f77b4" stroke="#000" stroke-width="1.2"/>
<circle cx="829.4" cy="677.0" r="7.2" fill="#1f77b4" stroke="#000" stroke-width="1.2"/>
<circle cx="877.2" cy="673.6" r="7.2" fill="#1f77b4" stroke="#000" stroke-width="1.2"/>
<circle cx="925.0" cy="670.0" r="7.2" fill="#1f77b4" stroke="#000" stroke-width="1.2"/>
<circle cx="972.8" cy="673.4" r="7.2" fill="#1f77b4" stroke="#000" stroke-width="1.2"/>
<circle cx="1020.5" cy="684.0" r="7.2" fill="#1f77b4" stroke="#000" stroke-width="1.2"/>
<circle cx="1068.3" cy="686.3" r="7.2" fill="#1f77b4" stroke="#000" stroke-width="1.2"/>
<circle cx="1116.1" cy="703.8" r="7.2" fill="#1f77b4" stroke="#000" stroke-width="1.2"/>
<circle cx="1163.9" cy="733.6" r="7.2" fill="#1f77b4" stroke="#000" stroke-width="1.2"/>
<circle cx="1211.7" cy="767.9" r="7.2" fill="#1f77b4" stroke="#000" stroke-width="1.2"/>
<polyline points="638.3,701.8 686.1,688.2 733.9,692.0 781.6,690.0 829.4,696.5 877.2,691.0 925.0,679.4 972.8,683.6 1020.5,702.6 1068.3,705.7 1116.1,736.0 1163.9,773.7 1211.7,827.8 1259.4,982.5" fill="none" stroke="#ff7f0e" stroke-width="1.9"/>
<circle cx="638.3" cy="701.8" r="7.2" fill="#ff7f0e" stroke="#000" stroke-width="1.2"/>
<circle cx="686.1" cy="688.2" r="7.2" fill="#ff7f0e" stroke="#000" stroke-width="1.2"/>
<circle cx="733.9" cy="692.0" r="7.2" fill="#ff7f0e" stroke="#000" stroke-width="1.2"/>
<circle cx="781.6" cy="690.0" r="7.2" fill="#ff7f0e" stroke="#000" stroke-width="1.2"/>
<circle cx="829.4" cy="696.5" r="7.2" fill="#ff7f0e" stroke="#000" stroke-width="1.2"/>
<circle cx="877.2" cy="691.0" r="7.2" fill="#ff7f0e" stroke="#000" stroke-width="1.2"/>
<circle cx="925.0" cy="679.4" r="7.2" fill="#ff7f0e" stroke="#000" stroke-width="1.2"/>
<circle cx="972.8" cy="683.6" r="7.2" fill="#ff7f0e" stroke="#000" stroke-width="1.2"/>
<circle cx="1020.5" cy="702.6" r="7.2" fill="#ff7f0e" stroke="#000" stroke-width="1.2"/>
<circle cx="1068.3" cy="705.7" r="7.2" fill="#ff7f0e" stroke="#000" stroke-width="1.2"/>
<circle cx="1116.1" cy="736.0" r="7.2" fill="#ff7f0e" stroke="#000" stroke-width="1.2"/>
<circle cx="1163.9" cy="773.7" r="7.2" fill="#ff7f0e" stroke="#000" stroke-width="1.2"/>
<circle cx="1211.7" cy="827.8" r="7.2" fill="#ff7f0e" stroke="#000" stroke-width="1.2"/>
<polyline points="638.3,708.2 686.1,690.5 733.9,707.3 781.6,707.3 829.4,717.9 877.2,717.3 925.0,708.9 972.8,720.9 1020.5,743.0 1068.3,757.4 1116.1,805.9 1163.9,861.6 1211.7,836.2 1259.4,903.9 1307.2,869.3" fill="none" stroke="#2ca02c" stroke-width="1.9"/>
<circle cx="638.3" cy="708.2" r="7.2" fill="#2ca02c" stroke="#000" stroke-width="1.2"/>
<circle cx="686.1" cy="690.5" r="7.2" fill="#2ca02c" stroke="#000" stroke-width="1.2"/>
<circle cx="733.9" cy="707.3" r="7.2" fill="#2ca02c" stroke="#000" stroke-width="1.2"/>
<circle cx="781.6" cy="707.3" r="7.2" fill="#2ca02c" stroke="#000" stroke-width="1.2"/>
<circle cx="829.4" cy="717.9" r="7.2" fill="#2ca02c" stroke="#000" stroke-width="1.2"/>
<circle cx="877.2" cy="717.3" r="7.2" fill="#2ca02c" stroke="#000" stroke-width="1.2"/>
<circle cx="925.0" cy="708.9" r="7.2" fill="#2ca02c" stroke="#000" stroke-width="1.2"/>
<circle cx="972.8" cy="720.9" r="7.2" fill="#2ca02c" stroke="#000" stroke-width="1.2"/>
<circle cx="1020.5" cy="743.0" r="7.2" fill="#2ca02c" stroke="#000" stroke-width="1.2"/>
<circle cx="1068.3" cy="757.4" r="7.2" fill="#2ca02c" stroke="#000" stroke-width="1.2"/>
<circle cx="1116.1" cy="805.9" r="7.2" fill="#2ca02c" stroke="#000" stroke-width="1.2"/>
<circle cx="1163.9" cy="861.6" r="7.2" fill="#2ca02c" stroke="#000" stroke-width="1.2"/>
<circle cx="1211.7" cy="836.2" r="7.2" fill="#2ca02c" stroke="#000" stroke-width="1.2"/>
<circle cx="1307.2" cy="869.3" r="7.2" fill="#2ca02c" stroke="#000" stroke-width="1.2"/>
<polyline points="638.3,679.9 686.1,695.7 733.9,693.5 781.6,689.4 829.4,683.0 877.2,691.0 925.0,703.9 972.8,717.9 1020.5,731.3 1068.3,737.1 1116.1,753.4 1163.9,786.5 1211.7,819.2 1259.4,996.7" fill="none" stroke="#e74c3c" stroke-width="1.9"/>
<circle cx="638.3" cy="679.9" r="7.2" fill="#e74c3c" stroke="#000" stroke-width="1.2"/>
<circle cx="686.1" cy="695.7" r="7.2" fill="#e74c3c" stroke="#000" stroke-width="1.2"/>
<circle cx="733.9" cy="693.5" r="7.2" fill="#e74c3c" stroke="#000" stroke-width="1.2"/>
<circle cx="781.6" cy="689.4" r="7.2" fill="#e74c3c" stroke="#000" stroke-width="1.2"/>
<circle cx="829.4" cy="683.0" r="7.2" fill="#e74c3c" stroke="#000" stroke-width="1.2"/>
<circle cx="877.2" cy="691.0" r="7.2" fill="#e74c3c" stroke="#000" stroke-width="1.2"/>
<circle cx="925.0" cy="703.9" r="7.2" fill="#e74c3c" stroke="#000" stroke-width="1.2"/>
<circle cx="972.8" cy="717.9" r="7.2" fill="#e74c3c" stroke="#000" stroke-width="1.2"/>
<circle cx="1020.5" cy="731.3" r="7.2" fill="#e74c3c" stroke="#000" stroke-width="1.2"/>
<circle cx="1068.3" cy="737.1" r="7.2" fill="#e74c3c" stroke="#000" stroke-width="1.2"/>
<circle cx="1116.1" cy="753.4" r="7.2" fill="#e74c3c" stroke="#000" stroke-width="1.2"/>
<circle cx="1163.9" cy="786.5" r="7.2" fill="#e74c3c" stroke="#000" stroke-width="1.2"/>
<circle cx="1211.7" cy="819.2" r="7.2" fill="#e74c3c" stroke="#000" stroke-width="1.2"/>
</g>
<rect x="121.8" y="555.6" width="1221.4" height="312.3" fill="none" stroke="#111" stroke-width="1.2"/>
<text x="108.0" y="678.0" font-size="26.2" text-anchor="end" transform="matrix(1 0 0 1.06 0 -40.68)" >10</text>
<text x="108.0" y="860.6" font-size="26.2" text-anchor="end" transform="matrix(1 0 0 1.06 0 -51.64)" >1</text>
<text x="109.3" y="803.6" font-size="20.5" text-anchor="end" transform="matrix(1 0 0 1.06 0 -48.22)" >2</text>
<text x="109.3" y="771.4" font-size="20.5" text-anchor="end" transform="matrix(1 0 0 1.06 0 -46.29)" >3</text>
<text x="109.3" y="730.9" font-size="20.5" text-anchor="end" transform="matrix(1 0 0 1.06 0 -43.86)" >5</text>
<text x="109.3" y="704.3" font-size="20.5" text-anchor="end" transform="matrix(1 0 0 1.06 0 -42.26)" >7</text>
<text x="109.3" y="621.0" font-size="20.5" text-anchor="end" transform="matrix(1 0 0 1.06 0 -37.26)" >2</text>
<text x="109.3" y="588.8" font-size="20.5" text-anchor="end" transform="matrix(1 0 0 1.06 0 -35.33)" >3</text>
<text x="109.3" y="566.0" font-size="20.5" text-anchor="end" transform="matrix(1 0 0 1.06 0 -33.96)" >4</text>
<path d="M117.0,668.5 h4.8 M117.0,851.1 h4.8 M119.1,796.1 h2.7 M119.1,764.0 h2.7 M119.1,723.5 h2.7 M119.1,696.8 h2.7 M119.1,613.5 h2.7 M119.1,581.4 h2.7 M119.1,558.6 h2.7" stroke="#000" stroke-width="1.1" fill="none"/>
<text x="1360.2" y="869.8" font-size="25.5" transform="matrix(1 0 0 1.06 0 -52.19)">10<tspan dx="-0.8" dy="-10.7" font-size="17.8">−2</tspan></text>
<text x="1360.2" y="776.3" font-size="25.5" transform="matrix(1 0 0 1.06 0 -46.58)">10<tspan dx="-0.8" dy="-10.7" font-size="17.8">−1</tspan></text>
<text x="1360.2" y="682.8" font-size="25.5" transform="matrix(1 0 0 1.06 0 -40.97)">10<tspan dx="-0.8" dy="-10.7" font-size="17.8">0</tspan></text>
<text x="1360.2" y="589.3" font-size="25.5" transform="matrix(1 0 0 1.06 0 -35.36)">10<tspan dx="-0.8" dy="-10.7" font-size="17.8">1</tspan></text>
<path d="M1343.2,859.6 h4.8 M1343.2,831.5 h2.7 M1343.2,815.0 h2.7 M1343.2,803.3 h2.7 M1343.2,794.2 h2.7 M1343.2,786.8 h2.7 M1343.2,780.6 h2.7 M1343.2,775.2 h2.7 M1343.2,770.4 h2.7 M1343.2,766.1 h4.8 M1343.2,738.0 h2.7 M1343.2,721.5 h2.7 M1343.2,709.8 h2.7 M1343.2,700.7 h2.7 M1343.2,693.3 h2.7 M1343.2,687.1 h2.7 M1343.2,681.7 h2.7 M1343.2,676.9 h2.7 M1343.2,672.6 h4.8 M1343.2,644.5 h2.7 M1343.2,628.0 h2.7 M1343.2,616.3 h2.7 M1343.2,607.2 h2.7 M1343.2,599.8 h2.7 M1343.2,593.6 h2.7 M1343.2,588.2 h2.7 M1343.2,583.4 h2.7 M1343.2,579.1 h4.8" stroke="#000" stroke-width="1.1" fill="none"/>
<text x="311.3" y="897.1" font-size="25.5" text-anchor="middle" transform="matrix(1 0 0 1.06 0 -53.83)" >09-17 12</text>
<text x="502.2" y="897.1" font-size="25.5" text-anchor="middle" transform="matrix(1 0 0 1.06 0 -53.83)" >09-17 14</text>
<text x="693.2" y="897.1" font-size="25.5" text-anchor="middle" transform="matrix(1 0 0 1.06 0 -53.83)" >09-17 16</text>
<text x="884.1" y="897.1" font-size="25.5" text-anchor="middle" transform="matrix(1 0 0 1.06 0 -53.83)" >09-17 18</text>
<text x="1075.1" y="897.1" font-size="25.5" text-anchor="middle" transform="matrix(1 0 0 1.06 0 -53.83)" >09-17 20</text>
<text x="1266.0" y="897.1" font-size="25.5" text-anchor="middle" transform="matrix(1 0 0 1.06 0 -53.83)" >09-17 22</text>
<path d="M311.3,867.9 v4.8 M502.2,867.9 v4.8 M693.2,867.9 v4.8 M884.1,867.9 v4.8 M1075.1,867.9 v4.8 M1266.0,867.9 v4.8" stroke="#000" stroke-width="1.1" fill="none"/>
<text x="0" y="0" font-size="28" text-anchor="middle" transform="translate(46.4,712.8) rotate(-90)">Diameter (nm)</text>
<text x="0" y="0" font-size="28" text-anchor="middle" transform="translate(1466.3,716) rotate(-90)">Concentration</text>
<text x="0" y="0" font-size="28" text-anchor="middle" transform="translate(1495.2,706.9) rotate(-90)">of ions (cps)</text>
<text x="1.5" y="571.2" font-size="43" font-weight="bold" style="font-family:'Liberation Sans',Arial,sans-serif">b</text>
<rect x="134.3" y="577.3" width="783.4" height="37.6" rx="6" fill="#fff" fill-opacity="0.8" stroke="#ccc" stroke-opacity="0.8" stroke-width="1.1"/>
<path d="M138.8,593.5 h57.6" stroke="#9b59b6" stroke-width="1.9"/>
<circle cx="167.6" cy="593.5" r="7.2" fill="#9b59b6" stroke="#000" stroke-width="1.2"/>
<text x="202.1" y="603.6" font-size="27.8" transform="matrix(1 0 0 1.03 0 -18.11)">1 iod.</text>
<path d="M289.3,593.5 h57.6" stroke="#1f77b4" stroke-width="1.9"/>
<circle cx="318.1" cy="593.5" r="7.2" fill="#1f77b4" stroke="#000" stroke-width="1.2"/>
<text x="352.6" y="603.6" font-size="27.8" transform="matrix(1 0 0 1.03 0 -18.11)">2 iod.</text>
<path d="M439.2,593.5 h57.6" stroke="#ff7f0e" stroke-width="1.9"/>
<circle cx="468.0" cy="593.5" r="7.2" fill="#ff7f0e" stroke="#000" stroke-width="1.2"/>
<text x="502.5" y="603.6" font-size="27.8" transform="matrix(1 0 0 1.03 0 -18.11)">3 iod.</text>
<path d="M589.5,593.5 h57.6" stroke="#2ca02c" stroke-width="1.9"/>
<circle cx="618.3" cy="593.5" r="7.2" fill="#2ca02c" stroke="#000" stroke-width="1.2"/>
<text x="652.8" y="603.6" font-size="27.8" transform="matrix(1 0 0 1.03 0 -18.11)">4-8 iod.</text>
<path d="M767.5,593.5 h57.6" stroke="#e74c3c" stroke-width="1.9"/>
<circle cx="796.3" cy="593.5" r="7.2" fill="#e74c3c" stroke="#000" stroke-width="1.2"/>
<text x="830" y="603.6" font-size="27.8" transform="matrix(1 0 0 1.03 0 -18.11)">HSO<tspan font-size="19.5" dx="0.6" dy="6">4</tspan></text>
<path d="M891.5,583.6 h11" stroke="#000" stroke-width="1.7"/>
<path d="M177.4,913.8 L1287.2,913.8 L1344.0,925.3 L1287.2,936.8 L177.4,936.8 L121.0,925.3 Z" fill="url(#vg)"/>
<path d="M177.9,913.8 L121.0,925.3 L177.9,936.8 Z" fill="#440154"/>
<path d="M1286.7,913.8 L1344.0,925.3 L1286.7,936.8 Z" fill="#fde725"/>
<rect x="177.4" y="913.8" width="1109.8" height="23.0" fill="url(#vg)"/>
<path d="M177.4,913.8 L1287.2,913.8 L1344.0,925.3 L1287.2,936.8 L177.4,936.8 L121.0,925.3 Z" fill="none" stroke="#000" stroke-width="1.2"/>
<path d="M177.4,936.8 v4.8 M288.8,936.8 v2.7 M353.9,936.8 v2.7 M400.1,936.8 v2.7 M436.0,936.8 v2.7 M465.3,936.8 v2.7 M490.0,936.8 v2.7 M511.5,936.8 v2.7 M530.4,936.8 v2.7 M547.3,936.8 v4.8 M658.7,936.8 v2.7 M723.8,936.8 v2.7 M770.1,936.8 v2.7 M805.9,936.8 v2.7 M835.2,936.8 v2.7 M860.0,936.8 v2.7 M881.4,936.8 v2.7 M900.3,936.8 v2.7 M917.3,936.8 v4.8 M1028.6,936.8 v2.7 M1093.8,936.8 v2.7 M1140.0,936.8 v2.7 M1175.8,936.8 v2.7 M1205.1,936.8 v2.7 M1229.9,936.8 v2.7 M1251.3,936.8 v2.7 M1270.3,936.8 v2.7 M1287.2,936.8 v4.8" stroke="#000" stroke-width="1.1" fill="none"/>
<text x="154.9" y="975.3" font-size="25.5" transform="matrix(1 0 0 1.06 0 -58.52)">10<tspan dx="-0.8" dy="-10.7" font-size="17.8">0</tspan></text>
<text x="524.8" y="975.3" font-size="25.5" transform="matrix(1 0 0 1.06 0 -58.52)">10<tspan dx="-0.8" dy="-10.7" font-size="17.8">1</tspan></text>
<text x="894.7" y="975.3" font-size="25.5" transform="matrix(1 0 0 1.06 0 -58.52)">10<tspan dx="-0.8" dy="-10.7" font-size="17.8">2</tspan></text>
<text x="1264.7" y="975.3" font-size="25.5" transform="matrix(1 0 0 1.06 0 -58.52)">10<tspan dx="-0.8" dy="-10.7" font-size="17.8">3</tspan></text>
<text x="731.0" y="1012.3" font-size="28" text-anchor="middle" transform="matrix(1 0 0 1.03 0 -30.37)" >dN/dlogDp (cm<tspan dx="0.5" dy="-11.8" font-size="19.6">−3</tspan><tspan dy="11.8">)</tspan></text>
<text x="95.5" y="1100.7" font-size="43" font-weight="bold" style="font-family:'Liberation Sans',Arial,sans-serif">c</text>
<path fill="#34495e" d="M439.8,1181.7h11.1v11.1h-11.1zM437.8,1193.6h11.0v11.0h-11.0zM457.6,1203.7h11.2v11.2h-11.2zM460.0,1215.8h11.3v11.3h-11.3zM405.2,1247.8h11.3v11.3h-11.3zM447.8,1237.8h11.5v11.5h-11.5zM443.8,1240.8h11.5v11.5h-11.5zM455.0,1286.5h11.0v11.0h-11.0zM457.5,1291.0h11.0v11.0h-11.0zM551.1,1268.9h10.7v10.7h-10.7zM641.7,1334.7h11.0v11.0h-11.0zM652.4,1329.4h11.0v11.0h-11.0zM657.7,1332.5h11.0v11.0h-11.0zM614.5,1339.2h2.0v2.0h-2.0zM710.6,1360.1h11.7v11.7h-11.7zM721.9,1355.6h10.0v10.0h-10.0zM793.9,1364.3h11.3v11.3h-11.3zM767.6,1398.9h10.0v10.0h-10.0zM770.1,1407.4h9.0v9.0h-9.0zM791.9,1403.5h8.0v8.0h-8.0zM849.8,1410.2h11.3v11.3h-11.3zM893.8,1451.8h8.3v8.3h-8.3zM920.8,1451.4h10.0v10.0h-10.0zM905.1,1474.2h8.7v8.7h-8.7zM882.9,1482.9h10.0v10.0h-10.0zM951.9,1496.9h10.0v10.0h-10.0z"/>
<circle cx="287.3" cy="1118.2" r="4.7" fill="#fdd835"/><circle cx="280.9" cy="1133.7" r="9.1" fill="#fdd835"/><circle cx="309.9" cy="1124.4" r="6.4" fill="#fdd835"/><circle cx="319.3" cy="1124" r="6.7" fill="#fdd835"/><circle cx="329" cy="1114.9" r="5.7" fill="#fdd835"/><circle cx="329.9" cy="1127.6" r="4.7" fill="#fdd835"/><circle cx="326.2" cy="1136.2" r="7.3" fill="#fdd835"/><circle cx="293" cy="1175.6" r="4.9" fill="#fdd835"/>
<circle cx="327.3" cy="1184" r="7.7" fill="#9b59b6"/><circle cx="339" cy="1187" r="6.9" fill="#9b59b6"/><circle cx="350.6" cy="1190" r="6.4" fill="#9b59b6"/><circle cx="362.2" cy="1193" r="9.7" fill="#9b59b6"/><circle cx="395" cy="1197.3" r="6.3" fill="#9b59b6"/><circle cx="407.6" cy="1195.6" r="8.5" fill="#9b59b6"/><circle cx="418.6" cy="1203.3" r="7.7" fill="#9b59b6"/><circle cx="377.9" cy="1221.3" r="7.1" fill="#9b59b6"/><circle cx="429.3" cy="1260.6" r="7.7" fill="#9b59b6"/>
<circle cx="488.6" cy="1255" r="8.3" fill="#1f77b4"/><circle cx="521.2" cy="1258" r="6" fill="#1f77b4"/><circle cx="520.8" cy="1264.9" r="8.4" fill="#1f77b4"/><circle cx="532.9" cy="1305.6" r="6.7" fill="#1f77b4"/>
<circle cx="590" cy="1320" r="6" fill="#ff7f0e"/><circle cx="603.3" cy="1313.3" r="4.3" fill="#ff7f0e"/><circle cx="602" cy="1323.3" r="8.7" fill="#ff7f0e"/><circle cx="635" cy="1327.6" r="5.3" fill="#ff7f0e"/>
<circle cx="729.8" cy="1375.6" r="6.3" fill="#2ca02c"/><circle cx="728.2" cy="1385.2" r="6.9" fill="#2ca02c"/>
<circle cx="830.4" cy="1450.4" r="5.6" fill="#d62728"/><circle cx="843.3" cy="1443.7" r="4.7" fill="#d62728"/><circle cx="841.9" cy="1453.3" r="7.1" fill="#d62728"/>
<circle cx="970" cy="1505.7" r="6" fill="#8c564b"/><circle cx="968.2" cy="1515.3" r="6.3" fill="#8c564b"/>
<circle cx="1083.1" cy="1573.9" r="4.7" fill="#e377c2"/><circle cx="1095.5" cy="1572.3" r="4.7" fill="#e377c2"/><circle cx="1081.5" cy="1583.8" r="5.8" fill="#e377c2"/>
<circle cx="1208" cy="1645.4" r="4.8" fill="#7f7f7f"/><circle cx="1221.5" cy="1634.3" r="4.8" fill="#7f7f7f"/>
<circle cx="304.6" cy="1138" r="8" fill="#fdd835"/><circle cx="315.9" cy="1141.5" r="6" fill="#fdd835"/><circle cx="294.6" cy="1147.9" r="5.3" fill="#fdd835"/><circle cx="293.3" cy="1152.6" r="6.7" fill="#fdd835"/><circle cx="305.9" cy="1150.6" r="8.7" fill="#fdd835"/><circle cx="305.3" cy="1155.3" r="6.5" fill="#fdd835"/><circle cx="317" cy="1158.6" r="7.3" fill="#fdd835"/><circle cx="336.3" cy="1144.3" r="5.3" fill="#fdd835"/><circle cx="349.9" cy="1141" r="6" fill="#fdd835"/><circle cx="351.3" cy="1153.5" r="6.4" fill="#fdd835"/><circle cx="374.8" cy="1157.5" r="6" fill="#fdd835"/><circle cx="386.5" cy="1160.9" r="4.7" fill="#fdd835"/><circle cx="376.2" cy="1170.3" r="8.3" fill="#fdd835"/><circle cx="374.8" cy="1166.6" r="6" fill="#fdd835"/><circle cx="446.9" cy="1190" r="5.7" fill="#fdd835"/>
<circle cx="431.3" cy="1199.6" r="8" fill="#9b59b6"/><circle cx="432.6" cy="1212.3" r="8.3" fill="#9b59b6"/><circle cx="419.6" cy="1219" r="7.3" fill="#9b59b6"/><circle cx="489.9" cy="1238.7" r="5.7" fill="#9b59b6"/>
<circle cx="544.5" cy="1268.3" r="8.3" fill="#1f77b4"/><circle cx="545.8" cy="1280.9" r="7.7" fill="#1f77b4"/>
<circle cx="670.8" cy="1330.4" r="6" fill="#ff7f0e"/><circle cx="673.9" cy="1333.3" r="5.3" fill="#ff7f0e"/><circle cx="672.3" cy="1342.9" r="5.6" fill="#ff7f0e"/><circle cx="659.2" cy="1349.3" r="7.3" fill="#ff7f0e"/>
<circle cx="784.6" cy="1398.6" r="6.7" fill="#2ca02c"/><circle cx="785.7" cy="1411" r="6.9" fill="#2ca02c"/>
<circle cx="910.8" cy="1460.6" r="4.9" fill="#d62728"/><circle cx="912.3" cy="1473" r="4" fill="#d62728"/><circle cx="899.2" cy="1479.3" r="6.7" fill="#d62728"/>
<circle cx="1024.3" cy="1529" r="5.7" fill="#8c564b"/><circle cx="1025.6" cy="1541.3" r="6.4" fill="#8c564b"/>
<circle cx="1139" cy="1609.3" r="5.4" fill="#e377c2"/>
<circle cx="1265.2" cy="1671.3" r="4.2" fill="#7f7f7f"/>
<path fill="#000" d="M304.6,1132.2L306.0,1136.5L310.5,1136.5L306.9,1139.1L308.3,1143.4L304.6,1140.8L300.9,1143.4L302.3,1139.1L298.7,1136.5L303.2,1136.5ZM315.9,1137.2L317.0,1140.5L320.4,1140.5L317.6,1142.5L318.7,1145.7L315.9,1143.7L313.1,1145.7L314.2,1142.5L311.4,1140.5L314.8,1140.5ZM294.6,1144.2L295.5,1147.0L298.5,1147.0L296.1,1148.8L297.0,1151.6L294.6,1149.9L292.2,1151.6L293.1,1148.8L290.7,1147.0L293.7,1147.0ZM293.3,1147.8L294.5,1151.4L298.3,1151.4L295.2,1153.6L296.4,1157.2L293.3,1155.0L290.2,1157.2L291.4,1153.6L288.3,1151.4L292.1,1151.4ZM305.9,1144.2L307.4,1148.9L312.4,1148.9L308.4,1151.8L309.9,1156.5L305.9,1153.6L301.9,1156.5L303.4,1151.8L299.4,1148.9L304.4,1148.9ZM305.3,1150.6L306.4,1154.1L310.1,1154.1L307.1,1156.3L308.3,1159.8L305.3,1157.6L302.3,1159.8L303.5,1156.3L300.5,1154.1L304.2,1154.1ZM317.0,1153.3L318.3,1157.2L322.4,1157.2L319.1,1159.7L320.3,1163.6L317.0,1161.2L313.7,1163.6L314.9,1159.7L311.6,1157.2L315.7,1157.2ZM336.3,1140.6L337.2,1143.4L340.2,1143.4L337.8,1145.2L338.7,1148.0L336.3,1146.3L333.9,1148.0L334.8,1145.2L332.4,1143.4L335.4,1143.4ZM349.9,1136.7L351.0,1140.0L354.4,1140.0L351.6,1142.0L352.7,1145.2L349.9,1143.2L347.1,1145.2L348.2,1142.0L345.4,1140.0L348.8,1140.0ZM351.3,1148.9L352.4,1152.4L356.0,1152.4L353.1,1154.5L354.2,1157.9L351.3,1155.8L348.4,1157.9L349.5,1154.5L346.6,1152.4L350.2,1152.4ZM374.8,1153.2L375.9,1156.5L379.3,1156.5L376.5,1158.5L377.6,1161.7L374.8,1159.7L372.0,1161.7L373.1,1158.5L370.3,1156.5L373.7,1156.5ZM386.5,1157.6L387.3,1160.2L390.0,1160.2L387.8,1161.7L388.7,1164.3L386.5,1162.7L384.3,1164.3L385.2,1161.7L383.0,1160.2L385.7,1160.2ZM376.2,1164.2L377.7,1168.7L382.4,1168.7L378.6,1171.5L380.0,1175.9L376.2,1173.2L372.4,1175.9L373.8,1171.5L370.0,1168.7L374.7,1168.7ZM374.8,1162.3L375.9,1165.6L379.3,1165.6L376.5,1167.6L377.6,1170.8L374.8,1168.8L372.0,1170.8L373.1,1167.6L370.3,1165.6L373.7,1165.6ZM446.9,1186.0L447.9,1189.0L451.1,1189.0L448.5,1190.9L449.5,1194.0L446.9,1192.1L444.3,1194.0L445.3,1190.9L442.7,1189.0L445.9,1189.0ZM431.3,1193.8L432.7,1198.1L437.2,1198.1L433.6,1200.7L435.0,1205.0L431.3,1202.4L427.6,1205.0L429.0,1200.7L425.4,1198.1L429.9,1198.1ZM432.6,1206.2L434.1,1210.7L438.8,1210.7L435.0,1213.5L436.4,1217.9L432.6,1215.2L428.8,1217.9L430.2,1213.5L426.4,1210.7L431.1,1210.7ZM419.6,1213.7L420.9,1217.6L425.0,1217.6L421.7,1220.1L422.9,1224.0L419.6,1221.6L416.3,1224.0L417.5,1220.1L414.2,1217.6L418.3,1217.6ZM489.9,1234.7L490.9,1237.7L494.1,1237.7L491.5,1239.6L492.5,1242.7L489.9,1240.8L487.3,1242.7L488.3,1239.6L485.7,1237.7L488.9,1237.7ZM544.5,1262.2L546.0,1266.7L550.7,1266.7L546.9,1269.5L548.3,1273.9L544.5,1271.2L540.7,1273.9L542.1,1269.5L538.3,1266.7L543.0,1266.7ZM545.8,1275.3L547.1,1279.4L551.5,1279.4L548.0,1282.0L549.3,1286.2L545.8,1283.6L542.3,1286.2L543.6,1282.0L540.1,1279.4L544.5,1279.4ZM670.8,1326.1L671.9,1329.4L675.3,1329.4L672.5,1331.4L673.6,1334.6L670.8,1332.6L668.0,1334.6L669.1,1331.4L666.3,1329.4L669.7,1329.4ZM673.9,1329.6L674.8,1332.4L677.8,1332.4L675.4,1334.2L676.3,1337.0L673.9,1335.3L671.5,1337.0L672.4,1334.2L670.0,1332.4L673.0,1332.4ZM672.3,1338.9L673.3,1342.0L676.5,1342.0L673.9,1343.8L674.9,1346.8L672.3,1345.0L669.7,1346.8L670.7,1343.8L668.1,1342.0L671.3,1342.0ZM659.2,1344.0L660.5,1347.9L664.6,1347.9L661.3,1350.4L662.5,1354.3L659.2,1351.9L655.9,1354.3L657.1,1350.4L653.8,1347.9L657.9,1347.9ZM784.6,1393.8L785.8,1397.4L789.6,1397.4L786.5,1399.6L787.7,1403.2L784.6,1401.0L781.5,1403.2L782.7,1399.6L779.6,1397.4L783.4,1397.4ZM785.7,1406.0L786.9,1409.7L790.8,1409.7L787.7,1412.0L788.9,1415.8L785.7,1413.5L782.5,1415.8L783.7,1412.0L780.6,1409.7L784.5,1409.7ZM910.8,1457.2L911.7,1459.8L914.4,1459.8L912.2,1461.5L913.0,1464.1L910.8,1462.5L908.6,1464.1L909.4,1461.5L907.2,1459.8L909.9,1459.8ZM912.3,1470.3L913.0,1472.4L915.3,1472.4L913.4,1473.8L914.1,1475.9L912.3,1474.6L910.5,1475.9L911.2,1473.8L909.3,1472.4L911.6,1472.4ZM899.2,1474.5L900.4,1478.1L904.2,1478.1L901.1,1480.3L902.3,1483.9L899.2,1481.7L896.1,1483.9L897.3,1480.3L894.2,1478.1L898.0,1478.1ZM1024.3,1525.0L1025.3,1528.0L1028.5,1528.0L1025.9,1529.9L1026.9,1533.0L1024.3,1531.1L1021.7,1533.0L1022.7,1529.9L1020.1,1528.0L1023.3,1528.0ZM1025.6,1536.7L1026.7,1540.2L1030.3,1540.2L1027.4,1542.3L1028.5,1545.7L1025.6,1543.6L1022.7,1545.7L1023.8,1542.3L1020.9,1540.2L1024.5,1540.2ZM1139.0,1605.5L1139.9,1608.4L1143.0,1608.4L1140.5,1610.2L1141.5,1613.1L1139.0,1611.3L1136.5,1613.1L1137.5,1610.2L1135.0,1608.4L1138.1,1608.4ZM1265.2,1668.4L1265.9,1670.7L1268.3,1670.7L1266.4,1672.1L1267.1,1674.4L1265.2,1673.0L1263.3,1674.4L1264.0,1672.1L1262.1,1670.7L1264.5,1670.7Z"/>
<rect x="223.7" y="1084.6" width="1094.9" height="643.2" fill="none" stroke="#777" stroke-width="1.1"/>
<text x="236.3" y="1764.1" font-size="25" text-anchor="middle" transform="matrix(1 0 0 1.07 0 -123.49)">0</text>
<text x="380.2" y="1764.1" font-size="25" text-anchor="middle" transform="matrix(1 0 0 1.07 0 -123.49)">200</text>
<text x="524.0" y="1764.1" font-size="25" text-anchor="middle" transform="matrix(1 0 0 1.07 0 -123.49)">400</text>
<text x="667.9" y="1764.1" font-size="25" text-anchor="middle" transform="matrix(1 0 0 1.07 0 -123.49)">600</text>
<text x="811.7" y="1764.1" font-size="25" text-anchor="middle" transform="matrix(1 0 0 1.07 0 -123.49)">800</text>
<text x="955.6" y="1764.1" font-size="25" text-anchor="middle" transform="matrix(1 0 0 1.07 0 -123.49)">1000</text>
<text x="1099.5" y="1764.1" font-size="25" text-anchor="middle" transform="matrix(1 0 0 1.07 0 -123.49)">1200</text>
<text x="1243.3" y="1764.1" font-size="25" text-anchor="middle" transform="matrix(1 0 0 1.07 0 -123.49)">1400</text>
<text x="211.3" y="1136.6" font-size="25.5" text-anchor="end" transform="matrix(1 0 0 1.08 0 -90.93)">0.0</text>
<text x="211.3" y="1256.7" font-size="25.5" text-anchor="end" transform="matrix(1 0 0 1.08 0 -100.54)">−0.2</text>
<text x="211.3" y="1376.8" font-size="25.5" text-anchor="end" transform="matrix(1 0 0 1.08 0 -110.15)">−0.4</text>
<text x="211.3" y="1497.0" font-size="25.5" text-anchor="end" transform="matrix(1 0 0 1.08 0 -119.76)">−0.6</text>
<text x="211.3" y="1617.1" font-size="25.5" text-anchor="end" transform="matrix(1 0 0 1.08 0 -129.37)">−0.8</text>
<text x="211.3" y="1737.2" font-size="25.5" text-anchor="end" transform="matrix(1 0 0 1.08 0 -138.98)">−1.0</text>
<path d="M236.3,1727.8 v2.6 M380.2,1727.8 v2.6 M524.0,1727.8 v2.6 M667.9,1727.8 v2.6 M811.7,1727.8 v2.6 M955.6,1727.8 v2.6 M1099.5,1727.8 v2.6 M1243.3,1727.8 v2.6 M223.7,1127.0 h-2.6 M223.7,1247.1 h-2.6 M223.7,1367.2 h-2.6 M223.7,1487.4 h-2.6 M223.7,1607.5 h-2.6 M223.7,1727.6 h-2.6" stroke="#aaa" stroke-width="1.0" fill="none"/>
<text x="0" y="0" font-size="24.9" text-anchor="middle" transform="translate(122.9,1407) rotate(-90)">Mass defect (Th)</text>
<text x="771" y="1805" font-size="24.9" text-anchor="middle"><tspan font-style="italic">m/z</tspan> (Th)</text>
<rect x="236.6" y="1502.6" width="566" height="212.5" rx="6" fill="#fff" fill-opacity="0.8" stroke="#ccc" stroke-opacity="0.8" stroke-width="1.1"/>
<circle cx="264.7" cy="1517.7" r="5.8" fill="#9b59b6"/>
<text x="290.3" y="1525.4" font-size="25">1 iodine atom</text>
<circle cx="264.7" cy="1554.1" r="5.8" fill="#1f77b4"/>
<text x="290.3" y="1561.8" font-size="25">2 iodine atoms</text>
<circle cx="264.7" cy="1590.6" r="5.8" fill="#ff7f0e"/>
<text x="290.3" y="1598.3" font-size="25">3 iodine atoms</text>
<circle cx="264.7" cy="1627.0" r="5.8" fill="#2ca02c"/>
<text x="290.3" y="1634.7" font-size="25">4 iodine atoms</text>
<circle cx="264.7" cy="1663.4" r="5.8" fill="#d62728"/>
<text x="290.3" y="1671.1" font-size="25">5 iodine atoms</text>
<circle cx="264.7" cy="1699.9" r="5.8" fill="#8c564b"/>
<text x="290.3" y="1707.6" font-size="25">6 iodine atoms</text>
<circle cx="517.2" cy="1517.7" r="5.8" fill="#e377c2"/>
<text x="542.8" y="1525.4" font-size="25">7 iodine atoms</text>
<circle cx="517.2" cy="1554.1" r="5.8" fill="#7f7f7f"/>
<text x="542.8" y="1561.8" font-size="25">8 iodine atoms</text>
<path d="M517.2,1585.1L518.5,1589.2L522.9,1589.2L519.4,1591.8L520.7,1596.0L517.2,1593.4L513.7,1596.0L515.0,1591.8L511.5,1589.2L515.9,1589.2Z" fill="#000"/>
<text x="542.8" y="1598.3" font-size="25">Sulfur containing</text>
<circle cx="517.2" cy="1627.0" r="5.8" fill="#fdd835"/>
<text x="542.8" y="1634.7" font-size="25">No iodine atoms</text>
<rect x="511.7" y="1657.9" width="11" height="11" fill="#34495e"/>
<text x="542.8" y="1671.1" font-size="25">Non identified peaks</text>
</svg></div></body></html>
